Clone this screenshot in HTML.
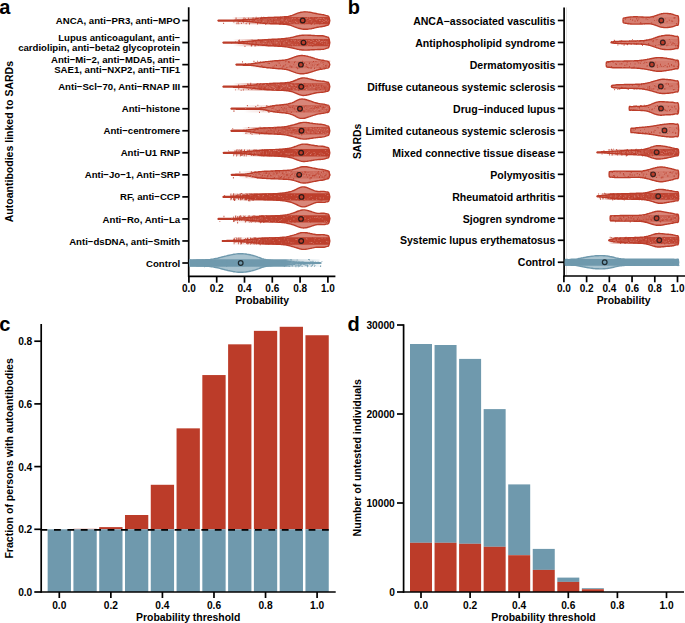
<!DOCTYPE html>
<html><head><meta charset="utf-8"><style>
html,body{margin:0;padding:0;background:#fff;width:685px;height:623px;overflow:hidden}
svg{display:block}
text{font-family:"Liberation Sans", sans-serif;fill:#000}
</style></head><body>
<svg width="685" height="623" viewBox="0 0 685 623" font-family='"Liberation Sans", sans-serif'>
<rect width="685" height="623" fill="#fff"/>
<defs><linearGradient id="g1" gradientUnits="userSpaceOnUse" x1="218.0" y1="0" x2="329.6" y2="0"><stop offset="0.000" stop-color="#BC3C29" stop-opacity="0.0"/><stop offset="0.125" stop-color="#BC3C29" stop-opacity="0.0"/><stop offset="0.161" stop-color="#BC3C29" stop-opacity="0.12"/><stop offset="0.287" stop-color="#BC3C29" stop-opacity="0.3"/><stop offset="0.421" stop-color="#BC3C29" stop-opacity="0.55"/><stop offset="0.556" stop-color="#BC3C29" stop-opacity="0.75"/><stop offset="0.735" stop-color="#BC3C29" stop-opacity="0.85"/><stop offset="1.004" stop-color="#BC3C29" stop-opacity="0.9"/></linearGradient><linearGradient id="g2" gradientUnits="userSpaceOnUse" x1="223.0" y1="0" x2="329.6" y2="0"><stop offset="0.000" stop-color="#BC3C29" stop-opacity="0.0"/><stop offset="0.094" stop-color="#BC3C29" stop-opacity="0.0"/><stop offset="0.141" stop-color="#BC3C29" stop-opacity="0.1"/><stop offset="0.253" stop-color="#BC3C29" stop-opacity="0.3"/><stop offset="0.394" stop-color="#BC3C29" stop-opacity="0.55"/><stop offset="0.535" stop-color="#BC3C29" stop-opacity="0.7"/><stop offset="0.722" stop-color="#BC3C29" stop-opacity="0.85"/><stop offset="1.004" stop-color="#BC3C29" stop-opacity="0.9"/></linearGradient><linearGradient id="g3" gradientUnits="userSpaceOnUse" x1="236.0" y1="0" x2="329.6" y2="0"><stop offset="0.000" stop-color="#BC3C29" stop-opacity="0.0"/><stop offset="0.150" stop-color="#BC3C29" stop-opacity="0.0"/><stop offset="0.214" stop-color="#BC3C29" stop-opacity="0.06"/><stop offset="0.417" stop-color="#BC3C29" stop-opacity="0.15"/><stop offset="0.577" stop-color="#BC3C29" stop-opacity="0.22"/><stop offset="0.791" stop-color="#BC3C29" stop-opacity="0.28"/><stop offset="1.004" stop-color="#BC3C29" stop-opacity="0.28"/></linearGradient><linearGradient id="g4" gradientUnits="userSpaceOnUse" x1="223.0" y1="0" x2="329.6" y2="0"><stop offset="0.000" stop-color="#BC3C29" stop-opacity="0.0"/><stop offset="0.094" stop-color="#BC3C29" stop-opacity="0.0"/><stop offset="0.141" stop-color="#BC3C29" stop-opacity="0.12"/><stop offset="0.253" stop-color="#BC3C29" stop-opacity="0.35"/><stop offset="0.366" stop-color="#BC3C29" stop-opacity="0.6"/><stop offset="0.535" stop-color="#BC3C29" stop-opacity="0.75"/><stop offset="0.704" stop-color="#BC3C29" stop-opacity="0.75"/><stop offset="0.816" stop-color="#BC3C29" stop-opacity="0.55"/><stop offset="1.004" stop-color="#BC3C29" stop-opacity="0.6"/></linearGradient><linearGradient id="g5" gradientUnits="userSpaceOnUse" x1="231.0" y1="0" x2="329.6" y2="0"><stop offset="0.000" stop-color="#BC3C29" stop-opacity="0.0"/><stop offset="0.132" stop-color="#BC3C29" stop-opacity="0.0"/><stop offset="0.193" stop-color="#BC3C29" stop-opacity="0.06"/><stop offset="0.345" stop-color="#BC3C29" stop-opacity="0.15"/><stop offset="0.497" stop-color="#BC3C29" stop-opacity="0.3"/><stop offset="0.649" stop-color="#BC3C29" stop-opacity="0.4"/><stop offset="0.801" stop-color="#BC3C29" stop-opacity="0.45"/><stop offset="1.004" stop-color="#BC3C29" stop-opacity="0.45"/></linearGradient><linearGradient id="g6" gradientUnits="userSpaceOnUse" x1="231.0" y1="0" x2="329.6" y2="0"><stop offset="0.000" stop-color="#BC3C29" stop-opacity="0.0"/><stop offset="0.112" stop-color="#BC3C29" stop-opacity="0.0"/><stop offset="0.152" stop-color="#BC3C29" stop-opacity="0.12"/><stop offset="0.243" stop-color="#BC3C29" stop-opacity="0.35"/><stop offset="0.375" stop-color="#BC3C29" stop-opacity="0.5"/><stop offset="0.548" stop-color="#BC3C29" stop-opacity="0.6"/><stop offset="0.751" stop-color="#BC3C29" stop-opacity="0.65"/><stop offset="1.004" stop-color="#BC3C29" stop-opacity="0.7"/></linearGradient><linearGradient id="g7" gradientUnits="userSpaceOnUse" x1="223.0" y1="0" x2="329.6" y2="0"><stop offset="0.000" stop-color="#BC3C29" stop-opacity="0.0"/><stop offset="0.084" stop-color="#BC3C29" stop-opacity="0.0"/><stop offset="0.103" stop-color="#BC3C29" stop-opacity="0.05"/><stop offset="0.253" stop-color="#BC3C29" stop-opacity="0.15"/><stop offset="0.366" stop-color="#BC3C29" stop-opacity="0.4"/><stop offset="0.441" stop-color="#BC3C29" stop-opacity="0.8"/><stop offset="0.535" stop-color="#BC3C29" stop-opacity="0.9"/><stop offset="0.722" stop-color="#BC3C29" stop-opacity="0.92"/><stop offset="1.004" stop-color="#BC3C29" stop-opacity="0.95"/></linearGradient><linearGradient id="g8" gradientUnits="userSpaceOnUse" x1="231.0" y1="0" x2="329.6" y2="0"><stop offset="0.000" stop-color="#BC3C29" stop-opacity="0.0"/><stop offset="0.091" stop-color="#BC3C29" stop-opacity="0.0"/><stop offset="0.142" stop-color="#BC3C29" stop-opacity="0.08"/><stop offset="0.243" stop-color="#BC3C29" stop-opacity="0.22"/><stop offset="0.345" stop-color="#BC3C29" stop-opacity="0.3"/><stop offset="0.548" stop-color="#BC3C29" stop-opacity="0.35"/><stop offset="0.751" stop-color="#BC3C29" stop-opacity="0.35"/><stop offset="1.004" stop-color="#BC3C29" stop-opacity="0.4"/></linearGradient><linearGradient id="g9" gradientUnits="userSpaceOnUse" x1="223.0" y1="0" x2="329.6" y2="0"><stop offset="0.000" stop-color="#BC3C29" stop-opacity="0.0"/><stop offset="0.056" stop-color="#BC3C29" stop-opacity="0.0"/><stop offset="0.075" stop-color="#BC3C29" stop-opacity="0.05"/><stop offset="0.159" stop-color="#BC3C29" stop-opacity="0.15"/><stop offset="0.225" stop-color="#BC3C29" stop-opacity="0.45"/><stop offset="0.291" stop-color="#BC3C29" stop-opacity="0.85"/><stop offset="0.394" stop-color="#BC3C29" stop-opacity="0.95"/><stop offset="0.722" stop-color="#BC3C29" stop-opacity="0.95"/><stop offset="1.004" stop-color="#BC3C29" stop-opacity="0.95"/></linearGradient><linearGradient id="g10" gradientUnits="userSpaceOnUse" x1="218.0" y1="0" x2="329.6" y2="0"><stop offset="0.000" stop-color="#BC3C29" stop-opacity="0.0"/><stop offset="0.125" stop-color="#BC3C29" stop-opacity="0.0"/><stop offset="0.143" stop-color="#BC3C29" stop-opacity="0.05"/><stop offset="0.269" stop-color="#BC3C29" stop-opacity="0.15"/><stop offset="0.358" stop-color="#BC3C29" stop-opacity="0.4"/><stop offset="0.421" stop-color="#BC3C29" stop-opacity="0.85"/><stop offset="0.511" stop-color="#BC3C29" stop-opacity="0.92"/><stop offset="0.735" stop-color="#BC3C29" stop-opacity="0.95"/><stop offset="1.004" stop-color="#BC3C29" stop-opacity="0.95"/></linearGradient><linearGradient id="g11" gradientUnits="userSpaceOnUse" x1="222.0" y1="0" x2="329.6" y2="0"><stop offset="0.000" stop-color="#BC3C29" stop-opacity="0.0"/><stop offset="0.093" stop-color="#BC3C29" stop-opacity="0.0"/><stop offset="0.112" stop-color="#BC3C29" stop-opacity="0.05"/><stop offset="0.242" stop-color="#BC3C29" stop-opacity="0.15"/><stop offset="0.335" stop-color="#BC3C29" stop-opacity="0.4"/><stop offset="0.400" stop-color="#BC3C29" stop-opacity="0.85"/><stop offset="0.493" stop-color="#BC3C29" stop-opacity="0.92"/><stop offset="0.725" stop-color="#BC3C29" stop-opacity="0.95"/><stop offset="1.004" stop-color="#BC3C29" stop-opacity="0.95"/></linearGradient><linearGradient id="g12" gradientUnits="userSpaceOnUse" x1="189.0" y1="0" x2="322.0" y2="0"><stop offset="0.000" stop-color="#6F99AD" stop-opacity="1"/><stop offset="0.729" stop-color="#6F99AD" stop-opacity="1"/><stop offset="0.767" stop-color="#6F99AD" stop-opacity="0.6"/><stop offset="0.835" stop-color="#6F99AD" stop-opacity="0.3"/><stop offset="1.000" stop-color="#6F99AD" stop-opacity="0.08"/></linearGradient><linearGradient id="g13" gradientUnits="userSpaceOnUse" x1="623.0" y1="0" x2="678.5" y2="0"><stop offset="0.000" stop-color="#BC3C29" stop-opacity="0.1"/><stop offset="0.486" stop-color="#BC3C29" stop-opacity="0.12"/><stop offset="0.991" stop-color="#BC3C29" stop-opacity="0.15"/></linearGradient><linearGradient id="g14" gradientUnits="userSpaceOnUse" x1="611.0" y1="0" x2="678.5" y2="0"><stop offset="0.000" stop-color="#BC3C29" stop-opacity="0.15"/><stop offset="0.430" stop-color="#BC3C29" stop-opacity="0.2"/><stop offset="0.578" stop-color="#BC3C29" stop-opacity="0.2"/><stop offset="0.993" stop-color="#BC3C29" stop-opacity="0.25"/></linearGradient><linearGradient id="g15" gradientUnits="userSpaceOnUse" x1="606.0" y1="0" x2="678.5" y2="0"><stop offset="0.000" stop-color="#BC3C29" stop-opacity="0.12"/><stop offset="0.993" stop-color="#BC3C29" stop-opacity="0.15"/></linearGradient><linearGradient id="g16" gradientUnits="userSpaceOnUse" x1="611.0" y1="0" x2="678.5" y2="0"><stop offset="0.000" stop-color="#BC3C29" stop-opacity="0.15"/><stop offset="0.504" stop-color="#BC3C29" stop-opacity="0.2"/><stop offset="0.993" stop-color="#BC3C29" stop-opacity="0.2"/></linearGradient><linearGradient id="g17" gradientUnits="userSpaceOnUse" x1="629.0" y1="0" x2="678.5" y2="0"><stop offset="0.000" stop-color="#BC3C29" stop-opacity="0.12"/><stop offset="0.990" stop-color="#BC3C29" stop-opacity="0.15"/></linearGradient><linearGradient id="g18" gradientUnits="userSpaceOnUse" x1="631.0" y1="0" x2="678.5" y2="0"><stop offset="0.000" stop-color="#BC3C29" stop-opacity="0.1"/><stop offset="0.989" stop-color="#BC3C29" stop-opacity="0.12"/></linearGradient><linearGradient id="g19" gradientUnits="userSpaceOnUse" x1="597.0" y1="0" x2="678.5" y2="0"><stop offset="0.000" stop-color="#BC3C29" stop-opacity="0.0"/><stop offset="0.110" stop-color="#BC3C29" stop-opacity="0.0"/><stop offset="0.184" stop-color="#BC3C29" stop-opacity="0.15"/><stop offset="0.344" stop-color="#BC3C29" stop-opacity="0.35"/><stop offset="0.528" stop-color="#BC3C29" stop-opacity="0.45"/><stop offset="0.650" stop-color="#BC3C29" stop-opacity="0.75"/><stop offset="0.994" stop-color="#BC3C29" stop-opacity="0.85"/></linearGradient><linearGradient id="g20" gradientUnits="userSpaceOnUse" x1="609.0" y1="0" x2="678.5" y2="0"><stop offset="0.000" stop-color="#BC3C29" stop-opacity="0.12"/><stop offset="0.993" stop-color="#BC3C29" stop-opacity="0.18"/></linearGradient><linearGradient id="g21" gradientUnits="userSpaceOnUse" x1="597.0" y1="0" x2="678.5" y2="0"><stop offset="0.000" stop-color="#BC3C29" stop-opacity="0.0"/><stop offset="0.086" stop-color="#BC3C29" stop-opacity="0.15"/><stop offset="0.160" stop-color="#BC3C29" stop-opacity="0.65"/><stop offset="0.528" stop-color="#BC3C29" stop-opacity="0.8"/><stop offset="0.994" stop-color="#BC3C29" stop-opacity="0.9"/></linearGradient><linearGradient id="g22" gradientUnits="userSpaceOnUse" x1="610.0" y1="0" x2="678.5" y2="0"><stop offset="0.000" stop-color="#BC3C29" stop-opacity="0.3"/><stop offset="0.438" stop-color="#BC3C29" stop-opacity="0.45"/><stop offset="0.730" stop-color="#BC3C29" stop-opacity="0.5"/><stop offset="0.993" stop-color="#BC3C29" stop-opacity="0.5"/></linearGradient><linearGradient id="g23" gradientUnits="userSpaceOnUse" x1="609.0" y1="0" x2="678.5" y2="0"><stop offset="0.000" stop-color="#BC3C29" stop-opacity="0.0"/><stop offset="0.043" stop-color="#BC3C29" stop-opacity="0.3"/><stop offset="0.158" stop-color="#BC3C29" stop-opacity="0.6"/><stop offset="0.446" stop-color="#BC3C29" stop-opacity="0.75"/><stop offset="0.993" stop-color="#BC3C29" stop-opacity="0.85"/></linearGradient><linearGradient id="g24" gradientUnits="userSpaceOnUse" x1="565.2" y1="0" x2="678.6" y2="0"><stop offset="0.000" stop-color="#6F99AD" stop-opacity="1"/><stop offset="1.000" stop-color="#6F99AD" stop-opacity="1"/></linearGradient></defs>
<text x="-0.80" y="13.90" font-size="20" text-anchor="start" font-weight="bold" >a</text>
<text x="180.20" y="24.16" font-size="9.62" text-anchor="end" font-weight="bold" >ANCA, anti−PR3, anti−MPO</text>
<line x1="182.30" y1="20.56" x2="188.70" y2="20.56" stroke="#000" stroke-width="1.7" />
<text x="180.20" y="40.80" font-size="9.62" text-anchor="end" font-weight="bold" >Lupus anticoagulant, anti−</text>
<text x="180.20" y="51.10" font-size="9.62" text-anchor="end" font-weight="bold" >cardiolipin, anti−beta2 glycoprotein</text>
<line x1="182.30" y1="42.60" x2="188.70" y2="42.60" stroke="#000" stroke-width="1.7" />
<text x="180.20" y="62.84" font-size="9.62" text-anchor="end" font-weight="bold" >Anti−Mi−2, anti−MDA5, anti−</text>
<text x="180.20" y="73.14" font-size="9.62" text-anchor="end" font-weight="bold" >SAE1, anti−NXP2, anti−TIF1</text>
<line x1="182.30" y1="64.64" x2="188.70" y2="64.64" stroke="#000" stroke-width="1.7" />
<text x="180.20" y="90.28" font-size="9.62" text-anchor="end" font-weight="bold" >Anti−Scl−70, Anti−RNAP III</text>
<line x1="182.30" y1="86.68" x2="188.70" y2="86.68" stroke="#000" stroke-width="1.7" />
<text x="180.20" y="112.32" font-size="9.62" text-anchor="end" font-weight="bold" >Anti−histone</text>
<line x1="182.30" y1="108.72" x2="188.70" y2="108.72" stroke="#000" stroke-width="1.7" />
<text x="180.20" y="134.36" font-size="9.62" text-anchor="end" font-weight="bold" >Anti−centromere</text>
<line x1="182.30" y1="130.76" x2="188.70" y2="130.76" stroke="#000" stroke-width="1.7" />
<text x="180.20" y="156.40" font-size="9.62" text-anchor="end" font-weight="bold" >Anti−U1 RNP</text>
<line x1="182.30" y1="152.80" x2="188.70" y2="152.80" stroke="#000" stroke-width="1.7" />
<text x="180.20" y="178.44" font-size="9.62" text-anchor="end" font-weight="bold" >Anti−Jo−1, Anti−SRP</text>
<line x1="182.30" y1="174.84" x2="188.70" y2="174.84" stroke="#000" stroke-width="1.7" />
<text x="180.20" y="200.48" font-size="9.62" text-anchor="end" font-weight="bold" >RF, anti−CCP</text>
<line x1="182.30" y1="196.88" x2="188.70" y2="196.88" stroke="#000" stroke-width="1.7" />
<text x="180.20" y="222.52" font-size="9.62" text-anchor="end" font-weight="bold" >Anti−Ro, Anti−La</text>
<line x1="182.30" y1="218.92" x2="188.70" y2="218.92" stroke="#000" stroke-width="1.7" />
<text x="180.20" y="244.56" font-size="9.62" text-anchor="end" font-weight="bold" >Anti−dsDNA, anti−Smith</text>
<line x1="182.30" y1="240.96" x2="188.70" y2="240.96" stroke="#000" stroke-width="1.7" />
<text x="180.20" y="266.60" font-size="9.62" text-anchor="end" font-weight="bold" >Control</text>
<line x1="182.30" y1="263.00" x2="188.70" y2="263.00" stroke="#000" stroke-width="1.7" />
<line x1="188.70" y1="7.30" x2="188.70" y2="277.10" stroke="#000" stroke-width="1.7" />
<line x1="188.00" y1="276.40" x2="335.40" y2="276.40" stroke="#000" stroke-width="1.7" />
<line x1="188.90" y1="276.40" x2="188.90" y2="282.70" stroke="#000" stroke-width="1.7" />
<text x="188.90" y="291.80" font-size="10" text-anchor="middle" font-weight="bold" >0.0</text>
<line x1="216.70" y1="276.40" x2="216.70" y2="282.70" stroke="#000" stroke-width="1.7" />
<text x="216.70" y="291.80" font-size="10" text-anchor="middle" font-weight="bold" >0.2</text>
<line x1="244.50" y1="276.40" x2="244.50" y2="282.70" stroke="#000" stroke-width="1.7" />
<text x="244.50" y="291.80" font-size="10" text-anchor="middle" font-weight="bold" >0.4</text>
<line x1="272.30" y1="276.40" x2="272.30" y2="282.70" stroke="#000" stroke-width="1.7" />
<text x="272.30" y="291.80" font-size="10" text-anchor="middle" font-weight="bold" >0.6</text>
<line x1="300.10" y1="276.40" x2="300.10" y2="282.70" stroke="#000" stroke-width="1.7" />
<text x="300.10" y="291.80" font-size="10" text-anchor="middle" font-weight="bold" >0.8</text>
<line x1="327.90" y1="276.40" x2="327.90" y2="282.70" stroke="#000" stroke-width="1.7" />
<text x="327.90" y="291.80" font-size="10" text-anchor="middle" font-weight="bold" >1.0</text>
<text x="262.10" y="304.20" font-size="10.45" text-anchor="middle" font-weight="bold" >Probability</text>
<text x="0.00" y="0.00" font-size="10.52" text-anchor="middle" font-weight="bold" transform="translate(13.2,141.6) rotate(-90)">Autoantibodies linked to SARDs</text>
<path d="M218.0,20.6 218.4,20.2 219.3,20.2 220.5,20.2 221.8,20.2 223.0,20.1 224.3,20.1 225.5,20.1 226.8,20.1 228.0,20.1 229.3,20.1 230.6,20.1 231.8,20.1 233.1,20.1 234.3,20.1 235.0,20.0 235.6,20.0 236.8,20.0 238.1,20.0 239.4,20.0 240.6,19.9 241.9,19.9 243.1,19.8 244.4,19.8 245.6,19.7 246.9,19.6 248.1,19.6 249.4,19.5 250.0,19.4 250.7,19.4 251.9,19.3 253.2,19.1 254.4,19.0 255.7,18.9 256.9,18.7 258.2,18.5 259.5,18.4 260.7,18.2 262.0,18.0 263.2,17.9 264.5,17.8 265.7,17.7 267.0,17.6 267.0,17.6 268.2,17.5 269.5,17.5 270.8,17.4 272.0,17.4 273.3,17.4 274.5,17.3 275.8,17.3 277.0,17.3 278.3,17.2 279.6,17.2 280.0,17.1 280.8,17.1 282.1,17.0 283.3,16.9 284.6,16.8 285.8,16.7 287.1,16.6 288.3,16.4 289.6,16.1 290.0,16.0 290.9,15.8 292.1,15.4 293.4,14.9 294.6,14.3 295.9,13.8 297.0,13.4 297.1,13.4 298.4,12.9 299.7,12.6 300.9,12.3 302.2,12.1 303.4,11.9 304.5,11.9 304.7,11.8 305.9,11.9 307.2,11.9 308.4,12.1 309.7,12.2 311.0,12.4 312.0,12.6 312.2,12.7 313.5,13.0 314.7,13.2 316.0,13.5 317.2,13.8 318.0,13.9 318.5,14.0 319.8,14.2 321.0,14.4 322.3,14.6 323.5,14.8 324.0,14.9 324.8,15.1 326.0,15.6 326.3,15.6 327.3,15.8 328.2,16.1 328.5,16.3 329.2,17.8 329.8,20.6 L329.8,20.6 329.2,23.4 328.5,24.8 328.2,25.1 327.3,25.3 326.3,25.5 326.0,25.5 324.8,26.0 324.0,26.2 323.5,26.3 322.3,26.5 321.0,26.7 319.8,26.9 318.5,27.1 318.0,27.2 317.2,27.3 316.0,27.6 314.7,27.9 313.5,28.2 312.2,28.4 312.0,28.5 311.0,28.7 309.7,28.9 308.4,29.1 307.2,29.2 305.9,29.3 304.7,29.3 304.5,29.3 303.4,29.2 302.2,29.1 300.9,28.8 299.7,28.5 298.4,28.2 297.1,27.8 297.0,27.7 295.9,27.3 294.6,26.8 293.4,26.3 292.1,25.8 290.9,25.3 290.0,25.1 289.6,25.0 288.3,24.7 287.1,24.5 285.8,24.4 284.6,24.3 283.3,24.2 282.1,24.1 280.8,24.0 280.0,24.0 279.6,24.0 278.3,23.9 277.0,23.9 275.8,23.8 274.5,23.8 273.3,23.8 272.0,23.7 270.8,23.7 269.5,23.6 268.2,23.6 267.0,23.5 267.0,23.5 265.7,23.4 264.5,23.3 263.2,23.2 262.0,23.1 260.7,22.9 259.5,22.8 258.2,22.6 256.9,22.4 255.7,22.3 254.4,22.1 253.2,22.0 251.9,21.8 250.7,21.7 250.0,21.7 249.4,21.6 248.1,21.6 246.9,21.5 245.6,21.4 244.4,21.4 243.1,21.3 241.9,21.3 240.6,21.2 239.4,21.2 238.1,21.1 236.8,21.1 235.6,21.1 235.0,21.1 234.3,21.1 233.1,21.1 231.8,21.0 230.6,21.0 229.3,21.0 228.0,21.0 226.8,21.0 225.5,21.0 224.3,21.0 223.0,21.0 221.8,21.0 220.5,21.0 219.3,21.0 218.4,21.0 218.0,20.6 Z" fill="#d98679" stroke="#BC3C29" stroke-width="1.4" stroke-linejoin="round"/>
<path d="M218.0,16.9 218.4,16.9 219.3,16.9 220.5,16.9 221.8,16.9 223.0,16.9 224.3,16.9 225.5,16.9 226.8,16.9 228.0,16.9 229.3,16.9 230.6,16.9 231.8,16.9 233.1,16.9 234.3,16.9 235.0,16.9 235.6,16.9 236.8,16.9 238.1,16.9 239.4,16.9 240.6,16.9 241.9,16.9 243.1,16.9 244.4,16.9 245.6,16.9 246.9,16.9 248.1,16.9 249.4,16.9 250.0,16.9 250.7,16.9 251.9,16.9 253.2,16.9 254.4,16.9 255.7,16.9 256.9,16.9 258.2,16.9 259.5,16.9 260.7,16.9 262.0,16.9 263.2,16.9 264.5,16.9 265.7,16.9 267.0,16.9 267.0,16.9 268.2,16.9 269.5,16.9 270.8,16.9 272.0,16.9 273.3,16.9 274.5,16.9 275.8,16.9 277.0,16.9 278.3,16.9 279.6,16.9 280.0,16.9 280.8,16.9 282.1,16.9 283.3,16.9 284.6,16.9 285.8,16.9 287.1,16.9 288.3,16.9 289.6,16.9 290.0,16.9 290.9,16.9 292.1,16.9 293.4,16.9 294.6,16.9 295.9,16.9 297.0,16.9 297.1,16.9 298.4,16.9 299.7,16.9 300.9,16.9 302.2,16.9 303.4,16.9 304.5,16.9 304.7,16.9 305.9,16.9 307.2,16.9 308.4,16.9 309.7,16.9 311.0,16.9 312.0,16.9 312.2,16.9 313.5,16.9 314.7,16.9 316.0,16.9 317.2,16.9 318.0,16.9 318.5,16.9 319.8,16.9 321.0,16.9 322.3,16.9 323.5,16.9 324.0,16.9 324.8,16.9 326.0,16.9 326.3,16.9 327.3,16.9 328.2,16.9 328.5,16.9 329.2,17.8 L329.2,23.4 328.5,24.3 328.2,24.3 327.3,24.3 326.3,24.3 326.0,24.3 324.8,24.3 324.0,24.3 323.5,24.3 322.3,24.3 321.0,24.3 319.8,24.3 318.5,24.3 318.0,24.3 317.2,24.3 316.0,24.3 314.7,24.3 313.5,24.3 312.2,24.3 312.0,24.3 311.0,24.3 309.7,24.3 308.4,24.3 307.2,24.3 305.9,24.3 304.7,24.3 304.5,24.3 303.4,24.3 302.2,24.3 300.9,24.3 299.7,24.3 298.4,24.3 297.1,24.3 297.0,24.3 295.9,24.3 294.6,24.3 293.4,24.3 292.1,24.3 290.9,24.3 290.0,24.3 289.6,24.3 288.3,24.3 287.1,24.3 285.8,24.3 284.6,24.3 283.3,24.3 282.1,24.3 280.8,24.3 280.0,24.3 279.6,24.3 278.3,24.3 277.0,24.3 275.8,24.3 274.5,24.3 273.3,24.3 272.0,24.3 270.8,24.3 269.5,24.3 268.2,24.3 267.0,24.3 267.0,24.3 265.7,24.3 264.5,24.3 263.2,24.3 262.0,24.3 260.7,24.3 259.5,24.3 258.2,24.3 256.9,24.3 255.7,24.3 254.4,24.3 253.2,24.3 251.9,24.3 250.7,24.3 250.0,24.3 249.4,24.3 248.1,24.3 246.9,24.3 245.6,24.3 244.4,24.3 243.1,24.3 241.9,24.3 240.6,24.3 239.4,24.3 238.1,24.3 236.8,24.3 235.6,24.3 235.0,24.3 234.3,24.3 233.1,24.3 231.8,24.3 230.6,24.3 229.3,24.3 228.0,24.3 226.8,24.3 225.5,24.3 224.3,24.3 223.0,24.3 221.8,24.3 220.5,24.3 219.3,24.3 218.4,24.3 218.0,24.3 Z" fill="url(#g1)"/>
<path d="M223.2 22.8h.9v1.2h-.9zM233.4 21.3h.9v1.2h-.9zM235.6 17.5h.9v1.6h-.9zM236.5 22.6h.9v1.6h-.9zM238.4 23.3h.9v0.9h-.9zM240.9 23.0h.9v0.9h-.9zM241.1 20.6h.9v0.9h-.9zM243.6 17.6h.9v1.2h-.9zM244.9 17.9h.9v0.9h-.9zM245.7 23.1h.9v1.2h-.9zM246.7 20.5h.9v1.2h-.9zM247.9 17.8h.9v1.6h-.9zM249.0 22.8h.9v1.6h-.9zM250.3 21.1h.9v0.9h-.9zM251.5 20.6h.9v1.6h-.9zM252.6 19.2h.9v1.6h-.9zM254.1 19.5h.9v1.6h-.9zM254.9 18.3h.9v1.6h-.9zM255.7 16.8h.9v0.9h-.9zM257.0 22.8h.9v1.6h-.9zM257.3 19.9h.9v0.9h-.9zM258.2 20.4h.9v1.2h-.9zM259.6 18.8h.9v1.6h-.9zM260.0 21.9h.9v1.6h-.9zM260.9 16.7h.9v0.9h-.9zM262.4 19.2h.9v0.9h-.9zM263.3 16.8h.9v1.2h-.9zM264.7 17.4h.9v1.2h-.9zM265.3 23.4h.9v1.6h-.9zM266.2 21.2h.9v0.9h-.9zM267.2 19.6h.9v0.9h-.9zM267.9 20.3h.9v0.9h-.9zM268.7 22.8h.9v1.2h-.9zM269.8 19.0h.9v0.9h-.9zM271.3 20.8h.9v0.9h-.9zM271.9 21.4h.9v1.6h-.9zM273.1 19.1h.9v1.6h-.9zM273.8 20.2h.9v1.6h-.9zM275.7 22.0h.9v1.2h-.9zM276.1 23.0h.9v0.9h-.9zM277.4 17.6h.9v1.6h-.9zM279.3 23.2h.9v1.2h-.9zM280.0 16.6h.9v1.6h-.9zM281.7 21.9h.9v1.2h-.9zM282.7 22.3h.9v0.9h-.9zM284.1 17.5h.9v1.2h-.9zM284.6 19.5h.9v1.2h-.9zM286.5 22.3h.9v1.2h-.9zM287.8 16.7h.9v1.2h-.9zM289.7 21.0h.9v0.9h-.9zM290.4 22.2h.9v0.9h-.9zM292.1 20.2h.9v1.6h-.9zM292.8 21.7h.9v1.6h-.9zM294.8 18.2h.9v1.2h-.9zM296.3 18.0h.9v0.9h-.9zM297.6 19.1h.9v1.2h-.9zM300.4 17.8h.9v1.2h-.9zM301.3 19.0h.9v1.2h-.9zM304.1 23.3h.9v0.9h-.9zM305.2 20.6h.9v0.9h-.9zM307.0 19.0h.9v1.6h-.9zM308.9 18.5h.9v0.9h-.9zM310.8 23.3h.9v1.6h-.9zM311.7 19.7h.9v1.2h-.9zM314.1 23.5h.9v0.9h-.9zM315.6 20.2h.9v1.6h-.9zM317.9 20.3h.9v1.6h-.9zM319.3 22.9h.9v1.6h-.9zM323.1 21.8h.9v1.6h-.9zM323.6 20.7h.9v1.6h-.9zM326.7 19.6h.9v1.6h-.9zM328.1 22.8h.9v0.9h-.9z" fill="#BC3C29" fill-opacity="0.9"/>
<path d="M237.8 20.8h.8v2.6h-.8zM242.9 18.5h.8v4.8h-.8zM249.0 20.3h.8v1.7h-.8zM252.7 17.3h.8v5.0h-.8zM260.7 19.7h.8v2.5h-.8zM261.5 16.9h.8v5.5h-.8zM267.1 21.5h.8v1.6h-.8zM272.8 20.8h.8v3.3h-.8zM279.9 17.2h.8v7.0h-.8zM285.6 17.0h.8v4.7h-.8z" fill="#BC3C29" fill-opacity="0.8"/>
<path d="M240.7 21.6h1.2v.8h-1.2zM249.7 22.4h0.9v.8h-0.9zM253.7 17.9h1.2v.8h-1.2zM258.8 18.3h1.2v.8h-1.2zM261.8 21.8h0.7v.8h-0.7zM262.9 20.9h1.2v.8h-1.2zM265.9 21.4h0.9v.8h-0.9zM267.5 23.0h0.7v.8h-0.7zM268.0 22.7h0.7v.8h-0.7zM270.5 22.1h0.7v.8h-0.7zM272.1 21.7h0.9v.8h-0.9zM272.5 19.5h0.7v.8h-0.7zM274.3 20.9h0.9v.8h-0.9zM275.6 18.3h1.2v.8h-1.2zM276.7 21.6h1.2v.8h-1.2zM277.2 21.6h1.2v.8h-1.2zM278.9 21.4h0.7v.8h-0.7zM279.9 19.8h0.7v.8h-0.7zM281.1 19.4h1.2v.8h-1.2zM282.1 19.6h1.2v.8h-1.2zM282.6 17.4h1.2v.8h-1.2zM283.9 22.1h0.7v.8h-0.7zM285.0 20.4h1.2v.8h-1.2zM286.0 19.5h0.9v.8h-0.9zM286.2 20.4h0.9v.8h-0.9zM287.0 21.4h0.9v.8h-0.9zM288.5 19.4h0.9v.8h-0.9zM289.0 22.0h1.2v.8h-1.2zM290.2 22.5h1.2v.8h-1.2zM291.4 19.5h0.7v.8h-0.7zM291.8 18.0h1.2v.8h-1.2zM292.6 21.6h0.7v.8h-0.7zM293.6 23.0h0.9v.8h-0.9zM294.6 18.1h0.9v.8h-0.9zM295.0 21.3h1.2v.8h-1.2zM296.0 22.0h0.7v.8h-0.7zM296.7 22.5h0.9v.8h-0.9zM297.9 17.9h0.7v.8h-0.7zM298.8 17.7h1.2v.8h-1.2zM299.3 22.9h0.9v.8h-0.9zM300.1 17.9h1.2v.8h-1.2zM301.0 18.2h1.2v.8h-1.2zM301.5 20.5h0.7v.8h-0.7zM302.3 19.8h1.2v.8h-1.2zM303.1 21.6h1.2v.8h-1.2zM304.0 18.3h1.2v.8h-1.2zM304.5 22.5h1.2v.8h-1.2zM305.8 18.5h1.2v.8h-1.2zM306.4 21.7h1.2v.8h-1.2zM307.0 17.6h1.2v.8h-1.2zM307.6 20.0h0.7v.8h-0.7zM308.9 17.4h1.2v.8h-1.2zM309.1 19.0h1.2v.8h-1.2zM309.9 19.0h1.2v.8h-1.2zM310.7 21.4h1.2v.8h-1.2zM311.4 19.8h1.2v.8h-1.2zM312.7 17.5h0.9v.8h-0.9zM313.0 23.0h0.7v.8h-0.7zM313.8 22.4h0.7v.8h-0.7zM314.9 22.5h0.7v.8h-0.7zM315.5 18.6h0.7v.8h-0.7zM315.9 19.5h1.2v.8h-1.2zM316.9 18.5h1.2v.8h-1.2zM317.9 17.9h0.7v.8h-0.7zM318.3 17.4h0.9v.8h-0.9zM319.3 20.1h1.2v.8h-1.2zM319.5 17.9h1.2v.8h-1.2zM320.7 18.2h0.9v.8h-0.9zM321.5 22.2h1.2v.8h-1.2zM322.3 20.0h0.7v.8h-0.7zM322.9 18.3h1.2v.8h-1.2zM323.4 21.1h1.2v.8h-1.2zM323.9 18.8h0.9v.8h-0.9zM324.9 20.3h0.7v.8h-0.7zM325.8 18.9h0.7v.8h-0.7zM326.1 20.2h0.9v.8h-0.9zM326.9 20.9h0.7v.8h-0.7zM327.8 20.3h0.7v.8h-0.7z" fill="#d98679" fill-opacity="0.85"/>
<circle cx="302.70" cy="20.56" r="2.35" fill="#BC3C29" stroke="#2a1a18" stroke-width="1.2"/>
<path d="M223.0,42.6 223.4,42.2 224.2,42.2 225.4,42.2 226.6,42.2 227.8,42.2 229.0,42.1 230.2,42.1 231.4,42.1 232.6,42.1 233.8,42.1 235.0,42.1 236.2,42.1 237.0,42.1 237.4,42.1 238.6,42.0 239.8,42.0 241.0,41.9 242.2,41.8 243.4,41.7 244.6,41.7 245.8,41.6 247.0,41.5 248.2,41.4 249.4,41.2 250.0,41.2 250.6,41.1 251.8,41.0 253.0,40.9 254.2,40.8 255.4,40.7 256.6,40.6 257.8,40.5 259.0,40.3 260.2,40.2 261.4,40.1 262.6,40.0 263.8,39.9 265.0,39.8 266.2,39.7 267.0,39.6 267.4,39.6 268.6,39.5 269.8,39.4 271.0,39.4 272.2,39.3 273.4,39.3 274.6,39.2 275.8,39.2 277.0,39.1 278.2,39.0 279.4,39.0 280.6,38.9 281.8,38.8 283.0,38.7 284.2,38.6 285.0,38.5 285.4,38.5 286.6,38.3 287.8,38.1 289.0,37.9 290.2,37.7 291.4,37.4 292.6,37.2 293.5,37.0 293.8,36.9 295.0,36.6 296.2,36.3 297.4,36.0 298.6,35.8 299.8,35.5 300.0,35.5 301.0,35.4 302.2,35.2 303.4,35.2 304.6,35.1 305.0,35.1 305.8,35.1 307.0,35.1 308.2,35.2 309.4,35.2 310.6,35.3 311.8,35.4 313.0,35.5 314.2,35.5 315.0,35.6 315.4,35.6 316.6,35.6 317.8,35.7 319.0,35.7 320.2,35.7 321.4,35.8 322.6,35.8 323.8,36.0 324.0,36.1 325.0,36.3 326.2,36.8 326.3,36.8 327.4,37.1 328.2,37.3 328.6,37.7 329.2,39.3 329.8,42.6 L329.8,42.6 329.2,45.9 328.6,47.5 328.2,47.9 327.4,48.1 326.3,48.4 326.2,48.4 325.0,48.9 324.0,49.1 323.8,49.2 322.6,49.4 321.4,49.4 320.2,49.5 319.0,49.5 317.8,49.5 316.6,49.6 315.4,49.6 315.0,49.6 314.2,49.7 313.0,49.7 311.8,49.8 310.6,49.9 309.4,50.0 308.2,50.0 307.0,50.1 305.8,50.1 305.0,50.1 304.6,50.1 303.4,50.0 302.2,50.0 301.0,49.8 300.0,49.7 299.8,49.7 298.6,49.4 297.4,49.2 296.2,48.9 295.0,48.6 293.8,48.3 293.5,48.2 292.6,48.0 291.4,47.8 290.2,47.5 289.0,47.3 287.8,47.1 286.6,46.9 285.4,46.7 285.0,46.7 284.2,46.6 283.0,46.5 281.8,46.4 280.6,46.3 279.4,46.2 278.2,46.2 277.0,46.1 275.8,46.0 274.6,46.0 273.4,45.9 272.2,45.9 271.0,45.8 269.8,45.8 268.6,45.7 267.4,45.6 267.0,45.6 266.2,45.5 265.0,45.4 263.8,45.3 262.6,45.2 261.4,45.1 260.2,45.0 259.0,44.9 257.8,44.7 256.6,44.6 255.4,44.5 254.2,44.4 253.0,44.3 251.8,44.2 250.6,44.1 250.0,44.0 249.4,44.0 248.2,43.8 247.0,43.7 245.8,43.6 244.6,43.5 243.4,43.5 242.2,43.4 241.0,43.3 239.8,43.2 238.6,43.2 237.4,43.1 237.0,43.1 236.2,43.1 235.0,43.1 233.8,43.1 232.6,43.1 231.4,43.1 230.2,43.1 229.0,43.1 227.8,43.0 226.6,43.0 225.4,43.0 224.2,43.0 223.4,43.0 223.0,42.6 Z" fill="#d98679" stroke="#BC3C29" stroke-width="1.4" stroke-linejoin="round"/>
<path d="M223.0,38.9 223.4,38.9 224.2,38.9 225.4,38.9 226.6,38.9 227.8,38.9 229.0,38.9 230.2,38.9 231.4,38.9 232.6,38.9 233.8,38.9 235.0,38.9 236.2,38.9 237.0,38.9 237.4,38.9 238.6,38.9 239.8,38.9 241.0,38.9 242.2,38.9 243.4,38.9 244.6,38.9 245.8,38.9 247.0,38.9 248.2,38.9 249.4,38.9 250.0,38.9 250.6,38.9 251.8,38.9 253.0,38.9 254.2,38.9 255.4,38.9 256.6,38.9 257.8,38.9 259.0,38.9 260.2,38.9 261.4,38.9 262.6,38.9 263.8,38.9 265.0,38.9 266.2,38.9 267.0,38.9 267.4,38.9 268.6,38.9 269.8,38.9 271.0,38.9 272.2,38.9 273.4,38.9 274.6,38.9 275.8,38.9 277.0,38.9 278.2,38.9 279.4,38.9 280.6,38.9 281.8,38.9 283.0,38.9 284.2,38.9 285.0,38.9 285.4,38.9 286.6,38.9 287.8,38.9 289.0,38.9 290.2,38.9 291.4,38.9 292.6,38.9 293.5,38.9 293.8,38.9 295.0,38.9 296.2,38.9 297.4,38.9 298.6,38.9 299.8,38.9 300.0,38.9 301.0,38.9 302.2,38.9 303.4,38.9 304.6,38.9 305.0,38.9 305.8,38.9 307.0,38.9 308.2,38.9 309.4,38.9 310.6,38.9 311.8,38.9 313.0,38.9 314.2,38.9 315.0,38.9 315.4,38.9 316.6,38.9 317.8,38.9 319.0,38.9 320.2,38.9 321.4,38.9 322.6,38.9 323.8,38.9 324.0,38.9 325.0,38.9 326.2,38.9 326.3,38.9 327.4,38.9 328.2,38.9 328.6,38.9 329.2,39.3 L329.2,45.9 328.6,46.3 328.2,46.3 327.4,46.3 326.3,46.3 326.2,46.3 325.0,46.3 324.0,46.3 323.8,46.3 322.6,46.3 321.4,46.3 320.2,46.3 319.0,46.3 317.8,46.3 316.6,46.3 315.4,46.3 315.0,46.3 314.2,46.3 313.0,46.3 311.8,46.3 310.6,46.3 309.4,46.3 308.2,46.3 307.0,46.3 305.8,46.3 305.0,46.3 304.6,46.3 303.4,46.3 302.2,46.3 301.0,46.3 300.0,46.3 299.8,46.3 298.6,46.3 297.4,46.3 296.2,46.3 295.0,46.3 293.8,46.3 293.5,46.3 292.6,46.3 291.4,46.3 290.2,46.3 289.0,46.3 287.8,46.3 286.6,46.3 285.4,46.3 285.0,46.3 284.2,46.3 283.0,46.3 281.8,46.3 280.6,46.3 279.4,46.3 278.2,46.3 277.0,46.3 275.8,46.3 274.6,46.3 273.4,46.3 272.2,46.3 271.0,46.3 269.8,46.3 268.6,46.3 267.4,46.3 267.0,46.3 266.2,46.3 265.0,46.3 263.8,46.3 262.6,46.3 261.4,46.3 260.2,46.3 259.0,46.3 257.8,46.3 256.6,46.3 255.4,46.3 254.2,46.3 253.0,46.3 251.8,46.3 250.6,46.3 250.0,46.3 249.4,46.3 248.2,46.3 247.0,46.3 245.8,46.3 244.6,46.3 243.4,46.3 242.2,46.3 241.0,46.3 239.8,46.3 238.6,46.3 237.4,46.3 237.0,46.3 236.2,46.3 235.0,46.3 233.8,46.3 232.6,46.3 231.4,46.3 230.2,46.3 229.0,46.3 227.8,46.3 226.6,46.3 225.4,46.3 224.2,46.3 223.4,46.3 223.0,46.3 Z" fill="url(#g2)"/>
<path d="M231.2 42.7h.9v0.9h-.9zM235.0 41.6h.9v0.9h-.9zM238.3 39.9h.9v1.2h-.9zM239.2 40.7h.9v1.2h-.9zM241.8 40.7h.9v0.9h-.9zM243.2 41.7h.9v1.2h-.9zM244.5 45.7h.9v1.2h-.9zM246.2 41.1h.9v0.9h-.9zM246.8 41.8h.9v1.6h-.9zM248.0 41.2h.9v0.9h-.9zM249.4 42.7h.9v1.2h-.9zM250.7 45.3h.9v0.9h-.9zM251.2 44.9h.9v1.6h-.9zM252.6 41.3h.9v0.9h-.9zM253.2 40.5h.9v1.6h-.9zM254.5 44.9h.9v1.6h-.9zM255.7 42.1h.9v0.9h-.9zM256.0 43.5h.9v0.9h-.9zM257.7 39.1h.9v0.9h-.9zM257.9 44.8h.9v0.9h-.9zM259.8 40.8h.9v1.2h-.9zM260.3 42.1h.9v0.9h-.9zM261.2 40.0h.9v1.6h-.9zM262.4 41.6h.9v1.2h-.9zM263.2 44.5h.9v1.6h-.9zM264.3 44.5h.9v0.9h-.9zM264.7 42.0h.9v0.9h-.9zM266.1 44.1h.9v1.2h-.9zM267.0 41.9h.9v0.9h-.9zM268.4 41.3h.9v0.9h-.9zM268.5 42.5h.9v0.9h-.9zM269.9 40.0h.9v0.9h-.9zM271.0 40.8h.9v1.6h-.9zM271.9 43.6h.9v1.6h-.9zM272.5 44.1h.9v1.2h-.9zM274.0 39.0h.9v0.9h-.9zM274.6 43.8h.9v1.2h-.9zM275.6 44.4h.9v1.2h-.9zM277.4 41.8h.9v0.9h-.9zM277.8 39.0h.9v1.2h-.9zM279.1 43.4h.9v1.6h-.9zM280.5 40.3h.9v1.2h-.9zM281.6 43.2h.9v1.2h-.9zM282.6 41.3h.9v1.6h-.9zM284.0 43.1h.9v1.6h-.9zM284.8 40.4h.9v0.9h-.9zM286.2 42.0h.9v1.2h-.9zM287.7 42.3h.9v1.6h-.9zM288.8 43.1h.9v0.9h-.9zM290.0 40.0h.9v1.6h-.9zM291.0 45.4h.9v1.2h-.9zM292.6 40.7h.9v1.6h-.9zM293.7 40.8h.9v0.9h-.9zM295.7 40.4h.9v0.9h-.9zM296.6 39.1h.9v0.9h-.9zM298.3 41.6h.9v1.2h-.9zM300.5 44.1h.9v1.6h-.9zM301.8 43.6h.9v1.2h-.9zM303.2 40.0h.9v1.2h-.9zM305.8 39.6h.9v1.6h-.9zM306.8 40.9h.9v1.6h-.9zM309.4 44.1h.9v0.9h-.9zM311.1 42.1h.9v0.9h-.9zM312.3 45.2h.9v1.6h-.9zM314.7 43.3h.9v0.9h-.9zM315.3 43.0h.9v1.6h-.9zM318.0 44.1h.9v0.9h-.9zM320.9 43.9h.9v0.9h-.9zM322.3 41.0h.9v0.9h-.9zM324.4 40.4h.9v0.9h-.9zM326.7 41.7h.9v0.9h-.9zM328.9 42.1h.9v0.9h-.9z" fill="#BC3C29" fill-opacity="0.9"/>
<path d="M238.9 39.4h.8v4.5h-.8zM245.3 40.7h.8v1.6h-.8zM251.7 39.6h.8v5.8h-.8zM255.4 40.6h.8v5.6h-.8zM261.6 39.9h.8v4.0h-.8zM267.6 39.7h.8v6.5h-.8zM272.9 39.9h.8v6.0h-.8zM281.1 42.2h.8v3.5h-.8zM285.0 41.1h.8v2.0h-.8zM289.3 38.9h.8v2.3h-.8z" fill="#BC3C29" fill-opacity="0.8"/>
<path d="M247.7 40.1h0.9v.8h-0.9zM250.6 39.7h1.2v.8h-1.2zM254.7 42.5h0.9v.8h-0.9zM259.7 44.8h0.7v.8h-0.7zM261.8 42.6h0.7v.8h-0.7zM262.9 43.0h1.2v.8h-1.2zM264.9 41.1h0.9v.8h-0.9zM267.8 42.6h0.7v.8h-0.7zM268.3 43.6h0.9v.8h-0.9zM270.5 42.7h0.7v.8h-0.7zM271.2 43.9h1.2v.8h-1.2zM273.5 42.4h0.9v.8h-0.9zM273.9 40.4h0.7v.8h-0.7zM275.8 42.6h0.9v.8h-0.9zM276.4 42.1h1.2v.8h-1.2zM278.2 40.2h1.2v.8h-1.2zM279.7 42.8h1.2v.8h-1.2zM280.0 44.0h0.7v.8h-0.7zM281.3 40.0h0.9v.8h-0.9zM282.9 42.4h1.2v.8h-1.2zM283.8 43.5h1.2v.8h-1.2zM284.5 41.6h0.9v.8h-0.9zM285.8 40.8h1.2v.8h-1.2zM286.6 41.4h0.7v.8h-0.7zM288.0 42.4h0.9v.8h-0.9zM288.4 43.2h1.2v.8h-1.2zM289.8 42.5h0.7v.8h-0.7zM290.6 39.9h1.2v.8h-1.2zM291.5 44.0h0.7v.8h-0.7zM292.1 44.6h0.7v.8h-0.7zM293.3 39.8h0.7v.8h-0.7zM294.1 40.7h1.2v.8h-1.2zM294.7 40.3h1.2v.8h-1.2zM295.2 44.2h0.7v.8h-0.7zM296.8 44.5h1.2v.8h-1.2zM297.4 39.5h0.7v.8h-0.7zM297.8 41.2h1.2v.8h-1.2zM299.0 40.4h0.7v.8h-0.7zM299.4 42.0h0.7v.8h-0.7zM300.3 44.6h1.2v.8h-1.2zM301.4 39.7h1.2v.8h-1.2zM301.8 40.2h0.7v.8h-0.7zM302.4 42.1h0.9v.8h-0.9zM303.2 42.3h1.2v.8h-1.2zM303.8 43.6h0.9v.8h-0.9zM304.7 41.8h0.9v.8h-0.9zM305.4 40.1h1.2v.8h-1.2zM306.1 41.3h0.7v.8h-0.7zM306.8 44.9h0.9v.8h-0.9zM307.8 43.6h0.9v.8h-0.9zM308.4 39.9h1.2v.8h-1.2zM309.5 43.9h0.9v.8h-0.9zM310.4 41.1h1.2v.8h-1.2zM310.6 43.8h0.9v.8h-0.9zM311.6 39.3h0.9v.8h-0.9zM312.2 44.3h1.2v.8h-1.2zM312.6 40.2h1.2v.8h-1.2zM313.4 41.9h1.2v.8h-1.2zM314.7 43.1h0.9v.8h-0.9zM315.1 42.2h1.2v.8h-1.2zM316.1 40.2h0.9v.8h-0.9zM316.2 40.1h0.7v.8h-0.7zM317.3 40.9h1.2v.8h-1.2zM318.2 39.6h1.2v.8h-1.2zM319.0 40.5h0.9v.8h-0.9zM319.1 40.0h0.9v.8h-0.9zM320.1 41.9h0.9v.8h-0.9zM320.7 41.3h1.2v.8h-1.2zM321.7 42.7h1.2v.8h-1.2zM321.9 40.9h1.2v.8h-1.2zM322.8 39.4h0.7v.8h-0.7zM323.8 41.2h1.2v.8h-1.2zM324.3 43.6h0.9v.8h-0.9zM325.0 40.7h0.7v.8h-0.7zM326.0 41.6h0.7v.8h-0.7zM326.3 43.6h0.9v.8h-0.9zM326.8 41.6h0.7v.8h-0.7zM327.7 44.4h1.2v.8h-1.2z" fill="#d98679" fill-opacity="0.85"/>
<circle cx="303.50" cy="42.60" r="2.35" fill="#BC3C29" stroke="#2a1a18" stroke-width="1.2"/>
<path d="M236.0,64.6 236.4,64.2 237.1,64.2 238.1,64.2 239.2,64.2 240.2,64.2 241.3,64.1 242.3,64.1 243.4,64.1 244.4,64.1 245.5,64.1 246.5,64.1 247.6,64.1 248.6,64.0 249.7,64.0 250.0,64.0 250.8,63.9 251.8,63.8 252.9,63.7 253.9,63.6 255.0,63.4 256.0,63.2 257.1,63.0 258.1,62.9 259.2,62.7 260.2,62.5 260.6,62.5 261.3,62.4 262.3,62.2 263.4,62.1 264.5,62.0 265.5,61.8 266.6,61.7 267.6,61.6 268.7,61.5 269.7,61.4 270.8,61.2 271.8,61.1 272.9,61.0 273.9,60.9 275.0,60.8 276.0,60.8 276.0,60.8 277.1,60.7 278.2,60.6 279.2,60.5 280.3,60.5 281.3,60.4 282.4,60.3 283.4,60.2 284.5,60.1 285.5,59.9 286.0,59.8 286.6,59.7 287.6,59.5 288.7,59.1 289.8,58.8 290.8,58.4 291.9,58.0 292.9,57.6 294.0,57.2 294.0,57.2 295.0,56.8 296.1,56.5 297.1,56.2 298.2,55.9 299.2,55.7 300.3,55.6 301.0,55.5 301.3,55.5 302.4,55.5 303.5,55.6 304.5,55.7 305.6,55.9 306.6,56.1 307.7,56.3 308.7,56.6 309.8,56.9 310.0,56.9 310.8,57.2 311.9,57.5 312.9,57.8 314.0,58.2 315.0,58.6 316.1,58.9 317.2,59.2 318.2,59.5 319.3,59.7 320.0,59.9 320.3,59.9 321.4,60.1 322.4,60.2 323.5,60.3 324.5,60.6 325.6,60.9 326.0,61.0 326.3,61.0 326.6,61.1 327.7,61.3 328.2,61.4 328.7,61.8 329.2,62.6 329.8,64.6 L329.8,64.6 329.2,66.6 328.7,67.4 328.2,67.9 327.7,68.0 326.6,68.1 326.3,68.2 326.0,68.3 325.6,68.4 324.5,68.7 323.5,68.9 322.4,69.1 321.4,69.2 320.3,69.4 320.0,69.4 319.3,69.5 318.2,69.8 317.2,70.0 316.1,70.4 315.0,70.7 314.0,71.1 312.9,71.4 311.9,71.8 310.8,72.1 310.0,72.4 309.8,72.4 308.7,72.7 307.7,73.0 306.6,73.2 305.6,73.4 304.5,73.6 303.5,73.7 302.4,73.8 301.3,73.8 301.0,73.8 300.3,73.7 299.2,73.6 298.2,73.4 297.1,73.1 296.1,72.8 295.0,72.4 294.0,72.1 294.0,72.1 292.9,71.7 291.9,71.3 290.8,70.9 289.8,70.5 288.7,70.1 287.6,69.8 286.6,69.6 286.0,69.4 285.5,69.3 284.5,69.2 283.4,69.1 282.4,69.0 281.3,68.9 280.3,68.8 279.2,68.7 278.2,68.7 277.1,68.6 276.0,68.5 276.0,68.5 275.0,68.4 273.9,68.3 272.9,68.2 271.8,68.1 270.8,68.0 269.7,67.9 268.7,67.8 267.6,67.7 266.6,67.6 265.5,67.4 264.5,67.3 263.4,67.2 262.3,67.0 261.3,66.9 260.6,66.8 260.2,66.7 259.2,66.6 258.1,66.4 257.1,66.2 256.0,66.1 255.0,65.9 253.9,65.7 252.9,65.6 251.8,65.5 250.8,65.4 250.0,65.3 249.7,65.3 248.6,65.3 247.6,65.2 246.5,65.2 245.5,65.2 244.4,65.2 243.4,65.2 242.3,65.1 241.3,65.1 240.2,65.1 239.2,65.1 238.1,65.1 237.1,65.1 236.4,65.0 236.0,64.6 Z" fill="#d98679" stroke="#BC3C29" stroke-width="1.4" stroke-linejoin="round"/>
<path d="M236.0,60.9 236.4,60.9 237.1,60.9 238.1,60.9 239.2,60.9 240.2,60.9 241.3,60.9 242.3,60.9 243.4,60.9 244.4,60.9 245.5,60.9 246.5,60.9 247.6,60.9 248.6,60.9 249.7,60.9 250.0,60.9 250.8,60.9 251.8,60.9 252.9,60.9 253.9,60.9 255.0,60.9 256.0,60.9 257.1,60.9 258.1,60.9 259.2,60.9 260.2,60.9 260.6,60.9 261.3,60.9 262.3,60.9 263.4,60.9 264.5,60.9 265.5,60.9 266.6,60.9 267.6,60.9 268.7,60.9 269.7,60.9 270.8,60.9 271.8,60.9 272.9,60.9 273.9,60.9 275.0,60.9 276.0,60.9 276.0,60.9 277.1,60.9 278.2,60.9 279.2,60.9 280.3,60.9 281.3,60.9 282.4,60.9 283.4,60.9 284.5,60.9 285.5,60.9 286.0,60.9 286.6,60.9 287.6,60.9 288.7,60.9 289.8,60.9 290.8,60.9 291.9,60.9 292.9,60.9 294.0,60.9 294.0,60.9 295.0,60.9 296.1,60.9 297.1,60.9 298.2,60.9 299.2,60.9 300.3,60.9 301.0,60.9 301.3,60.9 302.4,60.9 303.5,60.9 304.5,60.9 305.6,60.9 306.6,60.9 307.7,60.9 308.7,60.9 309.8,60.9 310.0,60.9 310.8,60.9 311.9,60.9 312.9,60.9 314.0,60.9 315.0,60.9 316.1,60.9 317.2,60.9 318.2,60.9 319.3,60.9 320.0,60.9 320.3,60.9 321.4,60.9 322.4,60.9 323.5,60.9 324.5,60.9 325.6,60.9 326.0,60.9 326.3,60.9 326.6,60.9 327.7,60.9 328.2,60.9 328.7,61.8 329.2,62.6 L329.2,66.6 328.7,67.4 328.2,68.3 327.7,68.3 326.6,68.3 326.3,68.3 326.0,68.3 325.6,68.3 324.5,68.3 323.5,68.3 322.4,68.3 321.4,68.3 320.3,68.3 320.0,68.3 319.3,68.3 318.2,68.3 317.2,68.3 316.1,68.3 315.0,68.3 314.0,68.3 312.9,68.3 311.9,68.3 310.8,68.3 310.0,68.3 309.8,68.3 308.7,68.3 307.7,68.3 306.6,68.3 305.6,68.3 304.5,68.3 303.5,68.3 302.4,68.3 301.3,68.3 301.0,68.3 300.3,68.3 299.2,68.3 298.2,68.3 297.1,68.3 296.1,68.3 295.0,68.3 294.0,68.3 294.0,68.3 292.9,68.3 291.9,68.3 290.8,68.3 289.8,68.3 288.7,68.3 287.6,68.3 286.6,68.3 286.0,68.3 285.5,68.3 284.5,68.3 283.4,68.3 282.4,68.3 281.3,68.3 280.3,68.3 279.2,68.3 278.2,68.3 277.1,68.3 276.0,68.3 276.0,68.3 275.0,68.3 273.9,68.3 272.9,68.3 271.8,68.3 270.8,68.3 269.7,68.3 268.7,68.3 267.6,68.3 266.6,68.3 265.5,68.3 264.5,68.3 263.4,68.3 262.3,68.3 261.3,68.3 260.6,68.3 260.2,68.3 259.2,68.3 258.1,68.3 257.1,68.3 256.0,68.3 255.0,68.3 253.9,68.3 252.9,68.3 251.8,68.3 250.8,68.3 250.0,68.3 249.7,68.3 248.6,68.3 247.6,68.3 246.5,68.3 245.5,68.3 244.4,68.3 243.4,68.3 242.3,68.3 241.3,68.3 240.2,68.3 239.2,68.3 238.1,68.3 237.1,68.3 236.4,68.3 236.0,68.3 Z" fill="url(#g3)"/>
<path d="M242.1 61.3h.9v1.2h-.9zM245.1 62.9h.9v1.6h-.9zM253.5 60.8h.9v1.6h-.9zM254.9 62.2h.9v0.9h-.9zM257.2 60.8h.9v0.9h-.9zM260.1 61.5h.9v1.2h-.9zM261.4 65.1h.9v1.2h-.9zM263.2 61.4h.9v1.6h-.9zM264.8 61.7h.9v1.2h-.9zM266.5 67.0h.9v1.2h-.9zM267.7 63.0h.9v0.9h-.9zM269.1 63.0h.9v0.9h-.9zM271.5 61.3h.9v1.2h-.9zM272.6 66.3h.9v1.2h-.9zM274.1 65.4h.9v0.9h-.9zM275.6 64.5h.9v1.2h-.9zM276.1 65.0h.9v0.9h-.9zM277.4 61.4h.9v0.9h-.9zM278.7 62.5h.9v1.2h-.9zM279.9 64.8h.9v0.9h-.9zM281.6 67.4h.9v1.6h-.9zM282.3 66.4h.9v0.9h-.9zM283.3 65.2h.9v1.6h-.9zM284.8 64.3h.9v1.2h-.9zM285.4 60.7h.9v1.6h-.9zM286.4 67.0h.9v1.2h-.9zM288.0 61.1h.9v1.6h-.9zM289.1 61.6h.9v1.2h-.9zM289.7 65.6h.9v1.6h-.9zM291.0 66.4h.9v0.9h-.9zM291.4 66.2h.9v1.6h-.9zM292.8 63.9h.9v1.2h-.9zM294.0 61.9h.9v1.6h-.9zM294.6 60.9h.9v0.9h-.9zM295.7 66.7h.9v1.2h-.9zM296.9 67.6h.9v1.6h-.9zM297.9 62.4h.9v0.9h-.9zM298.4 66.8h.9v1.6h-.9zM299.9 63.5h.9v1.6h-.9zM300.2 62.9h.9v1.2h-.9zM302.0 64.2h.9v1.6h-.9zM302.2 60.7h.9v1.2h-.9zM303.2 63.8h.9v1.2h-.9zM304.0 62.1h.9v1.6h-.9zM305.7 65.7h.9v1.6h-.9zM305.9 64.2h.9v0.9h-.9zM307.1 66.8h.9v1.2h-.9zM308.4 67.0h.9v1.6h-.9zM309.2 62.9h.9v1.2h-.9zM309.3 62.6h.9v0.9h-.9zM310.6 67.3h.9v1.6h-.9zM311.6 64.2h.9v1.6h-.9zM312.5 61.3h.9v1.2h-.9zM313.1 61.0h.9v1.2h-.9zM314.0 67.7h.9v1.2h-.9zM314.6 64.8h.9v1.2h-.9zM315.5 61.0h.9v0.9h-.9zM316.8 64.3h.9v1.6h-.9zM317.3 64.2h.9v1.2h-.9zM318.3 63.7h.9v0.9h-.9zM319.3 67.4h.9v0.9h-.9zM319.9 67.4h.9v1.6h-.9zM320.8 61.5h.9v1.6h-.9zM322.5 61.7h.9v1.2h-.9zM322.9 63.5h.9v1.2h-.9zM323.6 66.6h.9v1.2h-.9zM324.9 65.1h.9v1.6h-.9zM325.2 65.8h.9v1.2h-.9zM326.3 64.7h.9v1.6h-.9zM327.8 62.1h.9v0.9h-.9zM328.6 66.4h.9v1.2h-.9zM329.3 60.7h.9v0.9h-.9z" fill="#BC3C29" fill-opacity="0.9"/>
<path d="M248.8 63.6h0.7v.8h-0.7zM255.9 64.3h1.2v.8h-1.2zM265.2 62.0h1.2v.8h-1.2zM269.8 64.6h0.7v.8h-0.7zM272.6 65.7h0.7v.8h-0.7zM274.8 65.5h1.2v.8h-1.2zM276.8 62.8h0.7v.8h-0.7zM277.5 67.0h0.9v.8h-0.9zM280.7 65.5h0.9v.8h-0.9zM281.1 63.7h1.2v.8h-1.2zM283.6 63.7h1.2v.8h-1.2zM285.1 65.8h1.2v.8h-1.2zM286.0 62.3h0.7v.8h-0.7zM287.2 65.0h1.2v.8h-1.2zM288.0 65.5h0.9v.8h-0.9zM289.5 64.3h0.7v.8h-0.7zM290.4 66.4h0.7v.8h-0.7zM291.3 64.0h1.2v.8h-1.2zM292.4 64.0h1.2v.8h-1.2zM294.1 62.9h0.7v.8h-0.7zM295.2 66.6h0.7v.8h-0.7zM295.4 63.1h0.7v.8h-0.7zM296.2 65.3h1.2v.8h-1.2zM297.4 63.7h0.7v.8h-0.7zM298.2 66.7h0.9v.8h-0.9zM299.1 66.8h0.9v.8h-0.9zM300.3 61.5h0.9v.8h-0.9zM301.1 67.1h0.9v.8h-0.9zM301.9 64.8h0.7v.8h-0.7zM302.5 61.7h1.2v.8h-1.2zM303.7 64.2h1.2v.8h-1.2zM304.2 61.6h0.7v.8h-0.7zM305.1 64.5h0.9v.8h-0.9zM305.9 62.4h0.7v.8h-0.7zM307.0 63.4h0.9v.8h-0.9zM307.2 63.1h0.9v.8h-0.9zM308.3 64.8h1.2v.8h-1.2zM308.7 66.1h1.2v.8h-1.2zM309.8 66.7h0.7v.8h-0.7zM310.2 63.2h0.9v.8h-0.9zM311.0 64.6h0.9v.8h-0.9zM311.9 61.3h0.9v.8h-0.9zM312.5 63.4h1.2v.8h-1.2zM312.8 66.9h1.2v.8h-1.2zM313.5 62.0h0.7v.8h-0.7zM314.8 66.3h0.9v.8h-0.9zM314.8 65.1h1.2v.8h-1.2zM315.7 63.0h0.7v.8h-0.7zM316.9 65.8h1.2v.8h-1.2zM316.9 63.0h0.7v.8h-0.7zM317.7 66.5h0.7v.8h-0.7zM318.5 61.8h0.9v.8h-0.9zM319.1 62.0h0.9v.8h-0.9zM320.0 65.6h1.2v.8h-1.2zM320.8 63.9h1.2v.8h-1.2zM321.3 62.1h0.9v.8h-0.9zM321.9 64.3h0.9v.8h-0.9zM323.1 63.0h0.7v.8h-0.7zM323.8 64.5h0.7v.8h-0.7zM324.3 65.6h0.9v.8h-0.9zM324.7 66.3h0.9v.8h-0.9zM325.7 61.6h0.9v.8h-0.9zM326.4 64.7h0.9v.8h-0.9zM327.0 67.0h0.9v.8h-0.9zM328.0 64.0h0.9v.8h-0.9z" fill="#d98679" fill-opacity="0.85"/>
<circle cx="300.90" cy="64.64" r="2.35" fill="#BC3C29" stroke="#2a1a18" stroke-width="1.2"/>
<path d="M223.0,86.7 223.4,86.3 224.2,86.3 225.4,86.3 226.6,86.3 227.8,86.2 229.0,86.2 230.2,86.2 231.4,86.2 232.6,86.2 233.8,86.2 235.0,86.2 236.2,86.2 237.4,86.2 238.0,86.2 238.6,86.1 239.8,86.1 241.0,86.0 242.2,86.0 243.4,85.9 244.6,85.8 245.8,85.7 247.0,85.6 248.2,85.5 249.4,85.4 250.0,85.4 250.6,85.3 251.8,85.2 253.0,85.1 254.2,85.0 255.4,84.9 256.6,84.7 257.8,84.6 259.0,84.5 260.2,84.3 261.4,84.2 262.6,84.1 263.8,84.0 265.0,83.9 266.2,83.8 267.0,83.7 267.4,83.7 268.6,83.6 269.8,83.5 271.0,83.5 272.2,83.4 273.4,83.3 274.6,83.3 275.8,83.2 277.0,83.2 278.2,83.2 279.4,83.1 280.6,83.0 281.8,83.0 283.0,82.9 284.2,82.9 285.4,82.8 286.6,82.7 287.8,82.5 289.0,82.4 290.0,82.2 290.2,82.1 291.4,81.8 292.6,81.5 293.8,81.0 295.0,80.5 296.2,80.0 297.0,79.7 297.4,79.5 298.6,79.0 299.8,78.6 301.0,78.2 302.2,78.0 303.0,77.9 303.4,77.9 304.6,77.9 305.8,78.1 307.0,78.3 308.2,78.6 309.4,78.9 310.0,79.1 310.6,79.2 311.8,79.5 313.0,79.8 314.2,80.1 315.4,80.3 316.6,80.6 317.8,80.7 319.0,80.9 320.0,81.0 320.2,81.0 321.4,81.1 322.6,81.2 323.8,81.3 325.0,81.6 326.0,81.9 326.2,81.9 326.3,82.0 327.4,82.2 328.2,82.3 328.6,82.7 329.2,84.0 329.8,86.7 L329.8,86.7 329.2,89.4 328.6,90.7 328.2,91.0 327.4,91.2 326.3,91.4 326.2,91.4 326.0,91.5 325.0,91.8 323.8,92.1 322.6,92.2 321.4,92.3 320.2,92.4 320.0,92.4 319.0,92.5 317.8,92.6 316.6,92.8 315.4,93.0 314.2,93.3 313.0,93.6 311.8,93.9 310.6,94.2 310.0,94.3 309.4,94.5 308.2,94.8 307.0,95.0 305.8,95.3 304.6,95.4 303.4,95.5 303.0,95.5 302.2,95.4 301.0,95.1 299.8,94.8 298.6,94.3 297.4,93.8 297.0,93.7 296.2,93.3 295.0,92.8 293.8,92.3 292.6,91.9 291.4,91.5 290.2,91.2 290.0,91.2 289.0,91.0 287.8,90.8 286.6,90.7 285.4,90.6 284.2,90.5 283.0,90.4 281.8,90.4 280.6,90.3 279.4,90.3 278.2,90.2 277.0,90.2 275.8,90.1 274.6,90.1 273.4,90.0 272.2,90.0 271.0,89.9 269.8,89.8 268.6,89.8 267.4,89.7 267.0,89.7 266.2,89.6 265.0,89.5 263.8,89.4 262.6,89.3 261.4,89.2 260.2,89.0 259.0,88.9 257.8,88.8 256.6,88.6 255.4,88.5 254.2,88.4 253.0,88.3 251.8,88.1 250.6,88.0 250.0,88.0 249.4,87.9 248.2,87.8 247.0,87.7 245.8,87.6 244.6,87.5 243.4,87.5 242.2,87.4 241.0,87.3 239.8,87.3 238.6,87.2 238.0,87.2 237.4,87.2 236.2,87.2 235.0,87.2 233.8,87.2 232.6,87.1 231.4,87.1 230.2,87.1 229.0,87.1 227.8,87.1 226.6,87.1 225.4,87.1 224.2,87.1 223.4,87.1 223.0,86.7 Z" fill="#d98679" stroke="#BC3C29" stroke-width="1.4" stroke-linejoin="round"/>
<path d="M223.0,83.0 223.4,83.0 224.2,83.0 225.4,83.0 226.6,83.0 227.8,83.0 229.0,83.0 230.2,83.0 231.4,83.0 232.6,83.0 233.8,83.0 235.0,83.0 236.2,83.0 237.4,83.0 238.0,83.0 238.6,83.0 239.8,83.0 241.0,83.0 242.2,83.0 243.4,83.0 244.6,83.0 245.8,83.0 247.0,83.0 248.2,83.0 249.4,83.0 250.0,83.0 250.6,83.0 251.8,83.0 253.0,83.0 254.2,83.0 255.4,83.0 256.6,83.0 257.8,83.0 259.0,83.0 260.2,83.0 261.4,83.0 262.6,83.0 263.8,83.0 265.0,83.0 266.2,83.0 267.0,83.0 267.4,83.0 268.6,83.0 269.8,83.0 271.0,83.0 272.2,83.0 273.4,83.0 274.6,83.0 275.8,83.0 277.0,83.0 278.2,83.0 279.4,83.0 280.6,83.0 281.8,83.0 283.0,83.0 284.2,83.0 285.4,83.0 286.6,83.0 287.8,83.0 289.0,83.0 290.0,83.0 290.2,83.0 291.4,83.0 292.6,83.0 293.8,83.0 295.0,83.0 296.2,83.0 297.0,83.0 297.4,83.0 298.6,83.0 299.8,83.0 301.0,83.0 302.2,83.0 303.0,83.0 303.4,83.0 304.6,83.0 305.8,83.0 307.0,83.0 308.2,83.0 309.4,83.0 310.0,83.0 310.6,83.0 311.8,83.0 313.0,83.0 314.2,83.0 315.4,83.0 316.6,83.0 317.8,83.0 319.0,83.0 320.0,83.0 320.2,83.0 321.4,83.0 322.6,83.0 323.8,83.0 325.0,83.0 326.0,83.0 326.2,83.0 326.3,83.0 327.4,83.0 328.2,83.0 328.6,83.0 329.2,84.0 L329.2,89.4 328.6,90.4 328.2,90.4 327.4,90.4 326.3,90.4 326.2,90.4 326.0,90.4 325.0,90.4 323.8,90.4 322.6,90.4 321.4,90.4 320.2,90.4 320.0,90.4 319.0,90.4 317.8,90.4 316.6,90.4 315.4,90.4 314.2,90.4 313.0,90.4 311.8,90.4 310.6,90.4 310.0,90.4 309.4,90.4 308.2,90.4 307.0,90.4 305.8,90.4 304.6,90.4 303.4,90.4 303.0,90.4 302.2,90.4 301.0,90.4 299.8,90.4 298.6,90.4 297.4,90.4 297.0,90.4 296.2,90.4 295.0,90.4 293.8,90.4 292.6,90.4 291.4,90.4 290.2,90.4 290.0,90.4 289.0,90.4 287.8,90.4 286.6,90.4 285.4,90.4 284.2,90.4 283.0,90.4 281.8,90.4 280.6,90.4 279.4,90.4 278.2,90.4 277.0,90.4 275.8,90.4 274.6,90.4 273.4,90.4 272.2,90.4 271.0,90.4 269.8,90.4 268.6,90.4 267.4,90.4 267.0,90.4 266.2,90.4 265.0,90.4 263.8,90.4 262.6,90.4 261.4,90.4 260.2,90.4 259.0,90.4 257.8,90.4 256.6,90.4 255.4,90.4 254.2,90.4 253.0,90.4 251.8,90.4 250.6,90.4 250.0,90.4 249.4,90.4 248.2,90.4 247.0,90.4 245.8,90.4 244.6,90.4 243.4,90.4 242.2,90.4 241.0,90.4 239.8,90.4 238.6,90.4 238.0,90.4 237.4,90.4 236.2,90.4 235.0,90.4 233.8,90.4 232.6,90.4 231.4,90.4 230.2,90.4 229.0,90.4 227.8,90.4 226.6,90.4 225.4,90.4 224.2,90.4 223.4,90.4 223.0,90.4 Z" fill="url(#g4)"/>
<path d="M232.9 86.4h.9v1.2h-.9zM235.1 89.4h.9v0.9h-.9zM238.2 84.7h.9v1.6h-.9zM240.7 89.8h.9v0.9h-.9zM242.9 89.2h.9v1.2h-.9zM244.1 85.3h.9v1.2h-.9zM245.3 85.0h.9v1.6h-.9zM247.2 83.6h.9v1.6h-.9zM248.1 89.2h.9v0.9h-.9zM249.9 84.0h.9v1.6h-.9zM250.3 82.7h.9v1.6h-.9zM251.4 89.0h.9v0.9h-.9zM253.4 86.9h.9v0.9h-.9zM254.0 87.5h.9v1.2h-.9zM255.8 87.9h.9v1.2h-.9zM256.7 83.0h.9v0.9h-.9zM257.7 83.3h.9v1.6h-.9zM258.4 86.2h.9v1.2h-.9zM260.4 83.0h.9v0.9h-.9zM260.7 86.3h.9v1.6h-.9zM263.0 87.9h.9v0.9h-.9zM264.1 87.3h.9v1.6h-.9zM264.6 87.1h.9v1.6h-.9zM265.6 83.0h.9v0.9h-.9zM267.8 84.4h.9v1.6h-.9zM268.5 89.1h.9v0.9h-.9zM269.4 83.6h.9v1.2h-.9zM271.1 86.5h.9v0.9h-.9zM272.1 83.0h.9v0.9h-.9zM273.7 89.3h.9v0.9h-.9zM275.3 83.9h.9v1.2h-.9zM277.1 85.6h.9v1.2h-.9zM278.4 86.6h.9v0.9h-.9zM278.9 87.8h.9v0.9h-.9zM280.9 89.3h.9v1.2h-.9zM282.4 87.9h.9v1.6h-.9zM284.6 85.1h.9v1.2h-.9zM284.8 83.2h.9v0.9h-.9zM286.9 87.7h.9v1.2h-.9zM289.0 89.6h.9v0.9h-.9zM289.7 82.8h.9v1.2h-.9zM291.0 88.2h.9v1.2h-.9zM292.9 83.9h.9v0.9h-.9zM294.1 85.9h.9v1.6h-.9zM296.4 86.4h.9v1.6h-.9zM296.7 87.0h.9v0.9h-.9zM298.3 89.7h.9v1.2h-.9zM299.6 87.6h.9v0.9h-.9zM301.8 85.5h.9v1.6h-.9zM302.6 87.8h.9v1.2h-.9zM304.6 86.0h.9v1.2h-.9zM305.8 85.6h.9v0.9h-.9zM307.1 85.3h.9v0.9h-.9zM307.5 86.2h.9v0.9h-.9zM308.3 84.7h.9v1.2h-.9zM310.0 84.4h.9v1.6h-.9zM311.8 83.7h.9v1.2h-.9zM312.7 85.8h.9v0.9h-.9zM313.1 84.8h.9v1.6h-.9zM315.0 88.6h.9v1.2h-.9zM316.4 88.7h.9v1.6h-.9zM317.7 85.1h.9v0.9h-.9zM318.6 87.1h.9v0.9h-.9zM319.9 89.1h.9v0.9h-.9zM321.1 85.2h.9v1.6h-.9zM321.7 86.6h.9v1.2h-.9zM322.6 85.8h.9v0.9h-.9zM324.5 87.3h.9v1.2h-.9zM325.0 89.5h.9v1.6h-.9zM326.5 83.7h.9v1.2h-.9zM328.4 89.5h.9v1.2h-.9zM329.1 87.4h.9v1.2h-.9z" fill="#BC3C29" fill-opacity="0.9"/>
<path d="M238.4 84.6h.8v4.8h-.8zM248.4 83.7h.8v1.6h-.8zM259.5 85.6h.8v4.4h-.8zM268.6 83.5h.8v2.8h-.8zM278.6 84.3h.8v3.8h-.8zM285.3 85.7h.8v1.9h-.8zM297.7 83.2h.8v5.4h-.8zM304.1 83.2h.8v6.8h-.8zM316.2 84.0h.8v3.6h-.8zM324.4 86.7h.8v2.1h-.8z" fill="#BC3C29" fill-opacity="0.8"/>
<path d="M245.1 85.4h0.7v.8h-0.7zM246.9 85.7h0.9v.8h-0.9zM251.3 88.7h0.7v.8h-0.7zM252.2 86.4h0.9v.8h-0.9zM255.0 89.1h0.9v.8h-0.9zM256.4 87.5h0.9v.8h-0.9zM257.6 84.2h1.2v.8h-1.2zM259.6 86.5h0.9v.8h-0.9zM260.6 84.3h0.7v.8h-0.7zM261.0 83.6h0.7v.8h-0.7zM262.2 88.8h0.7v.8h-0.7zM263.7 85.3h0.9v.8h-0.9zM264.8 84.4h1.2v.8h-1.2zM265.4 83.9h0.7v.8h-0.7zM266.5 87.1h0.9v.8h-0.9zM267.5 86.0h0.9v.8h-0.9zM268.2 83.4h0.9v.8h-0.9zM268.9 87.5h1.2v.8h-1.2zM269.4 84.8h0.7v.8h-0.7zM270.3 87.9h0.9v.8h-0.9zM271.3 86.2h0.9v.8h-0.9zM272.4 86.4h1.2v.8h-1.2zM272.6 86.0h0.7v.8h-0.7zM273.5 87.3h1.2v.8h-1.2zM273.9 89.1h1.2v.8h-1.2zM275.2 88.0h0.9v.8h-0.9zM275.7 83.7h1.2v.8h-1.2zM276.6 86.2h0.9v.8h-0.9zM276.9 84.7h0.7v.8h-0.7zM277.9 83.9h1.2v.8h-1.2zM278.6 84.5h0.7v.8h-0.7zM279.1 84.8h0.7v.8h-0.7zM279.6 88.9h1.2v.8h-1.2zM280.4 87.7h1.2v.8h-1.2zM281.2 88.3h0.7v.8h-0.7zM281.5 87.4h1.2v.8h-1.2zM282.1 85.2h0.9v.8h-0.9zM283.0 85.6h0.7v.8h-0.7zM283.5 85.9h1.2v.8h-1.2zM284.5 85.0h1.2v.8h-1.2zM285.2 85.8h1.2v.8h-1.2zM285.9 87.8h0.9v.8h-0.9zM286.5 83.8h1.2v.8h-1.2zM287.0 84.9h1.2v.8h-1.2zM287.3 86.1h0.9v.8h-0.9zM288.4 87.3h1.2v.8h-1.2zM289.0 87.1h1.2v.8h-1.2zM289.7 87.5h0.7v.8h-0.7zM290.3 83.9h0.9v.8h-0.9zM291.0 84.4h1.2v.8h-1.2zM291.3 85.1h0.7v.8h-0.7zM292.2 85.0h0.9v.8h-0.9zM292.7 87.7h0.9v.8h-0.9zM293.3 89.1h0.9v.8h-0.9zM293.9 87.3h0.9v.8h-0.9zM294.4 83.5h0.9v.8h-0.9zM295.3 85.1h1.2v.8h-1.2zM295.9 88.0h1.2v.8h-1.2zM296.6 88.7h1.2v.8h-1.2zM297.5 86.8h0.7v.8h-0.7zM298.0 85.4h0.7v.8h-0.7zM298.7 85.4h0.9v.8h-0.9zM299.6 87.0h0.7v.8h-0.7zM299.7 88.3h0.9v.8h-0.9zM300.7 85.3h0.9v.8h-0.9zM301.1 84.4h1.2v.8h-1.2zM302.1 83.3h0.9v.8h-0.9zM303.4 84.1h0.9v.8h-0.9zM303.5 88.3h1.2v.8h-1.2zM305.0 87.0h0.9v.8h-0.9zM306.0 89.1h1.2v.8h-1.2zM306.6 83.7h0.7v.8h-0.7zM308.0 85.5h1.2v.8h-1.2zM308.7 87.9h0.7v.8h-0.7zM309.7 87.2h1.2v.8h-1.2zM311.1 83.7h0.7v.8h-0.7zM311.9 85.7h1.2v.8h-1.2zM313.2 87.0h1.2v.8h-1.2zM314.3 87.3h0.7v.8h-0.7zM316.3 85.9h0.7v.8h-0.7zM316.7 84.4h0.9v.8h-0.9zM317.7 88.9h0.7v.8h-0.7zM319.6 86.0h0.7v.8h-0.7zM319.8 87.5h0.9v.8h-0.9zM321.8 86.4h1.2v.8h-1.2zM322.7 83.8h0.9v.8h-0.9zM323.6 84.7h0.7v.8h-0.7zM324.4 83.7h0.7v.8h-0.7zM325.2 84.4h0.7v.8h-0.7zM326.1 84.5h0.9v.8h-0.9zM327.2 85.7h0.7v.8h-0.7z" fill="#d98679" fill-opacity="0.85"/>
<circle cx="301.20" cy="86.68" r="2.35" fill="#BC3C29" stroke="#2a1a18" stroke-width="1.2"/>
<path d="M231.0,108.7 231.4,108.3 232.1,108.3 233.2,108.3 234.3,108.3 235.4,108.3 236.6,108.3 237.7,108.3 238.8,108.3 239.9,108.3 241.0,108.3 242.1,108.3 243.2,108.2 244.3,108.2 245.4,108.2 246.5,108.2 247.7,108.2 248.8,108.2 249.9,108.2 250.0,108.2 251.0,108.2 252.1,108.2 253.2,108.2 254.3,108.2 255.4,108.1 256.5,108.1 257.6,108.1 258.8,108.1 259.9,108.0 261.0,108.0 262.1,107.9 263.0,107.8 263.2,107.8 264.3,107.6 265.4,107.5 266.5,107.3 267.6,107.0 268.7,106.7 269.9,106.5 271.0,106.2 272.1,106.0 273.0,105.8 273.2,105.8 274.3,105.6 275.4,105.4 276.5,105.3 277.6,105.2 278.7,105.1 279.8,105.0 281.0,104.9 282.1,104.8 283.2,104.7 284.3,104.5 285.4,104.4 286.5,104.2 287.6,104.1 288.7,103.8 289.8,103.5 290.0,103.5 290.9,103.2 292.1,102.8 293.2,102.3 294.3,101.8 295.4,101.2 296.0,100.9 296.5,100.6 297.6,100.1 298.7,99.6 299.8,99.3 300.9,99.1 301.0,99.1 302.0,99.0 303.2,99.1 304.3,99.2 305.4,99.5 306.5,99.8 307.6,100.1 308.7,100.5 309.8,100.9 310.0,100.9 310.9,101.2 312.0,101.6 313.1,102.0 314.3,102.4 315.4,102.7 316.5,103.0 317.6,103.3 318.7,103.6 319.8,103.7 320.0,103.8 320.9,103.9 322.0,104.0 323.1,104.1 324.2,104.3 325.4,104.6 326.0,104.8 326.3,104.8 326.5,104.9 327.6,105.1 328.2,105.2 328.7,105.6 329.2,106.5 329.8,108.7 L329.8,108.7 329.2,110.9 328.7,111.9 328.2,112.3 327.6,112.4 326.5,112.6 326.3,112.6 326.0,112.7 325.4,112.9 324.2,113.1 323.1,113.3 322.0,113.4 320.9,113.6 320.0,113.7 319.8,113.7 318.7,113.9 317.6,114.1 316.5,114.4 315.4,114.7 314.3,115.1 313.1,115.4 312.0,115.8 310.9,116.2 310.0,116.5 309.8,116.6 308.7,116.9 307.6,117.3 306.5,117.6 305.4,118.0 304.3,118.2 303.2,118.4 302.0,118.4 301.0,118.4 300.9,118.4 299.8,118.2 298.7,117.8 297.6,117.3 296.5,116.8 296.0,116.5 295.4,116.2 294.3,115.7 293.2,115.1 292.1,114.7 290.9,114.3 290.0,113.9 289.8,113.9 288.7,113.6 287.6,113.4 286.5,113.2 285.4,113.0 284.3,112.9 283.2,112.8 282.1,112.7 281.0,112.6 279.8,112.5 278.7,112.4 277.6,112.3 276.5,112.1 275.4,112.0 274.3,111.8 273.2,111.7 273.0,111.6 272.1,111.4 271.0,111.2 269.9,111.0 268.7,110.7 267.6,110.4 266.5,110.2 265.4,110.0 264.3,109.8 263.2,109.7 263.0,109.6 262.1,109.6 261.0,109.5 259.9,109.4 258.8,109.4 257.6,109.4 256.5,109.3 255.4,109.3 254.3,109.3 253.2,109.3 252.1,109.2 251.0,109.2 250.0,109.2 249.9,109.2 248.8,109.2 247.7,109.2 246.5,109.2 245.4,109.2 244.3,109.2 243.2,109.2 242.1,109.2 241.0,109.2 239.9,109.2 238.8,109.2 237.7,109.2 236.6,109.2 235.4,109.1 234.3,109.1 233.2,109.1 232.1,109.1 231.4,109.1 231.0,108.7 Z" fill="#d98679" stroke="#BC3C29" stroke-width="1.4" stroke-linejoin="round"/>
<path d="M231.0,105.0 231.4,105.0 232.1,105.0 233.2,105.0 234.3,105.0 235.4,105.0 236.6,105.0 237.7,105.0 238.8,105.0 239.9,105.0 241.0,105.0 242.1,105.0 243.2,105.0 244.3,105.0 245.4,105.0 246.5,105.0 247.7,105.0 248.8,105.0 249.9,105.0 250.0,105.0 251.0,105.0 252.1,105.0 253.2,105.0 254.3,105.0 255.4,105.0 256.5,105.0 257.6,105.0 258.8,105.0 259.9,105.0 261.0,105.0 262.1,105.0 263.0,105.0 263.2,105.0 264.3,105.0 265.4,105.0 266.5,105.0 267.6,105.0 268.7,105.0 269.9,105.0 271.0,105.0 272.1,105.0 273.0,105.0 273.2,105.0 274.3,105.0 275.4,105.0 276.5,105.0 277.6,105.0 278.7,105.0 279.8,105.0 281.0,105.0 282.1,105.0 283.2,105.0 284.3,105.0 285.4,105.0 286.5,105.0 287.6,105.0 288.7,105.0 289.8,105.0 290.0,105.0 290.9,105.0 292.1,105.0 293.2,105.0 294.3,105.0 295.4,105.0 296.0,105.0 296.5,105.0 297.6,105.0 298.7,105.0 299.8,105.0 300.9,105.0 301.0,105.0 302.0,105.0 303.2,105.0 304.3,105.0 305.4,105.0 306.5,105.0 307.6,105.0 308.7,105.0 309.8,105.0 310.0,105.0 310.9,105.0 312.0,105.0 313.1,105.0 314.3,105.0 315.4,105.0 316.5,105.0 317.6,105.0 318.7,105.0 319.8,105.0 320.0,105.0 320.9,105.0 322.0,105.0 323.1,105.0 324.2,105.0 325.4,105.0 326.0,105.0 326.3,105.0 326.5,105.0 327.6,105.0 328.2,105.0 328.7,105.6 329.2,106.5 L329.2,110.9 328.7,111.9 328.2,112.4 327.6,112.4 326.5,112.4 326.3,112.4 326.0,112.4 325.4,112.4 324.2,112.4 323.1,112.4 322.0,112.4 320.9,112.4 320.0,112.4 319.8,112.4 318.7,112.4 317.6,112.4 316.5,112.4 315.4,112.4 314.3,112.4 313.1,112.4 312.0,112.4 310.9,112.4 310.0,112.4 309.8,112.4 308.7,112.4 307.6,112.4 306.5,112.4 305.4,112.4 304.3,112.4 303.2,112.4 302.0,112.4 301.0,112.4 300.9,112.4 299.8,112.4 298.7,112.4 297.6,112.4 296.5,112.4 296.0,112.4 295.4,112.4 294.3,112.4 293.2,112.4 292.1,112.4 290.9,112.4 290.0,112.4 289.8,112.4 288.7,112.4 287.6,112.4 286.5,112.4 285.4,112.4 284.3,112.4 283.2,112.4 282.1,112.4 281.0,112.4 279.8,112.4 278.7,112.4 277.6,112.4 276.5,112.4 275.4,112.4 274.3,112.4 273.2,112.4 273.0,112.4 272.1,112.4 271.0,112.4 269.9,112.4 268.7,112.4 267.6,112.4 266.5,112.4 265.4,112.4 264.3,112.4 263.2,112.4 263.0,112.4 262.1,112.4 261.0,112.4 259.9,112.4 258.8,112.4 257.6,112.4 256.5,112.4 255.4,112.4 254.3,112.4 253.2,112.4 252.1,112.4 251.0,112.4 250.0,112.4 249.9,112.4 248.8,112.4 247.7,112.4 246.5,112.4 245.4,112.4 244.3,112.4 243.2,112.4 242.1,112.4 241.0,112.4 239.9,112.4 238.8,112.4 237.7,112.4 236.6,112.4 235.4,112.4 234.3,112.4 233.2,112.4 232.1,112.4 231.4,112.4 231.0,112.4 Z" fill="url(#g5)"/>
<path d="M233.5 110.3h.9v1.6h-.9zM245.5 107.8h.9v1.2h-.9zM246.9 105.0h.9v1.2h-.9zM251.0 107.9h.9v1.2h-.9zM255.3 106.1h.9v1.2h-.9zM257.4 104.8h.9v0.9h-.9zM259.0 111.7h.9v1.2h-.9zM260.8 106.8h.9v1.6h-.9zM262.1 108.5h.9v1.2h-.9zM265.0 107.3h.9v0.9h-.9zM266.4 105.1h.9v1.6h-.9zM267.6 111.1h.9v0.9h-.9zM268.5 111.4h.9v1.6h-.9zM270.0 106.0h.9v1.2h-.9zM271.6 107.7h.9v1.6h-.9zM272.8 107.4h.9v1.2h-.9zM273.8 105.9h.9v0.9h-.9zM275.4 109.4h.9v0.9h-.9zM276.6 110.3h.9v0.9h-.9zM277.6 110.1h.9v1.6h-.9zM278.9 109.5h.9v1.6h-.9zM279.9 104.8h.9v1.2h-.9zM281.1 106.4h.9v1.6h-.9zM282.4 108.4h.9v1.2h-.9zM283.3 109.7h.9v0.9h-.9zM284.1 107.5h.9v0.9h-.9zM285.8 107.9h.9v1.6h-.9zM286.5 110.7h.9v1.6h-.9zM287.5 104.9h.9v1.6h-.9zM288.8 106.6h.9v0.9h-.9zM289.8 106.8h.9v1.2h-.9zM290.9 111.8h.9v1.2h-.9zM291.9 106.3h.9v1.6h-.9zM292.7 105.1h.9v1.6h-.9zM293.8 107.7h.9v1.2h-.9zM294.2 109.3h.9v1.6h-.9zM295.7 105.8h.9v0.9h-.9zM296.3 110.7h.9v1.6h-.9zM297.3 106.1h.9v1.6h-.9zM298.1 109.7h.9v1.6h-.9zM299.3 105.9h.9v1.6h-.9zM299.9 111.0h.9v0.9h-.9zM301.5 106.1h.9v0.9h-.9zM302.6 109.9h.9v0.9h-.9zM303.6 110.7h.9v1.6h-.9zM303.9 106.5h.9v1.2h-.9zM305.4 105.4h.9v0.9h-.9zM306.5 108.9h.9v0.9h-.9zM306.7 108.3h.9v0.9h-.9zM307.8 108.1h.9v1.6h-.9zM308.8 110.3h.9v0.9h-.9zM310.0 108.0h.9v0.9h-.9zM310.7 108.2h.9v0.9h-.9zM312.0 108.2h.9v0.9h-.9zM312.7 107.9h.9v0.9h-.9zM314.0 107.6h.9v0.9h-.9zM314.8 105.9h.9v1.2h-.9zM315.9 106.8h.9v0.9h-.9zM316.5 106.6h.9v1.6h-.9zM317.9 106.5h.9v1.2h-.9zM318.8 110.3h.9v1.2h-.9zM319.8 105.5h.9v0.9h-.9zM320.1 106.2h.9v0.9h-.9zM321.9 108.5h.9v1.6h-.9zM322.5 106.9h.9v1.2h-.9zM323.2 106.4h.9v1.6h-.9zM324.3 107.4h.9v0.9h-.9zM325.3 108.3h.9v1.2h-.9zM326.3 109.5h.9v0.9h-.9zM327.0 111.6h.9v1.6h-.9zM327.9 110.8h.9v1.2h-.9zM329.0 107.8h.9v1.6h-.9z" fill="#BC3C29" fill-opacity="0.9"/>
<path d="M245.3 108.1h0.9v.8h-0.9zM262.7 110.6h0.7v.8h-0.7zM267.6 107.6h0.7v.8h-0.7zM269.8 109.7h0.9v.8h-0.9zM271.7 109.1h1.2v.8h-1.2zM275.0 107.3h1.2v.8h-1.2zM276.8 108.5h1.2v.8h-1.2zM277.4 108.9h0.7v.8h-0.7zM278.5 108.5h1.2v.8h-1.2zM280.9 106.0h1.2v.8h-1.2zM281.9 111.1h0.7v.8h-0.7zM282.5 111.0h0.7v.8h-0.7zM284.0 105.6h0.7v.8h-0.7zM284.9 110.8h0.7v.8h-0.7zM286.5 108.5h1.2v.8h-1.2zM286.9 106.1h0.9v.8h-0.9zM287.8 110.1h0.7v.8h-0.7zM288.6 107.9h0.9v.8h-0.9zM289.7 109.5h0.9v.8h-0.9zM291.2 110.2h1.2v.8h-1.2zM291.4 108.5h0.7v.8h-0.7zM292.4 105.7h1.2v.8h-1.2zM293.6 110.1h0.9v.8h-0.9zM293.6 109.4h0.7v.8h-0.7zM294.6 110.6h0.7v.8h-0.7zM295.7 106.9h1.2v.8h-1.2zM296.0 109.9h1.2v.8h-1.2zM297.3 110.4h0.9v.8h-0.9zM297.9 107.4h0.9v.8h-0.9zM298.1 107.7h0.9v.8h-0.9zM299.2 107.3h0.9v.8h-0.9zM299.8 105.4h1.2v.8h-1.2zM300.6 106.7h0.7v.8h-0.7zM301.0 107.3h1.2v.8h-1.2zM301.8 106.0h0.7v.8h-0.7zM302.3 109.8h0.9v.8h-0.9zM303.0 107.8h0.7v.8h-0.7zM303.6 108.7h1.2v.8h-1.2zM304.7 107.0h0.7v.8h-0.7zM305.3 107.5h0.7v.8h-0.7zM305.6 109.7h1.2v.8h-1.2zM306.5 108.1h0.7v.8h-0.7zM307.0 108.8h1.2v.8h-1.2zM307.5 107.8h1.2v.8h-1.2zM308.1 108.6h1.2v.8h-1.2zM309.1 110.6h0.7v.8h-0.7zM309.3 106.9h1.2v.8h-1.2zM310.1 108.4h0.9v.8h-0.9zM310.9 109.4h0.9v.8h-0.9zM311.1 105.9h0.9v.8h-0.9zM312.0 110.9h0.7v.8h-0.7zM312.2 108.3h0.7v.8h-0.7zM313.1 106.8h0.7v.8h-0.7zM313.7 109.8h1.2v.8h-1.2zM314.4 110.1h0.7v.8h-0.7zM315.0 109.0h1.2v.8h-1.2zM315.5 110.7h1.2v.8h-1.2zM316.2 105.9h0.7v.8h-0.7zM316.4 108.4h0.7v.8h-0.7zM317.1 109.7h0.7v.8h-0.7zM317.5 110.7h0.7v.8h-0.7zM318.1 109.1h1.2v.8h-1.2zM318.9 108.9h0.9v.8h-0.9zM319.6 107.6h1.2v.8h-1.2zM320.3 108.7h1.2v.8h-1.2zM320.4 108.6h1.2v.8h-1.2zM321.5 110.6h1.2v.8h-1.2zM321.7 110.2h0.9v.8h-0.9zM322.3 109.6h0.9v.8h-0.9zM323.3 110.7h0.9v.8h-0.9zM323.9 105.8h0.9v.8h-0.9zM324.4 109.8h0.9v.8h-0.9zM324.7 108.1h1.2v.8h-1.2zM325.4 109.7h0.7v.8h-0.7zM326.2 107.1h0.9v.8h-0.9zM326.5 108.1h0.9v.8h-0.9zM327.4 110.2h0.7v.8h-0.7zM328.0 105.6h0.7v.8h-0.7z" fill="#d98679" fill-opacity="0.85"/>
<circle cx="300.00" cy="108.72" r="2.35" fill="#BC3C29" stroke="#2a1a18" stroke-width="1.2"/>
<path d="M231.0,130.8 231.4,130.4 232.1,130.3 233.2,130.3 234.3,130.3 235.4,130.3 236.6,130.3 237.7,130.2 238.8,130.2 239.9,130.2 241.0,130.2 242.1,130.2 243.2,130.2 244.3,130.1 245.0,130.1 245.4,130.1 246.5,130.0 247.7,129.9 248.8,129.8 249.9,129.7 251.0,129.6 252.1,129.4 253.2,129.3 254.3,129.1 255.4,128.9 256.5,128.8 257.6,128.7 258.8,128.5 259.9,128.4 260.0,128.4 261.0,128.3 262.1,128.2 263.2,128.1 264.3,128.1 265.4,128.0 266.5,127.9 267.6,127.9 268.7,127.8 269.9,127.8 271.0,127.7 272.1,127.7 273.2,127.6 274.3,127.5 275.4,127.5 276.5,127.4 277.6,127.3 278.7,127.3 279.8,127.2 281.0,127.1 282.1,127.0 283.2,126.9 284.3,126.8 285.0,126.7 285.4,126.6 286.5,126.5 287.6,126.3 288.7,126.0 289.8,125.8 290.9,125.5 292.1,125.2 293.2,124.9 294.0,124.7 294.3,124.6 295.4,124.3 296.5,124.0 297.6,123.6 298.7,123.3 299.8,123.0 300.9,122.8 302.0,122.6 303.2,122.4 304.0,122.4 304.3,122.4 305.4,122.4 306.5,122.5 307.6,122.6 308.7,122.8 309.8,123.0 310.9,123.1 312.0,123.3 312.0,123.3 313.1,123.5 314.3,123.6 315.4,123.8 316.5,123.9 317.6,124.0 318.7,124.1 319.8,124.2 320.0,124.2 320.9,124.3 322.0,124.4 323.1,124.6 324.2,124.8 325.4,125.2 326.0,125.5 326.3,125.6 326.5,125.7 327.6,125.9 328.2,126.1 328.7,126.6 329.2,127.9 329.8,130.8 L329.8,130.8 329.2,133.7 328.7,134.9 328.2,135.4 327.6,135.6 326.5,135.9 326.3,135.9 326.0,136.0 325.4,136.3 324.2,136.7 323.1,136.9 322.0,137.1 320.9,137.2 320.0,137.3 319.8,137.3 318.7,137.4 317.6,137.5 316.5,137.6 315.4,137.8 314.3,137.9 313.1,138.0 312.0,138.2 312.0,138.2 310.9,138.4 309.8,138.5 308.7,138.7 307.6,138.9 306.5,139.0 305.4,139.1 304.3,139.1 304.0,139.1 303.2,139.1 302.0,138.9 300.9,138.8 299.8,138.5 298.7,138.2 297.6,137.9 296.5,137.5 295.4,137.2 294.3,136.9 294.0,136.8 293.2,136.6 292.1,136.3 290.9,136.0 289.8,135.7 288.7,135.5 287.6,135.3 286.5,135.1 285.4,134.9 285.0,134.8 284.3,134.7 283.2,134.6 282.1,134.5 281.0,134.4 279.8,134.3 278.7,134.2 277.6,134.2 276.5,134.1 275.4,134.0 274.3,134.0 273.2,133.9 272.1,133.9 271.0,133.8 269.9,133.8 268.7,133.7 267.6,133.6 266.5,133.6 265.4,133.5 264.3,133.5 263.2,133.4 262.1,133.3 261.0,133.2 260.0,133.1 259.9,133.1 258.8,133.0 257.6,132.9 256.5,132.7 255.4,132.6 254.3,132.4 253.2,132.3 252.1,132.1 251.0,132.0 249.9,131.8 248.8,131.7 247.7,131.6 246.5,131.5 245.4,131.4 245.0,131.4 244.3,131.4 243.2,131.3 242.1,131.3 241.0,131.3 239.9,131.3 238.8,131.3 237.7,131.3 236.6,131.3 235.4,131.2 234.3,131.2 233.2,131.2 232.1,131.2 231.4,131.2 231.0,130.8 Z" fill="#d98679" stroke="#BC3C29" stroke-width="1.4" stroke-linejoin="round"/>
<path d="M231.0,127.1 231.4,127.1 232.1,127.1 233.2,127.1 234.3,127.1 235.4,127.1 236.6,127.1 237.7,127.1 238.8,127.1 239.9,127.1 241.0,127.1 242.1,127.1 243.2,127.1 244.3,127.1 245.0,127.1 245.4,127.1 246.5,127.1 247.7,127.1 248.8,127.1 249.9,127.1 251.0,127.1 252.1,127.1 253.2,127.1 254.3,127.1 255.4,127.1 256.5,127.1 257.6,127.1 258.8,127.1 259.9,127.1 260.0,127.1 261.0,127.1 262.1,127.1 263.2,127.1 264.3,127.1 265.4,127.1 266.5,127.1 267.6,127.1 268.7,127.1 269.9,127.1 271.0,127.1 272.1,127.1 273.2,127.1 274.3,127.1 275.4,127.1 276.5,127.1 277.6,127.1 278.7,127.1 279.8,127.1 281.0,127.1 282.1,127.1 283.2,127.1 284.3,127.1 285.0,127.1 285.4,127.1 286.5,127.1 287.6,127.1 288.7,127.1 289.8,127.1 290.9,127.1 292.1,127.1 293.2,127.1 294.0,127.1 294.3,127.1 295.4,127.1 296.5,127.1 297.6,127.1 298.7,127.1 299.8,127.1 300.9,127.1 302.0,127.1 303.2,127.1 304.0,127.1 304.3,127.1 305.4,127.1 306.5,127.1 307.6,127.1 308.7,127.1 309.8,127.1 310.9,127.1 312.0,127.1 312.0,127.1 313.1,127.1 314.3,127.1 315.4,127.1 316.5,127.1 317.6,127.1 318.7,127.1 319.8,127.1 320.0,127.1 320.9,127.1 322.0,127.1 323.1,127.1 324.2,127.1 325.4,127.1 326.0,127.1 326.3,127.1 326.5,127.1 327.6,127.1 328.2,127.1 328.7,127.1 329.2,127.9 L329.2,133.7 328.7,134.5 328.2,134.5 327.6,134.5 326.5,134.5 326.3,134.5 326.0,134.5 325.4,134.5 324.2,134.5 323.1,134.5 322.0,134.5 320.9,134.5 320.0,134.5 319.8,134.5 318.7,134.5 317.6,134.5 316.5,134.5 315.4,134.5 314.3,134.5 313.1,134.5 312.0,134.5 312.0,134.5 310.9,134.5 309.8,134.5 308.7,134.5 307.6,134.5 306.5,134.5 305.4,134.5 304.3,134.5 304.0,134.5 303.2,134.5 302.0,134.5 300.9,134.5 299.8,134.5 298.7,134.5 297.6,134.5 296.5,134.5 295.4,134.5 294.3,134.5 294.0,134.5 293.2,134.5 292.1,134.5 290.9,134.5 289.8,134.5 288.7,134.5 287.6,134.5 286.5,134.5 285.4,134.5 285.0,134.5 284.3,134.5 283.2,134.5 282.1,134.5 281.0,134.5 279.8,134.5 278.7,134.5 277.6,134.5 276.5,134.5 275.4,134.5 274.3,134.5 273.2,134.5 272.1,134.5 271.0,134.5 269.9,134.5 268.7,134.5 267.6,134.5 266.5,134.5 265.4,134.5 264.3,134.5 263.2,134.5 262.1,134.5 261.0,134.5 260.0,134.5 259.9,134.5 258.8,134.5 257.6,134.5 256.5,134.5 255.4,134.5 254.3,134.5 253.2,134.5 252.1,134.5 251.0,134.5 249.9,134.5 248.8,134.5 247.7,134.5 246.5,134.5 245.4,134.5 245.0,134.5 244.3,134.5 243.2,134.5 242.1,134.5 241.0,134.5 239.9,134.5 238.8,134.5 237.7,134.5 236.6,134.5 235.4,134.5 234.3,134.5 233.2,134.5 232.1,134.5 231.4,134.5 231.0,134.5 Z" fill="url(#g6)"/>
<path d="M232.3 128.2h.9v0.9h-.9zM243.5 129.6h.9v1.2h-.9zM245.5 132.4h.9v1.6h-.9zM248.3 127.0h.9v0.9h-.9zM250.3 132.7h.9v1.2h-.9zM251.6 133.8h.9v0.9h-.9zM253.4 130.7h.9v1.2h-.9zM254.5 129.3h.9v1.6h-.9zM255.4 128.4h.9v1.2h-.9zM256.9 128.1h.9v1.6h-.9zM257.5 129.1h.9v0.9h-.9zM259.1 132.8h.9v1.6h-.9zM259.6 126.8h.9v0.9h-.9zM261.0 132.3h.9v1.2h-.9zM262.7 131.5h.9v1.2h-.9zM263.4 126.9h.9v1.2h-.9zM264.4 127.3h.9v0.9h-.9zM265.8 132.0h.9v1.2h-.9zM266.4 131.5h.9v0.9h-.9zM268.0 129.0h.9v1.6h-.9zM268.2 132.9h.9v0.9h-.9zM269.6 128.3h.9v0.9h-.9zM270.6 129.8h.9v0.9h-.9zM271.8 127.6h.9v1.2h-.9zM273.7 131.3h.9v0.9h-.9zM273.8 127.4h.9v1.2h-.9zM275.2 128.0h.9v1.6h-.9zM276.6 132.2h.9v1.2h-.9zM277.9 130.3h.9v1.2h-.9zM279.1 131.5h.9v0.9h-.9zM279.7 132.0h.9v1.6h-.9zM280.7 131.1h.9v0.9h-.9zM282.5 128.2h.9v0.9h-.9zM282.8 131.7h.9v0.9h-.9zM283.9 127.6h.9v1.2h-.9zM285.2 128.7h.9v0.9h-.9zM286.7 129.9h.9v0.9h-.9zM288.3 127.6h.9v1.6h-.9zM289.2 127.5h.9v1.2h-.9zM290.2 131.4h.9v1.6h-.9zM291.3 132.0h.9v1.2h-.9zM292.7 129.4h.9v1.6h-.9zM293.8 129.5h.9v1.6h-.9zM294.6 128.2h.9v1.2h-.9zM295.5 130.5h.9v1.6h-.9zM296.8 130.9h.9v0.9h-.9zM298.6 133.4h.9v1.6h-.9zM299.6 127.0h.9v1.2h-.9zM301.0 133.2h.9v0.9h-.9zM301.3 133.8h.9v1.6h-.9zM303.5 129.2h.9v1.6h-.9zM304.1 131.9h.9v1.2h-.9zM305.9 132.6h.9v0.9h-.9zM306.7 131.4h.9v1.2h-.9zM307.9 128.8h.9v1.6h-.9zM309.4 131.2h.9v1.2h-.9zM310.4 133.0h.9v0.9h-.9zM311.7 127.5h.9v0.9h-.9zM312.3 130.2h.9v1.6h-.9zM314.0 126.9h.9v1.2h-.9zM315.0 132.8h.9v0.9h-.9zM315.9 132.3h.9v1.2h-.9zM317.2 127.1h.9v0.9h-.9zM318.8 132.1h.9v1.2h-.9zM319.8 131.7h.9v1.6h-.9zM321.7 127.7h.9v0.9h-.9zM322.1 130.5h.9v1.6h-.9zM323.3 131.7h.9v1.6h-.9zM325.8 129.1h.9v0.9h-.9zM326.2 130.3h.9v0.9h-.9zM327.7 133.7h.9v0.9h-.9zM328.6 131.3h.9v1.2h-.9z" fill="#BC3C29" fill-opacity="0.9"/>
<path d="M247.2 132.6h0.7v.8h-0.7zM254.7 133.1h0.7v.8h-0.7zM256.3 130.4h1.2v.8h-1.2zM258.8 128.7h1.2v.8h-1.2zM261.7 130.6h0.9v.8h-0.9zM263.1 131.4h0.7v.8h-0.7zM264.8 130.2h0.7v.8h-0.7zM265.7 129.5h0.9v.8h-0.9zM267.8 128.8h0.9v.8h-0.9zM268.6 129.1h0.9v.8h-0.9zM270.7 127.7h0.9v.8h-0.9zM271.8 128.9h0.7v.8h-0.7zM272.7 132.9h0.7v.8h-0.7zM274.1 127.5h0.7v.8h-0.7zM275.0 131.6h1.2v.8h-1.2zM276.3 132.0h0.7v.8h-0.7zM276.7 129.8h1.2v.8h-1.2zM278.8 130.9h1.2v.8h-1.2zM279.6 128.7h0.9v.8h-0.9zM280.0 131.3h0.7v.8h-0.7zM281.1 131.5h0.7v.8h-0.7zM282.5 131.7h0.9v.8h-0.9zM283.6 130.3h1.2v.8h-1.2zM284.0 133.0h0.7v.8h-0.7zM285.7 132.4h1.2v.8h-1.2zM286.1 130.7h0.7v.8h-0.7zM287.6 131.4h0.7v.8h-0.7zM288.3 129.0h1.2v.8h-1.2zM289.0 132.9h0.9v.8h-0.9zM289.8 131.2h0.9v.8h-0.9zM290.4 132.6h0.9v.8h-0.9zM291.3 129.1h0.9v.8h-0.9zM292.7 133.1h0.9v.8h-0.9zM293.7 128.0h1.2v.8h-1.2zM294.7 130.5h0.7v.8h-0.7zM295.1 128.1h1.2v.8h-1.2zM296.5 128.5h0.7v.8h-0.7zM296.8 131.8h0.7v.8h-0.7zM298.2 127.8h0.7v.8h-0.7zM299.0 129.6h0.7v.8h-0.7zM299.2 128.5h1.2v.8h-1.2zM300.6 132.3h0.9v.8h-0.9zM301.3 127.9h1.2v.8h-1.2zM302.1 129.4h0.7v.8h-0.7zM303.1 132.4h1.2v.8h-1.2zM303.6 131.4h0.7v.8h-0.7zM304.4 131.5h0.9v.8h-0.9zM305.1 133.2h1.2v.8h-1.2zM306.3 127.5h1.2v.8h-1.2zM307.1 131.3h0.9v.8h-0.9zM307.4 131.7h1.2v.8h-1.2zM308.6 131.7h0.9v.8h-0.9zM309.0 131.6h0.9v.8h-0.9zM309.7 127.8h0.7v.8h-0.7zM310.5 127.9h1.2v.8h-1.2zM311.6 131.9h1.2v.8h-1.2zM312.1 131.0h0.7v.8h-0.7zM312.9 128.9h0.9v.8h-0.9zM313.5 127.5h0.9v.8h-0.9zM314.5 130.5h0.7v.8h-0.7zM315.6 127.9h0.9v.8h-0.9zM315.8 131.8h1.2v.8h-1.2zM316.8 129.4h1.2v.8h-1.2zM317.7 132.1h1.2v.8h-1.2zM318.0 128.0h0.9v.8h-0.9zM318.9 130.3h1.2v.8h-1.2zM320.1 128.0h1.2v.8h-1.2zM320.9 131.9h1.2v.8h-1.2zM321.6 130.7h0.9v.8h-0.9zM321.8 128.8h0.9v.8h-0.9zM322.9 133.0h0.9v.8h-0.9zM323.4 131.4h0.7v.8h-0.7zM324.0 129.4h0.9v.8h-0.9zM324.9 132.4h0.9v.8h-0.9zM325.9 129.6h1.2v.8h-1.2zM326.6 132.9h0.7v.8h-0.7zM327.0 129.1h0.9v.8h-0.9zM327.4 133.1h0.9v.8h-0.9z" fill="#d98679" fill-opacity="0.85"/>
<circle cx="301.50" cy="130.76" r="2.35" fill="#BC3C29" stroke="#2a1a18" stroke-width="1.2"/>
<path d="M223.3,152.8 223.7,152.4 224.5,152.4 225.7,152.4 226.9,152.4 228.1,152.4 229.3,152.3 230.5,152.3 231.7,152.3 232.9,152.3 234.1,152.3 235.0,152.3 235.3,152.3 236.5,152.2 237.7,152.2 238.9,152.1 240.1,152.1 241.2,152.0 242.4,151.9 243.6,151.8 244.8,151.8 246.0,151.7 247.2,151.5 248.4,151.4 249.6,151.3 250.8,151.2 252.0,151.1 253.2,151.0 254.4,150.9 255.6,150.8 256.8,150.7 258.0,150.6 259.2,150.5 260.0,150.4 260.4,150.4 261.6,150.3 262.8,150.2 264.0,150.2 265.2,150.1 266.4,150.0 267.6,150.0 268.8,149.9 270.0,149.8 271.2,149.8 272.4,149.7 273.6,149.7 274.8,149.6 276.0,149.5 277.1,149.5 278.3,149.4 279.5,149.3 280.7,149.2 281.9,149.1 283.1,149.0 284.3,148.9 285.5,148.8 286.7,148.7 287.9,148.5 289.1,148.3 290.0,148.1 290.3,148.1 291.5,147.8 292.7,147.4 293.9,147.0 295.1,146.5 296.3,146.1 297.0,145.8 297.5,145.6 298.7,145.2 299.9,144.8 301.1,144.4 302.3,144.2 303.0,144.1 303.5,144.1 304.7,144.1 305.9,144.2 307.1,144.3 308.3,144.5 309.5,144.7 310.7,144.9 311.9,145.1 312.0,145.2 313.0,145.3 314.2,145.5 315.4,145.7 316.6,145.8 317.8,146.0 319.0,146.1 320.0,146.1 320.2,146.1 321.4,146.2 322.6,146.3 323.8,146.5 325.0,146.8 326.0,147.2 326.2,147.2 326.3,147.3 327.4,147.5 328.2,147.7 328.6,148.1 329.2,149.7 329.8,152.8 L329.8,152.8 329.2,155.9 328.6,157.5 328.2,157.9 327.4,158.1 326.3,158.3 326.2,158.4 326.0,158.4 325.0,158.8 323.8,159.1 322.6,159.3 321.4,159.4 320.2,159.5 320.0,159.5 319.0,159.5 317.8,159.6 316.6,159.8 315.4,159.9 314.2,160.1 313.0,160.3 312.0,160.4 311.9,160.5 310.7,160.7 309.5,160.9 308.3,161.1 307.1,161.3 305.9,161.4 304.7,161.5 303.5,161.5 303.0,161.5 302.3,161.4 301.1,161.2 299.9,160.8 298.7,160.4 297.5,160.0 297.0,159.8 296.3,159.5 295.1,159.1 293.9,158.6 292.7,158.2 291.5,157.8 290.3,157.5 290.0,157.5 289.1,157.3 287.9,157.1 286.7,156.9 285.5,156.8 284.3,156.7 283.1,156.6 281.9,156.5 280.7,156.4 279.5,156.3 278.3,156.2 277.1,156.1 276.0,156.1 274.8,156.0 273.6,155.9 272.4,155.9 271.2,155.8 270.0,155.8 268.8,155.7 267.6,155.6 266.4,155.6 265.2,155.5 264.0,155.4 262.8,155.4 261.6,155.3 260.4,155.2 260.0,155.2 259.2,155.1 258.0,155.0 256.8,154.9 255.6,154.8 254.4,154.7 253.2,154.6 252.0,154.5 250.8,154.4 249.6,154.3 248.4,154.2 247.2,154.1 246.0,153.9 244.8,153.8 243.6,153.8 242.4,153.7 241.2,153.6 240.1,153.5 238.9,153.5 237.7,153.4 236.5,153.4 235.3,153.3 235.0,153.3 234.1,153.3 232.9,153.3 231.7,153.3 230.5,153.3 229.3,153.3 228.1,153.2 226.9,153.2 225.7,153.2 224.5,153.2 223.7,153.2 223.3,152.8 Z" fill="#d98679" stroke="#BC3C29" stroke-width="1.4" stroke-linejoin="round"/>
<path d="M223.3,149.1 223.7,149.1 224.5,149.1 225.7,149.1 226.9,149.1 228.1,149.1 229.3,149.1 230.5,149.1 231.7,149.1 232.9,149.1 234.1,149.1 235.0,149.1 235.3,149.1 236.5,149.1 237.7,149.1 238.9,149.1 240.1,149.1 241.2,149.1 242.4,149.1 243.6,149.1 244.8,149.1 246.0,149.1 247.2,149.1 248.4,149.1 249.6,149.1 250.8,149.1 252.0,149.1 253.2,149.1 254.4,149.1 255.6,149.1 256.8,149.1 258.0,149.1 259.2,149.1 260.0,149.1 260.4,149.1 261.6,149.1 262.8,149.1 264.0,149.1 265.2,149.1 266.4,149.1 267.6,149.1 268.8,149.1 270.0,149.1 271.2,149.1 272.4,149.1 273.6,149.1 274.8,149.1 276.0,149.1 277.1,149.1 278.3,149.1 279.5,149.1 280.7,149.1 281.9,149.1 283.1,149.1 284.3,149.1 285.5,149.1 286.7,149.1 287.9,149.1 289.1,149.1 290.0,149.1 290.3,149.1 291.5,149.1 292.7,149.1 293.9,149.1 295.1,149.1 296.3,149.1 297.0,149.1 297.5,149.1 298.7,149.1 299.9,149.1 301.1,149.1 302.3,149.1 303.0,149.1 303.5,149.1 304.7,149.1 305.9,149.1 307.1,149.1 308.3,149.1 309.5,149.1 310.7,149.1 311.9,149.1 312.0,149.1 313.0,149.1 314.2,149.1 315.4,149.1 316.6,149.1 317.8,149.1 319.0,149.1 320.0,149.1 320.2,149.1 321.4,149.1 322.6,149.1 323.8,149.1 325.0,149.1 326.0,149.1 326.2,149.1 326.3,149.1 327.4,149.1 328.2,149.1 328.6,149.1 329.2,149.7 L329.2,155.9 328.6,156.5 328.2,156.5 327.4,156.5 326.3,156.5 326.2,156.5 326.0,156.5 325.0,156.5 323.8,156.5 322.6,156.5 321.4,156.5 320.2,156.5 320.0,156.5 319.0,156.5 317.8,156.5 316.6,156.5 315.4,156.5 314.2,156.5 313.0,156.5 312.0,156.5 311.9,156.5 310.7,156.5 309.5,156.5 308.3,156.5 307.1,156.5 305.9,156.5 304.7,156.5 303.5,156.5 303.0,156.5 302.3,156.5 301.1,156.5 299.9,156.5 298.7,156.5 297.5,156.5 297.0,156.5 296.3,156.5 295.1,156.5 293.9,156.5 292.7,156.5 291.5,156.5 290.3,156.5 290.0,156.5 289.1,156.5 287.9,156.5 286.7,156.5 285.5,156.5 284.3,156.5 283.1,156.5 281.9,156.5 280.7,156.5 279.5,156.5 278.3,156.5 277.1,156.5 276.0,156.5 274.8,156.5 273.6,156.5 272.4,156.5 271.2,156.5 270.0,156.5 268.8,156.5 267.6,156.5 266.4,156.5 265.2,156.5 264.0,156.5 262.8,156.5 261.6,156.5 260.4,156.5 260.0,156.5 259.2,156.5 258.0,156.5 256.8,156.5 255.6,156.5 254.4,156.5 253.2,156.5 252.0,156.5 250.8,156.5 249.6,156.5 248.4,156.5 247.2,156.5 246.0,156.5 244.8,156.5 243.6,156.5 242.4,156.5 241.2,156.5 240.1,156.5 238.9,156.5 237.7,156.5 236.5,156.5 235.3,156.5 235.0,156.5 234.1,156.5 232.9,156.5 231.7,156.5 230.5,156.5 229.3,156.5 228.1,156.5 226.9,156.5 225.7,156.5 224.5,156.5 223.7,156.5 223.3,156.5 Z" fill="url(#g7)"/>
<path d="M223.0 152.8h.9v0.9h-.9zM228.1 150.4h.9v0.9h-.9zM234.5 150.7h.9v0.9h-.9zM235.7 150.7h.9v1.6h-.9zM238.0 150.6h.9v0.9h-.9zM239.7 152.5h.9v1.6h-.9zM241.2 149.5h.9v1.2h-.9zM242.2 154.3h.9v1.2h-.9zM243.8 150.0h.9v1.6h-.9zM244.8 152.0h.9v1.6h-.9zM246.3 153.4h.9v1.2h-.9zM247.4 149.8h.9v1.2h-.9zM247.5 151.7h.9v1.6h-.9zM248.8 152.8h.9v1.6h-.9zM250.0 152.7h.9v1.2h-.9zM250.8 155.1h.9v0.9h-.9zM251.7 154.4h.9v0.9h-.9zM253.1 149.7h.9v1.2h-.9zM253.2 154.7h.9v1.2h-.9zM254.1 152.7h.9v1.6h-.9zM255.3 153.6h.9v1.6h-.9zM255.6 149.9h.9v0.9h-.9zM256.3 152.2h.9v1.2h-.9zM257.5 153.8h.9v1.6h-.9zM258.0 154.5h.9v0.9h-.9zM258.5 154.5h.9v0.9h-.9zM258.9 150.3h.9v1.6h-.9zM259.6 154.7h.9v1.6h-.9zM260.7 152.8h.9v0.9h-.9zM261.2 153.5h.9v1.6h-.9zM261.3 154.8h.9v1.6h-.9zM262.3 151.7h.9v1.2h-.9zM262.7 155.3h.9v0.9h-.9zM263.5 155.1h.9v1.6h-.9zM263.8 154.5h.9v0.9h-.9zM264.3 151.5h.9v1.2h-.9zM264.8 152.6h.9v1.2h-.9zM265.5 150.0h.9v1.6h-.9zM266.5 154.2h.9v1.2h-.9zM267.1 155.1h.9v0.9h-.9zM267.6 149.9h.9v0.9h-.9zM268.4 154.1h.9v0.9h-.9zM268.7 153.7h.9v1.6h-.9zM269.6 149.1h.9v1.6h-.9zM270.9 155.3h.9v0.9h-.9zM271.9 152.2h.9v1.6h-.9zM272.3 150.7h.9v0.9h-.9zM273.6 149.0h.9v1.2h-.9zM274.7 154.4h.9v1.2h-.9zM275.8 151.2h.9v1.6h-.9zM276.2 152.4h.9v1.2h-.9zM277.7 150.2h.9v0.9h-.9zM278.6 153.1h.9v1.2h-.9zM280.0 151.6h.9v1.6h-.9zM281.3 154.5h.9v1.2h-.9zM282.4 153.5h.9v1.6h-.9zM283.5 153.9h.9v0.9h-.9zM285.9 150.6h.9v1.2h-.9zM287.2 149.3h.9v0.9h-.9zM288.8 155.0h.9v1.2h-.9zM289.3 155.4h.9v1.2h-.9zM290.8 153.4h.9v1.6h-.9zM292.8 155.3h.9v1.6h-.9zM294.8 153.8h.9v0.9h-.9zM295.6 153.1h.9v1.6h-.9zM296.7 151.8h.9v1.6h-.9zM298.8 151.3h.9v0.9h-.9zM301.0 152.3h.9v1.6h-.9zM302.4 150.4h.9v1.6h-.9zM304.1 151.8h.9v1.2h-.9zM304.9 152.4h.9v0.9h-.9zM306.3 149.0h.9v0.9h-.9zM308.9 151.6h.9v1.6h-.9zM310.5 150.8h.9v0.9h-.9zM312.3 153.3h.9v0.9h-.9zM313.3 154.6h.9v0.9h-.9zM314.8 153.2h.9v0.9h-.9zM316.6 153.5h.9v1.6h-.9zM319.5 153.2h.9v0.9h-.9zM321.5 150.6h.9v0.9h-.9zM322.4 151.5h.9v1.6h-.9zM325.3 154.8h.9v0.9h-.9zM326.3 155.5h.9v0.9h-.9zM328.5 150.1h.9v0.9h-.9z" fill="#BC3C29" fill-opacity="0.9"/>
<path d="M233.3 152.1h.8v4.2h-.8zM234.6 150.3h.8v4.8h-.8zM236.2 149.5h.8v6.9h-.8zM237.4 149.3h.8v6.3h-.8zM238.8 149.3h.8v3.9h-.8zM239.9 150.1h.8v6.3h-.8zM240.6 149.4h.8v6.6h-.8zM241.5 149.8h.8v6.1h-.8zM243.7 151.6h.8v4.8h-.8zM244.0 149.2h.8v6.8h-.8zM245.8 152.0h.8v4.4h-.8zM246.6 151.2h.8v2.1h-.8zM248.5 150.2h.8v3.1h-.8zM249.0 149.6h.8v5.4h-.8zM250.5 151.0h.8v3.7h-.8zM251.5 150.7h.8v4.0h-.8zM253.5 152.2h.8v3.9h-.8zM254.4 149.3h.8v2.6h-.8zM255.7 149.3h.8v2.1h-.8zM256.5 150.0h.8v1.8h-.8zM257.6 150.3h.8v5.5h-.8zM259.7 152.2h.8v3.4h-.8zM260.8 150.6h.8v4.2h-.8zM262.0 149.3h.8v7.0h-.8zM263.6 150.5h.8v5.2h-.8zM264.3 149.1h.8v6.3h-.8zM265.0 149.4h.8v6.0h-.8zM266.8 149.4h.8v7.1h-.8zM267.6 150.9h.8v1.9h-.8zM269.2 152.5h.8v3.8h-.8z" fill="#BC3C29" fill-opacity="0.8"/>
<path d="M256.3 154.7h1.2v.8h-1.2zM262.8 151.4h0.7v.8h-0.7zM266.0 152.8h0.9v.8h-0.9zM269.0 150.2h1.2v.8h-1.2zM271.1 152.5h0.7v.8h-0.7zM273.0 149.9h1.2v.8h-1.2zM274.7 150.1h1.2v.8h-1.2zM276.4 150.2h1.2v.8h-1.2zM277.9 151.2h0.9v.8h-0.9zM278.7 151.2h0.9v.8h-0.9zM280.5 153.5h1.2v.8h-1.2zM282.9 149.9h0.9v.8h-0.9zM283.0 150.1h0.7v.8h-0.7zM285.5 153.3h1.2v.8h-1.2zM286.5 153.4h1.2v.8h-1.2zM288.3 153.6h0.9v.8h-0.9zM289.2 153.6h0.7v.8h-0.7zM290.6 153.3h1.2v.8h-1.2zM292.3 152.7h0.7v.8h-0.7zM294.2 153.7h0.9v.8h-0.9zM294.8 149.9h0.7v.8h-0.7zM295.9 150.7h0.9v.8h-0.9zM297.2 153.8h1.2v.8h-1.2zM299.7 150.6h0.7v.8h-0.7zM300.3 152.5h0.7v.8h-0.7zM301.5 151.0h0.7v.8h-0.7zM303.5 152.0h0.7v.8h-0.7zM305.2 154.3h0.9v.8h-0.9zM306.2 153.3h0.7v.8h-0.7zM307.0 152.0h0.7v.8h-0.7zM308.7 151.0h0.7v.8h-0.7zM309.9 154.1h1.2v.8h-1.2zM310.9 153.3h0.7v.8h-0.7zM313.5 152.0h1.2v.8h-1.2zM314.2 154.5h1.2v.8h-1.2zM315.1 153.5h0.7v.8h-0.7zM317.4 155.1h0.9v.8h-0.9zM318.9 153.3h0.7v.8h-0.7zM320.0 154.7h0.7v.8h-0.7zM320.6 152.6h0.7v.8h-0.7zM321.8 153.6h0.9v.8h-0.9zM323.6 154.3h1.2v.8h-1.2zM324.9 150.0h1.2v.8h-1.2zM326.6 152.2h0.7v.8h-0.7zM328.1 153.0h0.7v.8h-0.7z" fill="#d98679" fill-opacity="0.85"/>
<circle cx="301.10" cy="152.80" r="2.35" fill="#BC3C29" stroke="#2a1a18" stroke-width="1.2"/>
<path d="M231.3,174.8 231.7,174.4 232.4,174.4 233.5,174.4 234.6,174.4 235.7,174.3 236.8,174.3 237.9,174.3 239.0,174.2 240.2,174.2 241.3,174.2 242.4,174.2 243.5,174.1 244.6,174.1 245.0,174.1 245.7,174.0 246.8,173.9 247.9,173.8 249.0,173.6 250.1,173.4 251.2,173.2 252.3,173.0 253.4,172.8 254.5,172.5 255.6,172.3 256.8,172.1 257.9,172.0 259.0,171.8 260.0,171.7 260.1,171.7 261.2,171.6 262.3,171.5 263.4,171.4 264.5,171.3 265.6,171.3 266.7,171.2 267.8,171.2 268.9,171.1 270.0,171.1 271.1,171.0 272.2,171.0 273.4,170.9 274.5,170.9 275.6,170.8 276.7,170.8 277.8,170.7 278.9,170.7 280.0,170.6 280.0,170.6 281.1,170.6 282.2,170.6 283.3,170.5 284.4,170.5 285.5,170.4 286.6,170.4 287.7,170.3 288.9,170.2 290.0,170.1 290.0,170.1 291.1,169.9 292.2,169.7 293.3,169.4 294.4,169.1 295.5,168.8 296.6,168.4 297.0,168.3 297.7,168.0 298.8,167.7 299.9,167.3 301.0,167.0 302.1,166.8 303.0,166.7 303.2,166.7 304.3,166.6 305.5,166.7 306.6,166.8 307.7,167.0 308.8,167.2 309.9,167.4 311.0,167.6 312.0,167.8 312.1,167.9 313.2,168.1 314.3,168.3 315.4,168.5 316.5,168.7 317.6,168.9 318.7,169.1 319.8,169.2 320.0,169.3 320.9,169.4 322.1,169.5 323.2,169.7 324.3,169.9 325.4,170.2 326.0,170.5 326.3,170.5 326.5,170.6 327.6,170.8 328.2,171.0 328.7,171.4 329.2,172.4 329.8,174.8 L329.8,174.8 329.2,177.2 328.7,178.3 328.2,178.7 327.6,178.8 326.5,179.1 326.3,179.1 326.0,179.2 325.4,179.4 324.3,179.8 323.2,180.0 322.1,180.2 320.9,180.3 320.0,180.4 319.8,180.4 318.7,180.6 317.6,180.8 316.5,181.0 315.4,181.2 314.3,181.4 313.2,181.6 312.1,181.8 312.0,181.8 311.0,182.1 309.9,182.3 308.8,182.5 307.7,182.7 306.6,182.9 305.5,183.0 304.3,183.0 303.2,183.0 303.0,183.0 302.1,182.9 301.0,182.7 299.9,182.4 298.8,182.0 297.7,181.6 297.0,181.4 296.6,181.3 295.5,180.9 294.4,180.6 293.3,180.2 292.2,180.0 291.1,179.8 290.0,179.6 290.0,179.6 288.9,179.5 287.7,179.4 286.6,179.3 285.5,179.2 284.4,179.2 283.3,179.2 282.2,179.1 281.1,179.1 280.0,179.0 280.0,179.0 278.9,179.0 277.8,178.9 276.7,178.9 275.6,178.9 274.5,178.8 273.4,178.8 272.2,178.7 271.1,178.7 270.0,178.6 268.9,178.6 267.8,178.5 266.7,178.5 265.6,178.4 264.5,178.3 263.4,178.3 262.3,178.2 261.2,178.1 260.1,178.0 260.0,178.0 259.0,177.9 257.9,177.7 256.8,177.5 255.6,177.3 254.5,177.1 253.4,176.9 252.3,176.7 251.2,176.5 250.1,176.3 249.0,176.1 247.9,175.9 246.8,175.8 245.7,175.7 245.0,175.6 244.6,175.6 243.5,175.5 242.4,175.5 241.3,175.5 240.2,175.5 239.0,175.4 237.9,175.4 236.8,175.4 235.7,175.4 234.6,175.3 233.5,175.3 232.4,175.3 231.7,175.2 231.3,174.8 Z" fill="#d98679" stroke="#BC3C29" stroke-width="1.4" stroke-linejoin="round"/>
<path d="M231.3,171.1 231.7,171.1 232.4,171.1 233.5,171.1 234.6,171.1 235.7,171.1 236.8,171.1 237.9,171.1 239.0,171.1 240.2,171.1 241.3,171.1 242.4,171.1 243.5,171.1 244.6,171.1 245.0,171.1 245.7,171.1 246.8,171.1 247.9,171.1 249.0,171.1 250.1,171.1 251.2,171.1 252.3,171.1 253.4,171.1 254.5,171.1 255.6,171.1 256.8,171.1 257.9,171.1 259.0,171.1 260.0,171.1 260.1,171.1 261.2,171.1 262.3,171.1 263.4,171.1 264.5,171.1 265.6,171.1 266.7,171.1 267.8,171.1 268.9,171.1 270.0,171.1 271.1,171.1 272.2,171.1 273.4,171.1 274.5,171.1 275.6,171.1 276.7,171.1 277.8,171.1 278.9,171.1 280.0,171.1 280.0,171.1 281.1,171.1 282.2,171.1 283.3,171.1 284.4,171.1 285.5,171.1 286.6,171.1 287.7,171.1 288.9,171.1 290.0,171.1 290.0,171.1 291.1,171.1 292.2,171.1 293.3,171.1 294.4,171.1 295.5,171.1 296.6,171.1 297.0,171.1 297.7,171.1 298.8,171.1 299.9,171.1 301.0,171.1 302.1,171.1 303.0,171.1 303.2,171.1 304.3,171.1 305.5,171.1 306.6,171.1 307.7,171.1 308.8,171.1 309.9,171.1 311.0,171.1 312.0,171.1 312.1,171.1 313.2,171.1 314.3,171.1 315.4,171.1 316.5,171.1 317.6,171.1 318.7,171.1 319.8,171.1 320.0,171.1 320.9,171.1 322.1,171.1 323.2,171.1 324.3,171.1 325.4,171.1 326.0,171.1 326.3,171.1 326.5,171.1 327.6,171.1 328.2,171.1 328.7,171.4 329.2,172.4 L329.2,177.2 328.7,178.3 328.2,178.5 327.6,178.5 326.5,178.5 326.3,178.5 326.0,178.5 325.4,178.5 324.3,178.5 323.2,178.5 322.1,178.5 320.9,178.5 320.0,178.5 319.8,178.5 318.7,178.5 317.6,178.5 316.5,178.5 315.4,178.5 314.3,178.5 313.2,178.5 312.1,178.5 312.0,178.5 311.0,178.5 309.9,178.5 308.8,178.5 307.7,178.5 306.6,178.5 305.5,178.5 304.3,178.5 303.2,178.5 303.0,178.5 302.1,178.5 301.0,178.5 299.9,178.5 298.8,178.5 297.7,178.5 297.0,178.5 296.6,178.5 295.5,178.5 294.4,178.5 293.3,178.5 292.2,178.5 291.1,178.5 290.0,178.5 290.0,178.5 288.9,178.5 287.7,178.5 286.6,178.5 285.5,178.5 284.4,178.5 283.3,178.5 282.2,178.5 281.1,178.5 280.0,178.5 280.0,178.5 278.9,178.5 277.8,178.5 276.7,178.5 275.6,178.5 274.5,178.5 273.4,178.5 272.2,178.5 271.1,178.5 270.0,178.5 268.9,178.5 267.8,178.5 266.7,178.5 265.6,178.5 264.5,178.5 263.4,178.5 262.3,178.5 261.2,178.5 260.1,178.5 260.0,178.5 259.0,178.5 257.9,178.5 256.8,178.5 255.6,178.5 254.5,178.5 253.4,178.5 252.3,178.5 251.2,178.5 250.1,178.5 249.0,178.5 247.9,178.5 246.8,178.5 245.7,178.5 245.0,178.5 244.6,178.5 243.5,178.5 242.4,178.5 241.3,178.5 240.2,178.5 239.0,178.5 237.9,178.5 236.8,178.5 235.7,178.5 234.6,178.5 233.5,178.5 232.4,178.5 231.7,178.5 231.3,178.5 Z" fill="url(#g8)"/>
<path d="M232.9 176.9h.9v1.6h-.9zM239.4 171.6h.9v1.2h-.9zM243.6 174.0h.9v0.9h-.9zM246.6 176.4h.9v0.9h-.9zM247.1 172.9h.9v1.2h-.9zM249.9 175.1h.9v1.6h-.9zM250.9 171.2h.9v1.2h-.9zM251.7 172.3h.9v1.2h-.9zM252.9 173.7h.9v0.9h-.9zM254.6 171.3h.9v1.6h-.9zM255.6 173.9h.9v1.6h-.9zM256.4 172.5h.9v0.9h-.9zM257.4 177.0h.9v1.6h-.9zM258.6 173.1h.9v1.6h-.9zM260.0 173.5h.9v0.9h-.9zM260.6 176.5h.9v1.2h-.9zM261.9 174.8h.9v1.6h-.9zM262.6 171.2h.9v1.6h-.9zM263.5 172.4h.9v1.2h-.9zM264.4 175.2h.9v0.9h-.9zM265.4 172.3h.9v1.6h-.9zM266.2 172.6h.9v1.2h-.9zM267.3 175.3h.9v1.6h-.9zM267.7 174.4h.9v0.9h-.9zM268.7 172.8h.9v1.6h-.9zM270.1 174.8h.9v0.9h-.9zM270.6 175.3h.9v0.9h-.9zM271.9 171.1h.9v0.9h-.9zM272.9 172.8h.9v1.6h-.9zM273.4 173.0h.9v1.6h-.9zM273.9 177.1h.9v1.2h-.9zM275.4 171.2h.9v1.6h-.9zM276.1 173.3h.9v0.9h-.9zM276.7 172.2h.9v1.6h-.9zM278.1 175.8h.9v1.2h-.9zM278.6 176.6h.9v1.2h-.9zM279.1 171.2h.9v1.2h-.9zM280.0 177.0h.9v0.9h-.9zM281.0 175.8h.9v1.6h-.9zM282.2 172.4h.9v1.6h-.9zM283.2 177.3h.9v1.2h-.9zM283.4 172.9h.9v1.6h-.9zM284.2 176.4h.9v0.9h-.9zM285.6 171.4h.9v1.2h-.9zM286.3 174.1h.9v1.6h-.9zM287.2 174.4h.9v1.2h-.9zM288.3 177.2h.9v1.2h-.9zM289.3 176.8h.9v0.9h-.9zM290.2 174.7h.9v1.6h-.9zM290.8 171.2h.9v0.9h-.9zM291.0 173.9h.9v0.9h-.9zM292.0 173.5h.9v0.9h-.9zM293.2 177.9h.9v1.6h-.9zM294.4 175.7h.9v1.2h-.9zM294.5 173.7h.9v1.6h-.9zM295.7 173.4h.9v1.2h-.9zM296.5 176.3h.9v0.9h-.9zM297.3 171.5h.9v1.6h-.9zM298.1 176.6h.9v1.2h-.9zM298.9 175.6h.9v0.9h-.9zM299.8 173.9h.9v0.9h-.9zM300.5 175.9h.9v0.9h-.9zM301.7 173.7h.9v1.2h-.9zM302.5 171.9h.9v1.6h-.9zM303.6 173.8h.9v0.9h-.9zM304.4 171.2h.9v1.2h-.9zM305.5 171.5h.9v1.6h-.9zM305.8 174.0h.9v1.6h-.9zM307.1 176.7h.9v0.9h-.9zM307.5 172.3h.9v0.9h-.9zM308.6 174.4h.9v1.6h-.9zM309.6 177.8h.9v1.6h-.9zM310.1 176.7h.9v1.2h-.9zM311.0 177.2h.9v1.2h-.9zM312.0 175.6h.9v0.9h-.9zM312.4 175.0h.9v1.6h-.9zM313.6 175.0h.9v0.9h-.9zM314.0 175.1h.9v1.2h-.9zM315.0 174.1h.9v1.6h-.9zM316.1 173.4h.9v1.2h-.9zM317.3 172.5h.9v0.9h-.9zM318.1 171.3h.9v0.9h-.9zM318.3 173.5h.9v0.9h-.9zM319.1 176.3h.9v1.6h-.9zM320.2 174.8h.9v0.9h-.9zM321.0 172.0h.9v0.9h-.9zM321.7 176.6h.9v1.2h-.9zM322.9 171.1h.9v1.2h-.9zM323.6 177.5h.9v1.2h-.9zM324.3 175.5h.9v0.9h-.9zM325.2 174.8h.9v0.9h-.9zM326.0 173.8h.9v0.9h-.9zM326.9 176.7h.9v1.2h-.9zM327.9 170.9h.9v0.9h-.9zM328.7 171.0h.9v1.6h-.9zM329.6 174.5h.9v0.9h-.9z" fill="#BC3C29" fill-opacity="0.9"/>
<path d="M245.6 176.8h1.2v.8h-1.2zM250.6 176.1h1.2v.8h-1.2zM253.0 173.0h0.9v.8h-0.9zM256.5 174.3h0.9v.8h-0.9zM258.6 175.1h0.9v.8h-0.9zM260.0 173.3h0.9v.8h-0.9zM262.3 172.1h1.2v.8h-1.2zM262.6 176.3h0.7v.8h-0.7zM264.8 172.4h0.7v.8h-0.7zM265.9 174.3h0.9v.8h-0.9zM267.3 174.0h0.7v.8h-0.7zM268.5 176.7h0.9v.8h-0.9zM268.9 174.7h1.2v.8h-1.2zM270.8 174.0h0.7v.8h-0.7zM271.4 177.2h0.7v.8h-0.7zM272.8 173.5h1.2v.8h-1.2zM274.2 175.7h0.9v.8h-0.9zM274.9 172.8h0.9v.8h-0.9zM275.9 175.9h1.2v.8h-1.2zM276.4 175.8h1.2v.8h-1.2zM278.0 176.3h0.7v.8h-0.7zM278.6 174.3h0.9v.8h-0.9zM279.8 172.8h0.9v.8h-0.9zM280.8 175.2h1.2v.8h-1.2zM282.3 176.8h1.2v.8h-1.2zM282.9 173.3h0.7v.8h-0.7zM284.0 171.6h0.7v.8h-0.7zM284.4 172.6h0.9v.8h-0.9zM285.4 176.9h0.7v.8h-0.7zM286.9 171.5h0.7v.8h-0.7zM287.1 171.8h1.2v.8h-1.2zM288.8 172.1h1.2v.8h-1.2zM289.2 176.7h0.7v.8h-0.7zM290.1 173.7h0.9v.8h-0.9zM291.1 175.5h0.7v.8h-0.7zM292.0 175.6h0.7v.8h-0.7zM293.0 174.0h1.2v.8h-1.2zM293.8 175.7h0.7v.8h-0.7zM295.0 174.2h0.7v.8h-0.7zM295.5 174.6h0.7v.8h-0.7zM296.4 173.3h1.2v.8h-1.2zM297.5 171.5h0.9v.8h-0.9zM298.1 174.9h1.2v.8h-1.2zM299.4 173.0h0.9v.8h-0.9zM300.4 173.1h1.2v.8h-1.2zM301.5 176.6h0.9v.8h-0.9zM301.8 173.6h0.7v.8h-0.7zM303.0 172.1h0.7v.8h-0.7zM304.3 175.1h0.7v.8h-0.7zM304.8 174.6h1.2v.8h-1.2zM306.2 171.8h1.2v.8h-1.2zM307.0 173.5h1.2v.8h-1.2zM307.3 175.0h1.2v.8h-1.2zM308.5 173.1h0.9v.8h-0.9zM309.7 177.2h0.7v.8h-0.7zM310.4 176.1h0.9v.8h-0.9zM311.3 174.4h0.7v.8h-0.7zM312.5 176.8h1.2v.8h-1.2zM313.1 171.7h0.7v.8h-0.7zM313.8 172.8h1.2v.8h-1.2zM314.9 176.8h0.7v.8h-0.7zM315.3 174.4h0.9v.8h-0.9zM315.8 172.5h0.9v.8h-0.9zM316.8 174.8h1.2v.8h-1.2zM317.9 175.7h0.9v.8h-0.9zM319.0 175.0h1.2v.8h-1.2zM319.5 171.8h0.9v.8h-0.9zM320.0 171.7h0.7v.8h-0.7zM321.4 173.9h0.7v.8h-0.7zM321.7 171.6h0.9v.8h-0.9zM322.3 172.0h0.7v.8h-0.7zM323.3 175.2h0.7v.8h-0.7zM323.9 174.0h0.7v.8h-0.7zM324.5 172.0h1.2v.8h-1.2zM325.7 176.6h0.7v.8h-0.7zM326.4 173.6h1.2v.8h-1.2zM327.4 176.6h0.7v.8h-0.7zM327.5 175.0h0.7v.8h-0.7z" fill="#d98679" fill-opacity="0.85"/>
<circle cx="299.20" cy="174.84" r="2.35" fill="#BC3C29" stroke="#2a1a18" stroke-width="1.2"/>
<path d="M223.0,196.9 223.4,196.5 224.2,196.5 225.4,196.5 226.6,196.4 227.8,196.4 229.0,196.4 230.2,196.4 231.4,196.3 232.6,196.3 233.8,196.3 235.0,196.3 236.2,196.3 237.4,196.3 238.0,196.3 238.6,196.2 239.8,196.2 241.0,196.1 242.2,196.1 243.4,196.0 244.6,195.9 245.8,195.8 247.0,195.7 248.2,195.6 249.4,195.5 250.6,195.3 251.8,195.2 253.0,195.1 254.2,195.0 255.4,194.9 256.6,194.8 257.8,194.7 259.0,194.6 260.0,194.5 260.2,194.5 261.4,194.4 262.6,194.3 263.8,194.3 265.0,194.2 266.2,194.2 267.4,194.1 268.6,194.0 269.8,194.0 271.0,193.9 272.2,193.9 273.4,193.8 274.6,193.7 275.8,193.7 277.0,193.6 278.2,193.5 279.4,193.4 280.0,193.3 280.6,193.3 281.8,193.2 283.0,193.0 284.2,192.9 285.4,192.7 286.6,192.5 287.8,192.3 289.0,192.0 290.2,191.7 291.4,191.4 292.0,191.2 292.6,190.9 293.8,190.5 295.0,189.9 296.2,189.3 297.4,188.7 298.0,188.4 298.6,188.1 299.8,187.6 301.0,187.2 302.2,186.9 303.0,186.9 303.4,186.9 304.6,187.0 305.8,187.2 307.0,187.6 308.2,188.1 309.4,188.6 310.0,188.9 310.6,189.2 311.8,189.7 313.0,190.2 314.2,190.7 315.4,191.1 316.6,191.3 317.8,191.5 318.0,191.5 319.0,191.6 320.2,191.5 321.4,191.4 322.6,191.4 323.8,191.4 324.0,191.4 325.0,191.6 326.2,191.9 326.3,191.9 327.4,192.0 328.2,192.2 328.6,192.6 329.2,194.0 329.8,196.9 L329.8,196.9 329.2,199.8 328.6,201.2 328.2,201.5 327.4,201.7 326.3,201.9 326.2,201.9 325.0,202.2 324.0,202.4 323.8,202.4 322.6,202.4 321.4,202.3 320.2,202.2 319.0,202.2 318.0,202.2 317.8,202.3 316.6,202.4 315.4,202.7 314.2,203.1 313.0,203.6 311.8,204.1 310.6,204.6 310.0,204.9 309.4,205.1 308.2,205.7 307.0,206.1 305.8,206.5 304.6,206.8 303.4,206.9 303.0,206.9 302.2,206.8 301.0,206.6 299.8,206.1 298.6,205.6 298.0,205.3 297.4,205.0 296.2,204.4 295.0,203.8 293.8,203.3 292.6,202.8 292.0,202.6 291.4,202.4 290.2,202.0 289.0,201.7 287.8,201.5 286.6,201.3 285.4,201.1 284.2,200.9 283.0,200.7 281.8,200.6 280.6,200.5 280.0,200.4 279.4,200.4 278.2,200.3 277.0,200.2 275.8,200.1 274.6,200.0 273.4,200.0 272.2,199.9 271.0,199.8 269.8,199.8 268.6,199.7 267.4,199.7 266.2,199.6 265.0,199.5 263.8,199.5 262.6,199.4 261.4,199.4 260.2,199.3 260.0,199.3 259.0,199.2 257.8,199.1 256.6,199.0 255.4,198.9 254.2,198.8 253.0,198.7 251.8,198.5 250.6,198.4 249.4,198.3 248.2,198.2 247.0,198.1 245.8,198.0 244.6,197.9 243.4,197.8 242.2,197.7 241.0,197.6 239.8,197.6 238.6,197.5 238.0,197.5 237.4,197.5 236.2,197.5 235.0,197.4 233.8,197.4 232.6,197.4 231.4,197.4 230.2,197.4 229.0,197.4 227.8,197.4 226.6,197.3 225.4,197.3 224.2,197.3 223.4,197.3 223.0,196.9 Z" fill="#d98679" stroke="#BC3C29" stroke-width="1.4" stroke-linejoin="round"/>
<path d="M223.0,193.2 223.4,193.2 224.2,193.2 225.4,193.2 226.6,193.2 227.8,193.2 229.0,193.2 230.2,193.2 231.4,193.2 232.6,193.2 233.8,193.2 235.0,193.2 236.2,193.2 237.4,193.2 238.0,193.2 238.6,193.2 239.8,193.2 241.0,193.2 242.2,193.2 243.4,193.2 244.6,193.2 245.8,193.2 247.0,193.2 248.2,193.2 249.4,193.2 250.6,193.2 251.8,193.2 253.0,193.2 254.2,193.2 255.4,193.2 256.6,193.2 257.8,193.2 259.0,193.2 260.0,193.2 260.2,193.2 261.4,193.2 262.6,193.2 263.8,193.2 265.0,193.2 266.2,193.2 267.4,193.2 268.6,193.2 269.8,193.2 271.0,193.2 272.2,193.2 273.4,193.2 274.6,193.2 275.8,193.2 277.0,193.2 278.2,193.2 279.4,193.2 280.0,193.2 280.6,193.2 281.8,193.2 283.0,193.2 284.2,193.2 285.4,193.2 286.6,193.2 287.8,193.2 289.0,193.2 290.2,193.2 291.4,193.2 292.0,193.2 292.6,193.2 293.8,193.2 295.0,193.2 296.2,193.2 297.4,193.2 298.0,193.2 298.6,193.2 299.8,193.2 301.0,193.2 302.2,193.2 303.0,193.2 303.4,193.2 304.6,193.2 305.8,193.2 307.0,193.2 308.2,193.2 309.4,193.2 310.0,193.2 310.6,193.2 311.8,193.2 313.0,193.2 314.2,193.2 315.4,193.2 316.6,193.2 317.8,193.2 318.0,193.2 319.0,193.2 320.2,193.2 321.4,193.2 322.6,193.2 323.8,193.2 324.0,193.2 325.0,193.2 326.2,193.2 326.3,193.2 327.4,193.2 328.2,193.2 328.6,193.2 329.2,194.0 L329.2,199.8 328.6,200.6 328.2,200.6 327.4,200.6 326.3,200.6 326.2,200.6 325.0,200.6 324.0,200.6 323.8,200.6 322.6,200.6 321.4,200.6 320.2,200.6 319.0,200.6 318.0,200.6 317.8,200.6 316.6,200.6 315.4,200.6 314.2,200.6 313.0,200.6 311.8,200.6 310.6,200.6 310.0,200.6 309.4,200.6 308.2,200.6 307.0,200.6 305.8,200.6 304.6,200.6 303.4,200.6 303.0,200.6 302.2,200.6 301.0,200.6 299.8,200.6 298.6,200.6 298.0,200.6 297.4,200.6 296.2,200.6 295.0,200.6 293.8,200.6 292.6,200.6 292.0,200.6 291.4,200.6 290.2,200.6 289.0,200.6 287.8,200.6 286.6,200.6 285.4,200.6 284.2,200.6 283.0,200.6 281.8,200.6 280.6,200.6 280.0,200.6 279.4,200.6 278.2,200.6 277.0,200.6 275.8,200.6 274.6,200.6 273.4,200.6 272.2,200.6 271.0,200.6 269.8,200.6 268.6,200.6 267.4,200.6 266.2,200.6 265.0,200.6 263.8,200.6 262.6,200.6 261.4,200.6 260.2,200.6 260.0,200.6 259.0,200.6 257.8,200.6 256.6,200.6 255.4,200.6 254.2,200.6 253.0,200.6 251.8,200.6 250.6,200.6 249.4,200.6 248.2,200.6 247.0,200.6 245.8,200.6 244.6,200.6 243.4,200.6 242.2,200.6 241.0,200.6 239.8,200.6 238.6,200.6 238.0,200.6 237.4,200.6 236.2,200.6 235.0,200.6 233.8,200.6 232.6,200.6 231.4,200.6 230.2,200.6 229.0,200.6 227.8,200.6 226.6,200.6 225.4,200.6 224.2,200.6 223.4,200.6 223.0,200.6 Z" fill="url(#g9)"/>
<path d="M224.2 195.0h.9v1.6h-.9zM227.3 195.9h.9v0.9h-.9zM231.2 196.3h.9v1.6h-.9zM233.0 196.2h.9v1.6h-.9zM234.0 199.3h.9v1.6h-.9zM234.9 199.4h.9v0.9h-.9zM235.7 195.3h.9v1.2h-.9zM236.7 194.9h.9v0.9h-.9zM237.5 197.5h.9v1.2h-.9zM238.8 194.3h.9v1.2h-.9zM239.6 195.7h.9v1.6h-.9zM240.1 198.0h.9v1.6h-.9zM241.0 192.9h.9v1.2h-.9zM241.5 198.4h.9v1.6h-.9zM242.1 198.1h.9v1.2h-.9zM242.4 195.6h.9v1.6h-.9zM243.0 194.6h.9v1.6h-.9zM243.5 196.7h.9v0.9h-.9zM244.3 195.0h.9v1.2h-.9zM244.7 198.7h.9v1.2h-.9zM245.2 197.1h.9v1.6h-.9zM245.7 195.1h.9v1.6h-.9zM246.1 198.6h.9v1.6h-.9zM246.4 197.2h.9v0.9h-.9zM247.0 193.8h.9v1.6h-.9zM247.2 195.8h.9v0.9h-.9zM247.8 196.4h.9v1.6h-.9zM248.0 199.6h.9v1.6h-.9zM248.8 195.2h.9v1.6h-.9zM249.2 196.1h.9v1.6h-.9zM249.4 199.8h.9v1.6h-.9zM250.1 195.9h.9v1.2h-.9zM250.6 198.8h.9v1.2h-.9zM250.7 193.6h.9v0.9h-.9zM251.5 195.7h.9v1.2h-.9zM251.9 194.2h.9v0.9h-.9zM252.6 199.2h.9v1.6h-.9zM253.5 196.8h.9v1.2h-.9zM254.1 194.4h.9v1.6h-.9zM254.5 193.5h.9v1.6h-.9zM255.6 195.9h.9v1.2h-.9zM256.5 193.6h.9v1.6h-.9zM256.9 196.3h.9v0.9h-.9zM257.9 198.1h.9v1.2h-.9zM259.1 195.1h.9v0.9h-.9zM259.9 194.1h.9v0.9h-.9zM261.1 195.4h.9v1.2h-.9zM262.9 194.1h.9v1.6h-.9zM264.7 198.9h.9v1.6h-.9zM265.5 193.6h.9v1.6h-.9zM267.3 198.1h.9v1.6h-.9zM269.1 195.3h.9v1.6h-.9zM270.6 198.1h.9v1.2h-.9zM272.1 198.4h.9v0.9h-.9zM272.7 193.8h.9v1.2h-.9zM275.6 198.3h.9v1.6h-.9zM276.1 199.6h.9v1.2h-.9zM277.7 196.9h.9v1.6h-.9zM279.8 197.5h.9v0.9h-.9zM281.5 195.2h.9v1.2h-.9zM283.3 194.1h.9v0.9h-.9zM284.2 198.2h.9v1.6h-.9zM286.8 198.7h.9v1.2h-.9zM287.9 194.3h.9v0.9h-.9zM289.8 193.7h.9v1.2h-.9zM290.8 195.4h.9v1.2h-.9zM291.7 197.3h.9v1.6h-.9zM293.2 195.5h.9v1.6h-.9zM295.8 199.7h.9v0.9h-.9zM297.1 198.5h.9v0.9h-.9zM298.7 199.4h.9v1.6h-.9zM300.1 197.1h.9v1.2h-.9zM301.4 198.2h.9v0.9h-.9zM303.5 199.6h.9v1.2h-.9zM304.7 193.1h.9v1.2h-.9zM307.3 197.0h.9v1.6h-.9zM307.7 194.2h.9v1.6h-.9zM310.6 198.5h.9v1.6h-.9zM312.0 194.5h.9v0.9h-.9zM312.8 198.1h.9v1.6h-.9zM315.0 195.2h.9v1.6h-.9zM316.3 197.5h.9v1.2h-.9zM317.7 197.7h.9v1.6h-.9zM319.8 199.3h.9v1.2h-.9zM321.4 199.1h.9v1.6h-.9zM322.0 196.0h.9v1.2h-.9zM324.7 197.8h.9v0.9h-.9zM324.9 194.2h.9v0.9h-.9zM326.4 193.6h.9v1.2h-.9zM328.8 197.9h.9v1.6h-.9z" fill="#BC3C29" fill-opacity="0.9"/>
<path d="M230.4 193.7h.8v6.5h-.8zM230.6 193.6h.8v5.7h-.8zM231.3 197.0h.8v2.5h-.8zM232.6 194.4h.8v1.8h-.8zM233.0 193.2h.8v6.9h-.8zM233.6 193.4h.8v7.1h-.8zM234.4 196.8h.8v3.1h-.8zM235.6 193.8h.8v5.2h-.8zM236.3 194.9h.8v1.6h-.8zM237.2 193.7h.8v3.8h-.8zM238.1 194.2h.8v5.7h-.8zM238.2 196.1h.8v3.6h-.8zM239.7 193.3h.8v6.3h-.8zM240.4 193.5h.8v6.9h-.8zM241.2 195.9h.8v2.3h-.8zM241.9 193.4h.8v5.6h-.8zM242.4 195.1h.8v3.7h-.8zM243.0 194.5h.8v2.5h-.8zM244.3 193.9h.8v3.6h-.8zM244.7 196.2h.8v4.3h-.8zM245.6 193.2h.8v6.8h-.8zM246.5 193.7h.8v6.0h-.8zM247.3 196.8h.8v1.5h-.8zM248.0 195.4h.8v1.8h-.8zM248.8 193.2h.8v7.4h-.8zM249.4 195.4h.8v4.8h-.8zM250.4 193.7h.8v5.1h-.8zM250.9 194.8h.8v3.6h-.8zM251.6 194.1h.8v6.4h-.8zM252.9 195.7h.8v4.8h-.8z" fill="#BC3C29" fill-opacity="0.8"/>
<path d="M249.6 195.4h1.2v.8h-1.2zM251.6 195.0h0.7v.8h-0.7zM255.2 198.1h0.7v.8h-0.7zM257.8 195.1h0.9v.8h-0.9zM258.6 195.5h1.2v.8h-1.2zM262.4 196.4h0.7v.8h-0.7zM262.7 195.1h1.2v.8h-1.2zM265.8 197.7h0.7v.8h-0.7zM267.0 194.0h0.9v.8h-0.9zM268.9 195.4h0.9v.8h-0.9zM270.8 196.0h0.7v.8h-0.7zM274.3 195.0h1.2v.8h-1.2zM274.7 198.4h0.7v.8h-0.7zM278.3 195.6h0.7v.8h-0.7zM278.8 196.0h0.9v.8h-0.9zM281.1 196.2h0.9v.8h-0.9zM282.8 198.3h0.9v.8h-0.9zM286.4 194.8h0.9v.8h-0.9zM286.6 198.3h0.7v.8h-0.7zM290.1 199.0h0.9v.8h-0.9zM290.9 195.1h0.7v.8h-0.7zM294.2 194.5h0.9v.8h-0.9zM295.8 198.1h0.9v.8h-0.9zM296.8 195.3h0.9v.8h-0.9zM299.3 194.8h1.2v.8h-1.2zM300.6 194.0h0.9v.8h-0.9zM303.1 197.1h0.7v.8h-0.7zM304.3 199.0h0.9v.8h-0.9zM307.6 198.6h0.7v.8h-0.7zM309.4 196.9h0.7v.8h-0.7zM310.8 196.1h0.7v.8h-0.7zM312.2 199.2h1.2v.8h-1.2zM316.1 197.4h0.9v.8h-0.9zM316.4 199.1h0.7v.8h-0.7zM318.8 197.5h0.9v.8h-0.9zM320.2 197.6h0.9v.8h-0.9zM322.9 197.6h0.9v.8h-0.9zM324.9 194.3h0.7v.8h-0.7zM327.2 195.0h1.2v.8h-1.2z" fill="#d98679" fill-opacity="0.85"/>
<circle cx="301.50" cy="196.88" r="2.35" fill="#BC3C29" stroke="#2a1a18" stroke-width="1.2"/>
<path d="M218.0,218.9 218.4,218.5 219.3,218.5 220.5,218.5 221.8,218.5 223.0,218.5 224.3,218.5 225.5,218.5 226.8,218.5 228.0,218.4 229.3,218.4 230.6,218.4 231.8,218.4 233.0,218.4 233.1,218.4 234.3,218.4 235.6,218.3 236.8,218.3 238.1,218.2 239.4,218.2 240.6,218.1 241.9,218.0 243.1,217.9 244.4,217.9 245.6,217.8 246.9,217.7 248.1,217.6 249.4,217.5 250.7,217.3 251.9,217.2 253.2,217.1 254.4,217.0 255.7,216.9 256.9,216.8 258.2,216.8 259.5,216.7 260.0,216.6 260.7,216.6 262.0,216.5 263.2,216.4 264.5,216.4 265.7,216.3 267.0,216.3 268.2,216.2 269.5,216.1 270.8,216.1 272.0,216.0 273.3,216.0 274.5,215.9 275.8,215.8 277.0,215.8 278.3,215.7 279.6,215.6 280.8,215.5 282.1,215.4 283.3,215.2 284.6,215.1 285.0,215.0 285.8,214.9 287.1,214.7 288.3,214.4 289.6,214.1 290.9,213.7 292.1,213.3 293.4,212.9 294.6,212.5 295.0,212.3 295.9,212.0 297.1,211.5 298.4,211.0 299.7,210.6 300.9,210.2 302.2,210.0 303.0,209.9 303.4,209.9 304.7,209.9 305.9,210.1 307.2,210.4 308.4,210.7 309.7,211.1 311.0,211.5 311.0,211.5 312.2,211.9 313.5,212.3 314.7,212.7 316.0,213.1 317.2,213.3 318.0,213.4 318.5,213.4 319.8,213.4 321.0,213.3 322.3,213.2 323.5,213.2 324.0,213.2 324.8,213.4 326.0,213.7 326.3,213.8 327.3,213.9 328.2,214.1 328.5,214.4 329.2,215.9 329.8,218.9 L329.8,218.9 329.2,221.9 328.5,223.4 328.2,223.7 327.3,224.0 326.3,224.1 326.0,224.1 324.8,224.5 324.0,224.6 323.5,224.6 322.3,224.6 321.0,224.5 319.8,224.5 318.5,224.5 318.0,224.5 317.2,224.6 316.0,224.8 314.7,225.1 313.5,225.5 312.2,225.9 311.0,226.3 311.0,226.4 309.7,226.8 308.4,227.1 307.2,227.5 305.9,227.7 304.7,227.9 303.4,228.0 303.0,227.9 302.2,227.9 300.9,227.6 299.7,227.3 298.4,226.8 297.1,226.3 295.9,225.8 295.0,225.5 294.6,225.4 293.4,224.9 292.1,224.5 290.9,224.1 289.6,223.8 288.3,223.5 287.1,223.2 285.8,222.9 285.0,222.8 284.6,222.8 283.3,222.6 282.1,222.5 280.8,222.4 279.6,222.3 278.3,222.2 277.0,222.1 275.8,222.0 274.5,221.9 273.3,221.9 272.0,221.8 270.8,221.8 269.5,221.7 268.2,221.6 267.0,221.6 265.7,221.5 264.5,221.5 263.2,221.4 262.0,221.3 260.7,221.3 260.0,221.2 259.5,221.2 258.2,221.1 256.9,221.0 255.7,220.9 254.4,220.8 253.2,220.7 251.9,220.6 250.7,220.5 249.4,220.4 248.1,220.3 246.9,220.2 245.6,220.1 244.4,220.0 243.1,219.9 241.9,219.8 240.6,219.7 239.4,219.7 238.1,219.6 236.8,219.5 235.6,219.5 234.3,219.5 233.1,219.4 233.0,219.4 231.8,219.4 230.6,219.4 229.3,219.4 228.0,219.4 226.8,219.4 225.5,219.4 224.3,219.4 223.0,219.4 221.8,219.3 220.5,219.3 219.3,219.3 218.4,219.3 218.0,218.9 Z" fill="#d98679" stroke="#BC3C29" stroke-width="1.4" stroke-linejoin="round"/>
<path d="M218.0,215.2 218.4,215.2 219.3,215.2 220.5,215.2 221.8,215.2 223.0,215.2 224.3,215.2 225.5,215.2 226.8,215.2 228.0,215.2 229.3,215.2 230.6,215.2 231.8,215.2 233.0,215.2 233.1,215.2 234.3,215.2 235.6,215.2 236.8,215.2 238.1,215.2 239.4,215.2 240.6,215.2 241.9,215.2 243.1,215.2 244.4,215.2 245.6,215.2 246.9,215.2 248.1,215.2 249.4,215.2 250.7,215.2 251.9,215.2 253.2,215.2 254.4,215.2 255.7,215.2 256.9,215.2 258.2,215.2 259.5,215.2 260.0,215.2 260.7,215.2 262.0,215.2 263.2,215.2 264.5,215.2 265.7,215.2 267.0,215.2 268.2,215.2 269.5,215.2 270.8,215.2 272.0,215.2 273.3,215.2 274.5,215.2 275.8,215.2 277.0,215.2 278.3,215.2 279.6,215.2 280.8,215.2 282.1,215.2 283.3,215.2 284.6,215.2 285.0,215.2 285.8,215.2 287.1,215.2 288.3,215.2 289.6,215.2 290.9,215.2 292.1,215.2 293.4,215.2 294.6,215.2 295.0,215.2 295.9,215.2 297.1,215.2 298.4,215.2 299.7,215.2 300.9,215.2 302.2,215.2 303.0,215.2 303.4,215.2 304.7,215.2 305.9,215.2 307.2,215.2 308.4,215.2 309.7,215.2 311.0,215.2 311.0,215.2 312.2,215.2 313.5,215.2 314.7,215.2 316.0,215.2 317.2,215.2 318.0,215.2 318.5,215.2 319.8,215.2 321.0,215.2 322.3,215.2 323.5,215.2 324.0,215.2 324.8,215.2 326.0,215.2 326.3,215.2 327.3,215.2 328.2,215.2 328.5,215.2 329.2,215.9 L329.2,221.9 328.5,222.6 328.2,222.6 327.3,222.6 326.3,222.6 326.0,222.6 324.8,222.6 324.0,222.6 323.5,222.6 322.3,222.6 321.0,222.6 319.8,222.6 318.5,222.6 318.0,222.6 317.2,222.6 316.0,222.6 314.7,222.6 313.5,222.6 312.2,222.6 311.0,222.6 311.0,222.6 309.7,222.6 308.4,222.6 307.2,222.6 305.9,222.6 304.7,222.6 303.4,222.6 303.0,222.6 302.2,222.6 300.9,222.6 299.7,222.6 298.4,222.6 297.1,222.6 295.9,222.6 295.0,222.6 294.6,222.6 293.4,222.6 292.1,222.6 290.9,222.6 289.6,222.6 288.3,222.6 287.1,222.6 285.8,222.6 285.0,222.6 284.6,222.6 283.3,222.6 282.1,222.6 280.8,222.6 279.6,222.6 278.3,222.6 277.0,222.6 275.8,222.6 274.5,222.6 273.3,222.6 272.0,222.6 270.8,222.6 269.5,222.6 268.2,222.6 267.0,222.6 265.7,222.6 264.5,222.6 263.2,222.6 262.0,222.6 260.7,222.6 260.0,222.6 259.5,222.6 258.2,222.6 256.9,222.6 255.7,222.6 254.4,222.6 253.2,222.6 251.9,222.6 250.7,222.6 249.4,222.6 248.1,222.6 246.9,222.6 245.6,222.6 244.4,222.6 243.1,222.6 241.9,222.6 240.6,222.6 239.4,222.6 238.1,222.6 236.8,222.6 235.6,222.6 234.3,222.6 233.1,222.6 233.0,222.6 231.8,222.6 230.6,222.6 229.3,222.6 228.0,222.6 226.8,222.6 225.5,222.6 224.3,222.6 223.0,222.6 221.8,222.6 220.5,222.6 219.3,222.6 218.4,222.6 218.0,222.6 Z" fill="url(#g10)"/>
<path d="M219.4 221.2h.9v0.9h-.9zM223.5 215.7h.9v1.6h-.9zM230.0 218.5h.9v1.2h-.9zM233.6 220.4h.9v1.6h-.9zM235.3 215.5h.9v1.2h-.9zM235.7 218.8h.9v0.9h-.9zM237.2 222.0h.9v1.6h-.9zM238.8 216.6h.9v1.6h-.9zM240.6 215.7h.9v1.6h-.9zM241.3 217.0h.9v0.9h-.9zM242.4 217.4h.9v1.6h-.9zM243.1 216.9h.9v1.6h-.9zM244.7 218.0h.9v1.2h-.9zM244.9 220.8h.9v1.6h-.9zM246.2 218.6h.9v1.2h-.9zM247.2 219.1h.9v1.6h-.9zM248.1 215.7h.9v0.9h-.9zM248.9 215.4h.9v1.2h-.9zM249.4 221.7h.9v0.9h-.9zM250.0 217.4h.9v1.6h-.9zM251.1 221.6h.9v0.9h-.9zM251.5 217.3h.9v0.9h-.9zM251.9 219.5h.9v1.6h-.9zM252.5 219.6h.9v0.9h-.9zM253.4 215.6h.9v0.9h-.9zM254.0 215.4h.9v0.9h-.9zM254.4 218.1h.9v1.2h-.9zM254.8 215.8h.9v1.2h-.9zM255.5 217.0h.9v1.2h-.9zM256.2 216.3h.9v1.2h-.9zM256.5 217.1h.9v1.6h-.9zM257.1 218.2h.9v0.9h-.9zM257.7 217.1h.9v0.9h-.9zM258.1 217.3h.9v0.9h-.9zM258.5 218.4h.9v0.9h-.9zM258.8 219.8h.9v1.2h-.9zM259.5 215.2h.9v1.6h-.9zM260.1 222.0h.9v1.2h-.9zM260.6 218.0h.9v1.2h-.9zM260.7 221.5h.9v1.6h-.9zM261.2 215.0h.9v1.6h-.9zM262.0 215.3h.9v1.2h-.9zM262.6 215.6h.9v1.6h-.9zM262.8 221.4h.9v1.6h-.9zM263.7 217.8h.9v1.2h-.9zM264.2 220.9h.9v1.6h-.9zM265.6 219.9h.9v1.6h-.9zM265.9 215.5h.9v1.2h-.9zM266.6 217.5h.9v1.2h-.9zM268.2 217.3h.9v1.2h-.9zM268.7 218.1h.9v1.6h-.9zM269.8 220.3h.9v0.9h-.9zM270.5 215.5h.9v0.9h-.9zM271.8 221.5h.9v0.9h-.9zM272.7 218.3h.9v0.9h-.9zM274.0 217.5h.9v1.2h-.9zM275.7 219.9h.9v1.6h-.9zM276.7 216.9h.9v1.2h-.9zM278.5 220.0h.9v0.9h-.9zM280.2 217.9h.9v0.9h-.9zM281.1 218.3h.9v1.2h-.9zM281.7 216.3h.9v1.2h-.9zM284.4 216.4h.9v1.2h-.9zM284.8 221.0h.9v0.9h-.9zM286.5 219.0h.9v1.2h-.9zM288.2 217.9h.9v1.6h-.9zM289.8 220.4h.9v1.2h-.9zM290.9 221.4h.9v1.2h-.9zM292.7 216.0h.9v1.6h-.9zM294.5 222.0h.9v0.9h-.9zM295.9 215.0h.9v1.2h-.9zM297.3 219.3h.9v0.9h-.9zM299.2 216.8h.9v1.2h-.9zM300.9 216.7h.9v0.9h-.9zM302.4 218.4h.9v0.9h-.9zM304.7 219.2h.9v0.9h-.9zM306.3 218.0h.9v1.2h-.9zM307.8 220.0h.9v1.2h-.9zM310.1 221.7h.9v0.9h-.9zM312.0 216.1h.9v0.9h-.9zM313.4 216.6h.9v1.6h-.9zM314.6 219.2h.9v0.9h-.9zM317.4 217.8h.9v1.6h-.9zM317.7 217.2h.9v1.6h-.9zM320.6 218.5h.9v1.2h-.9zM321.7 219.9h.9v1.2h-.9zM323.4 221.4h.9v0.9h-.9zM325.9 221.6h.9v1.6h-.9zM327.3 220.7h.9v1.2h-.9zM329.6 217.4h.9v1.2h-.9z" fill="#BC3C29" fill-opacity="0.9"/>
<path d="M233.1 216.6h.8v5.3h-.8zM233.9 219.3h.8v1.7h-.8zM235.1 215.9h.8v4.8h-.8zM236.2 218.3h.8v2.2h-.8zM237.1 215.9h.8v5.4h-.8zM238.7 216.2h.8v3.6h-.8zM239.1 215.7h.8v5.4h-.8zM240.2 215.3h.8v3.0h-.8zM241.3 218.9h.8v1.9h-.8zM242.9 215.6h.8v2.6h-.8zM244.0 216.1h.8v3.1h-.8zM244.7 215.6h.8v2.5h-.8zM245.6 219.0h.8v2.7h-.8zM246.9 216.6h.8v4.7h-.8zM248.2 216.8h.8v4.1h-.8zM248.6 215.8h.8v6.4h-.8zM250.1 217.6h.8v4.4h-.8zM251.2 216.9h.8v4.7h-.8zM251.9 216.1h.8v5.7h-.8zM252.7 215.5h.8v6.5h-.8zM254.3 216.5h.8v4.9h-.8zM254.9 220.8h.8v1.7h-.8zM256.1 217.0h.8v4.2h-.8zM257.3 217.9h.8v1.7h-.8zM258.8 217.3h.8v5.1h-.8zM259.0 215.5h.8v1.9h-.8zM260.0 215.4h.8v4.7h-.8zM261.6 219.2h.8v2.4h-.8zM263.0 216.0h.8v6.5h-.8zM263.1 215.5h.8v2.1h-.8z" fill="#BC3C29" fill-opacity="0.8"/>
<path d="M231.2 217.8h1.2v.8h-1.2zM259.9 217.6h0.9v.8h-0.9zM264.8 216.0h1.2v.8h-1.2zM266.0 219.0h1.2v.8h-1.2zM268.8 221.3h1.2v.8h-1.2zM270.9 217.2h0.7v.8h-0.7zM271.6 219.8h0.7v.8h-0.7zM275.0 220.8h0.9v.8h-0.9zM275.7 217.1h0.9v.8h-0.9zM278.0 220.9h0.7v.8h-0.7zM279.4 219.9h1.2v.8h-1.2zM281.2 219.3h0.9v.8h-0.9zM283.0 216.7h0.9v.8h-0.9zM284.1 217.2h0.7v.8h-0.7zM286.6 216.2h0.9v.8h-0.9zM288.0 220.8h1.2v.8h-1.2zM289.9 220.3h0.9v.8h-0.9zM291.3 216.1h0.7v.8h-0.7zM293.3 218.6h1.2v.8h-1.2zM295.6 216.8h0.9v.8h-0.9zM297.8 220.0h0.7v.8h-0.7zM298.2 218.9h0.9v.8h-0.9zM301.0 221.1h0.7v.8h-0.7zM302.2 219.8h0.7v.8h-0.7zM303.1 216.2h0.7v.8h-0.7zM304.6 217.7h1.2v.8h-1.2zM307.7 218.9h1.2v.8h-1.2zM308.3 220.9h0.7v.8h-0.7zM309.8 217.7h0.9v.8h-0.9zM312.4 216.7h0.7v.8h-0.7zM314.2 217.2h1.2v.8h-1.2zM316.2 217.0h1.2v.8h-1.2zM317.2 216.5h0.7v.8h-0.7zM318.5 217.6h0.9v.8h-0.9zM320.2 217.0h0.9v.8h-0.9zM321.7 218.5h1.2v.8h-1.2zM324.1 220.8h1.2v.8h-1.2zM326.3 221.1h0.7v.8h-0.7zM326.6 216.5h0.7v.8h-0.7z" fill="#d98679" fill-opacity="0.85"/>
<circle cx="301.00" cy="218.92" r="2.35" fill="#BC3C29" stroke="#2a1a18" stroke-width="1.2"/>
<path d="M222.3,241.0 222.7,240.6 223.5,240.6 224.7,240.6 225.9,240.6 227.1,240.5 228.3,240.5 229.5,240.5 230.8,240.5 232.0,240.5 233.2,240.5 234.4,240.5 235.6,240.4 236.0,240.4 236.8,240.4 238.0,240.4 239.2,240.3 240.4,240.3 241.6,240.2 242.8,240.1 244.0,240.0 245.2,239.9 246.5,239.8 247.7,239.7 248.9,239.6 250.1,239.5 251.3,239.3 252.5,239.2 253.7,239.1 254.9,239.0 256.1,238.9 257.3,238.8 258.5,238.7 259.7,238.6 260.0,238.6 261.0,238.5 262.2,238.4 263.4,238.4 264.6,238.3 265.8,238.3 267.0,238.2 268.2,238.1 269.4,238.1 270.6,238.0 271.8,238.0 273.0,237.9 274.2,237.9 275.4,237.8 276.7,237.8 277.9,237.7 279.1,237.6 280.3,237.5 281.5,237.4 282.7,237.3 283.9,237.2 285.0,237.1 285.1,237.1 286.3,236.9 287.5,236.6 288.7,236.4 289.9,236.1 291.1,235.8 292.4,235.4 293.6,235.1 294.8,234.7 295.0,234.6 296.0,234.3 297.2,233.9 298.4,233.5 299.6,233.1 300.8,232.8 302.0,232.6 303.0,232.6 303.2,232.6 304.4,232.6 305.6,232.7 306.9,232.8 308.1,233.1 309.3,233.3 310.5,233.6 311.0,233.7 311.7,233.8 312.9,234.1 314.1,234.3 315.3,234.5 316.5,234.7 317.7,234.7 318.0,234.7 318.9,234.7 320.1,234.7 321.3,234.6 322.6,234.6 323.8,234.7 324.0,234.7 325.0,234.9 326.2,235.3 326.3,235.3 327.4,235.5 328.2,235.7 328.6,236.1 329.2,237.7 329.8,241.0 L329.8,241.0 329.2,244.2 328.6,245.8 328.2,246.2 327.4,246.4 326.3,246.6 326.2,246.6 325.0,247.0 324.0,247.2 323.8,247.2 322.6,247.3 321.3,247.3 320.1,247.2 318.9,247.2 318.0,247.2 317.7,247.2 316.5,247.3 315.3,247.4 314.1,247.6 312.9,247.9 311.7,248.1 311.0,248.3 310.5,248.4 309.3,248.6 308.1,248.9 306.9,249.1 305.6,249.3 304.4,249.4 303.2,249.4 303.0,249.4 302.0,249.3 300.8,249.1 299.6,248.8 298.4,248.4 297.2,248.0 296.0,247.6 295.0,247.3 294.8,247.2 293.6,246.9 292.4,246.5 291.1,246.2 289.9,245.8 288.7,245.5 287.5,245.3 286.3,245.0 285.1,244.9 285.0,244.8 283.9,244.7 282.7,244.6 281.5,244.5 280.3,244.4 279.1,244.3 277.9,244.2 276.7,244.2 275.4,244.1 274.2,244.0 273.0,244.0 271.8,243.9 270.6,243.9 269.4,243.8 268.2,243.8 267.0,243.7 265.8,243.7 264.6,243.6 263.4,243.5 262.2,243.5 261.0,243.4 260.0,243.3 259.7,243.3 258.5,243.2 257.3,243.1 256.1,243.0 254.9,242.9 253.7,242.8 252.5,242.7 251.3,242.6 250.1,242.5 248.9,242.3 247.7,242.2 246.5,242.1 245.2,242.0 244.0,241.9 242.8,241.8 241.6,241.7 240.4,241.7 239.2,241.6 238.0,241.5 236.8,241.5 236.0,241.5 235.6,241.5 234.4,241.5 233.2,241.4 232.0,241.4 230.8,241.4 229.5,241.4 228.3,241.4 227.1,241.4 225.9,241.4 224.7,241.4 223.5,241.4 222.7,241.4 222.3,241.0 Z" fill="#d98679" stroke="#BC3C29" stroke-width="1.4" stroke-linejoin="round"/>
<path d="M222.3,237.3 222.7,237.3 223.5,237.3 224.7,237.3 225.9,237.3 227.1,237.3 228.3,237.3 229.5,237.3 230.8,237.3 232.0,237.3 233.2,237.3 234.4,237.3 235.6,237.3 236.0,237.3 236.8,237.3 238.0,237.3 239.2,237.3 240.4,237.3 241.6,237.3 242.8,237.3 244.0,237.3 245.2,237.3 246.5,237.3 247.7,237.3 248.9,237.3 250.1,237.3 251.3,237.3 252.5,237.3 253.7,237.3 254.9,237.3 256.1,237.3 257.3,237.3 258.5,237.3 259.7,237.3 260.0,237.3 261.0,237.3 262.2,237.3 263.4,237.3 264.6,237.3 265.8,237.3 267.0,237.3 268.2,237.3 269.4,237.3 270.6,237.3 271.8,237.3 273.0,237.3 274.2,237.3 275.4,237.3 276.7,237.3 277.9,237.3 279.1,237.3 280.3,237.3 281.5,237.3 282.7,237.3 283.9,237.3 285.0,237.3 285.1,237.3 286.3,237.3 287.5,237.3 288.7,237.3 289.9,237.3 291.1,237.3 292.4,237.3 293.6,237.3 294.8,237.3 295.0,237.3 296.0,237.3 297.2,237.3 298.4,237.3 299.6,237.3 300.8,237.3 302.0,237.3 303.0,237.3 303.2,237.3 304.4,237.3 305.6,237.3 306.9,237.3 308.1,237.3 309.3,237.3 310.5,237.3 311.0,237.3 311.7,237.3 312.9,237.3 314.1,237.3 315.3,237.3 316.5,237.3 317.7,237.3 318.0,237.3 318.9,237.3 320.1,237.3 321.3,237.3 322.6,237.3 323.8,237.3 324.0,237.3 325.0,237.3 326.2,237.3 326.3,237.3 327.4,237.3 328.2,237.3 328.6,237.3 329.2,237.7 L329.2,244.2 328.6,244.7 328.2,244.7 327.4,244.7 326.3,244.7 326.2,244.7 325.0,244.7 324.0,244.7 323.8,244.7 322.6,244.7 321.3,244.7 320.1,244.7 318.9,244.7 318.0,244.7 317.7,244.7 316.5,244.7 315.3,244.7 314.1,244.7 312.9,244.7 311.7,244.7 311.0,244.7 310.5,244.7 309.3,244.7 308.1,244.7 306.9,244.7 305.6,244.7 304.4,244.7 303.2,244.7 303.0,244.7 302.0,244.7 300.8,244.7 299.6,244.7 298.4,244.7 297.2,244.7 296.0,244.7 295.0,244.7 294.8,244.7 293.6,244.7 292.4,244.7 291.1,244.7 289.9,244.7 288.7,244.7 287.5,244.7 286.3,244.7 285.1,244.7 285.0,244.7 283.9,244.7 282.7,244.7 281.5,244.7 280.3,244.7 279.1,244.7 277.9,244.7 276.7,244.7 275.4,244.7 274.2,244.7 273.0,244.7 271.8,244.7 270.6,244.7 269.4,244.7 268.2,244.7 267.0,244.7 265.8,244.7 264.6,244.7 263.4,244.7 262.2,244.7 261.0,244.7 260.0,244.7 259.7,244.7 258.5,244.7 257.3,244.7 256.1,244.7 254.9,244.7 253.7,244.7 252.5,244.7 251.3,244.7 250.1,244.7 248.9,244.7 247.7,244.7 246.5,244.7 245.2,244.7 244.0,244.7 242.8,244.7 241.6,244.7 240.4,244.7 239.2,244.7 238.0,244.7 236.8,244.7 236.0,244.7 235.6,244.7 234.4,244.7 233.2,244.7 232.0,244.7 230.8,244.7 229.5,244.7 228.3,244.7 227.1,244.7 225.9,244.7 224.7,244.7 223.5,244.7 222.7,244.7 222.3,244.7 Z" fill="url(#g11)"/>
<path d="M224.9 239.9h.9v0.9h-.9zM227.8 240.5h.9v0.9h-.9zM233.3 238.7h.9v1.2h-.9zM234.0 238.8h.9v1.2h-.9zM235.6 237.3h.9v0.9h-.9zM237.9 243.4h.9v0.9h-.9zM238.5 237.2h.9v0.9h-.9zM239.4 237.9h.9v1.6h-.9zM240.7 242.1h.9v1.6h-.9zM242.3 240.2h.9v0.9h-.9zM242.8 240.6h.9v1.2h-.9zM244.1 239.1h.9v1.2h-.9zM245.3 238.1h.9v1.6h-.9zM246.0 242.6h.9v1.2h-.9zM247.0 237.8h.9v1.2h-.9zM248.1 239.1h.9v1.6h-.9zM248.3 242.3h.9v1.6h-.9zM249.5 239.1h.9v0.9h-.9zM250.0 243.7h.9v0.9h-.9zM250.4 238.2h.9v1.6h-.9zM251.0 240.7h.9v1.2h-.9zM251.8 240.8h.9v0.9h-.9zM252.3 240.5h.9v1.2h-.9zM253.2 242.5h.9v0.9h-.9zM253.7 237.3h.9v1.6h-.9zM253.9 240.8h.9v1.2h-.9zM254.9 242.6h.9v0.9h-.9zM255.3 237.3h.9v1.6h-.9zM255.7 240.8h.9v1.2h-.9zM256.1 240.1h.9v1.6h-.9zM256.8 239.8h.9v1.2h-.9zM257.5 240.8h.9v0.9h-.9zM257.8 241.4h.9v1.2h-.9zM258.3 242.0h.9v0.9h-.9zM258.8 243.3h.9v0.9h-.9zM259.2 241.6h.9v1.6h-.9zM259.8 244.1h.9v1.2h-.9zM260.0 241.7h.9v0.9h-.9zM260.5 238.9h.9v1.6h-.9zM260.9 238.0h.9v1.2h-.9zM261.8 237.5h.9v1.6h-.9zM261.9 238.9h.9v1.2h-.9zM262.6 237.8h.9v0.9h-.9zM263.4 241.8h.9v1.2h-.9zM264.0 241.9h.9v1.2h-.9zM265.1 241.3h.9v0.9h-.9zM265.3 239.7h.9v0.9h-.9zM266.1 240.3h.9v1.2h-.9zM267.0 238.8h.9v1.2h-.9zM268.3 243.5h.9v1.2h-.9zM269.0 237.1h.9v1.2h-.9zM270.2 239.2h.9v0.9h-.9zM271.5 241.0h.9v1.6h-.9zM272.2 238.2h.9v1.6h-.9zM273.7 243.0h.9v0.9h-.9zM274.2 240.4h.9v1.6h-.9zM276.1 239.6h.9v1.6h-.9zM277.9 237.4h.9v1.6h-.9zM279.3 239.0h.9v0.9h-.9zM280.1 241.1h.9v0.9h-.9zM282.1 239.0h.9v0.9h-.9zM282.4 237.3h.9v0.9h-.9zM283.9 241.1h.9v0.9h-.9zM285.5 239.1h.9v1.6h-.9zM287.1 243.0h.9v0.9h-.9zM289.0 241.9h.9v1.2h-.9zM289.9 242.1h.9v1.6h-.9zM290.8 243.3h.9v1.6h-.9zM293.4 242.7h.9v1.6h-.9zM294.2 239.3h.9v0.9h-.9zM296.9 241.0h.9v1.6h-.9zM297.5 238.8h.9v1.2h-.9zM299.3 238.4h.9v1.2h-.9zM300.7 238.4h.9v1.6h-.9zM302.7 237.7h.9v0.9h-.9zM304.9 238.7h.9v1.2h-.9zM306.1 238.6h.9v1.2h-.9zM307.4 241.7h.9v0.9h-.9zM310.1 238.7h.9v1.6h-.9zM312.0 237.3h.9v0.9h-.9zM312.7 240.0h.9v0.9h-.9zM314.9 238.4h.9v1.2h-.9zM316.0 241.9h.9v1.6h-.9zM317.6 238.5h.9v1.2h-.9zM320.0 240.9h.9v0.9h-.9zM321.5 238.2h.9v1.2h-.9zM324.2 240.4h.9v1.6h-.9zM324.5 243.1h.9v1.2h-.9zM327.3 239.1h.9v1.2h-.9zM329.1 240.7h.9v1.6h-.9z" fill="#BC3C29" fill-opacity="0.9"/>
<path d="M233.7 239.6h.8v4.6h-.8zM233.9 237.7h.8v4.5h-.8zM235.4 239.2h.8v3.3h-.8zM236.2 238.1h.8v2.9h-.8zM237.4 237.8h.8v3.6h-.8zM238.1 238.0h.8v5.8h-.8zM239.4 239.5h.8v2.5h-.8zM240.5 237.3h.8v7.4h-.8zM241.1 241.1h.8v2.9h-.8zM242.7 240.3h.8v3.1h-.8zM244.1 239.0h.8v2.2h-.8zM244.3 239.0h.8v3.8h-.8zM246.3 239.8h.8v3.7h-.8zM246.9 238.8h.8v5.5h-.8zM247.6 237.7h.8v6.8h-.8zM249.4 239.5h.8v3.0h-.8zM250.0 237.4h.8v6.3h-.8zM251.0 240.8h.8v3.3h-.8zM251.9 238.2h.8v3.9h-.8zM253.5 239.3h.8v2.3h-.8zM253.8 237.8h.8v6.8h-.8zM254.9 238.0h.8v3.7h-.8zM256.0 238.9h.8v5.6h-.8zM256.8 238.6h.8v1.7h-.8zM258.7 237.4h.8v5.6h-.8zM259.4 239.6h.8v2.8h-.8zM260.5 239.8h.8v4.2h-.8zM261.9 238.0h.8v5.5h-.8zM262.5 241.4h.8v2.5h-.8zM263.3 238.4h.8v4.6h-.8z" fill="#BC3C29" fill-opacity="0.8"/>
<path d="M258.8 239.1h1.2v.8h-1.2zM260.5 242.6h0.7v.8h-0.7zM264.2 242.4h0.9v.8h-0.9zM265.9 239.5h0.9v.8h-0.9zM269.2 238.4h0.9v.8h-0.9zM270.6 238.4h0.7v.8h-0.7zM272.8 240.0h0.9v.8h-0.9zM273.9 242.4h0.9v.8h-0.9zM276.6 238.1h0.7v.8h-0.7zM278.8 240.1h0.9v.8h-0.9zM279.0 239.7h0.7v.8h-0.7zM281.2 242.8h0.7v.8h-0.7zM283.9 238.5h0.9v.8h-0.9zM285.6 241.4h0.7v.8h-0.7zM287.4 239.5h0.9v.8h-0.9zM288.0 241.4h1.2v.8h-1.2zM290.3 242.4h0.7v.8h-0.7zM291.2 242.4h1.2v.8h-1.2zM293.5 242.5h0.7v.8h-0.7zM295.4 239.3h1.2v.8h-1.2zM296.6 239.2h0.9v.8h-0.9zM298.6 238.3h1.2v.8h-1.2zM300.2 239.1h0.9v.8h-0.9zM301.4 238.3h1.2v.8h-1.2zM303.0 242.2h0.7v.8h-0.7zM305.9 237.9h0.7v.8h-0.7zM306.3 238.7h1.2v.8h-1.2zM309.6 242.2h0.9v.8h-0.9zM311.1 242.1h1.2v.8h-1.2zM313.0 243.3h0.7v.8h-0.7zM314.3 239.8h0.7v.8h-0.7zM314.7 237.9h0.9v.8h-0.9zM316.5 242.3h0.9v.8h-0.9zM318.6 239.3h0.9v.8h-0.9zM320.0 242.1h0.7v.8h-0.7zM321.5 237.7h1.2v.8h-1.2zM324.6 237.8h0.9v.8h-0.9zM326.3 241.1h0.9v.8h-0.9zM327.7 241.6h0.7v.8h-0.7z" fill="#d98679" fill-opacity="0.85"/>
<circle cx="301.20" cy="240.96" r="2.35" fill="#BC3C29" stroke="#2a1a18" stroke-width="1.2"/>
<path d="M189.5,263.0 190.0,260.2 191.0,260.3 192.5,260.4 193.9,260.2 195.4,260.1 196.9,260.0 198.4,260.0 199.8,260.0 201.3,260.0 202.8,259.9 204.3,259.9 205.0,259.9 205.8,259.8 207.2,259.7 208.7,259.6 210.2,259.5 211.7,259.3 213.0,259.1 213.1,259.1 214.6,258.8 216.1,258.5 217.6,258.2 219.1,257.8 220.5,257.4 222.0,257.0 223.5,256.6 225.0,256.2 225.0,256.2 226.4,255.9 227.9,255.5 229.4,255.2 230.9,254.9 232.3,254.6 233.8,254.3 235.0,254.2 235.3,254.1 236.8,253.9 238.3,253.8 239.7,253.7 241.0,253.7 241.2,253.7 242.7,253.8 244.2,253.9 245.6,254.0 247.1,254.3 248.6,254.5 250.0,254.8 250.1,254.8 251.6,255.1 253.0,255.5 254.5,255.9 256.0,256.4 257.5,256.9 258.0,257.1 258.9,257.4 260.4,258.0 261.9,258.6 263.4,259.0 264.0,259.2 264.9,259.4 266.3,259.7 267.8,259.9 269.3,260.1 270.8,260.3 272.2,260.4 273.7,260.6 275.0,260.7 275.2,260.7 276.7,260.8 278.2,261.0 279.6,261.1 281.1,261.2 282.6,261.3 284.1,261.4 285.5,261.5 287.0,261.6 288.5,261.7 290.0,261.8 290.0,261.8 291.4,261.9 292.9,261.9 294.4,262.0 295.9,262.1 297.4,262.1 298.8,262.2 300.3,262.2 301.8,262.3 303.3,262.3 304.7,262.4 305.0,262.4 306.2,262.4 307.7,262.4 309.2,262.5 310.7,262.5 312.1,262.5 313.6,262.5 315.1,262.6 316.6,262.6 318.0,262.7 319.5,262.7 320.0,262.7 321.0,263.0 L321.0,263.0 320.0,263.3 319.5,263.3 318.0,263.3 316.6,263.4 315.1,263.4 313.6,263.5 312.1,263.5 310.7,263.5 309.2,263.5 307.7,263.6 306.2,263.6 305.0,263.6 304.7,263.6 303.3,263.7 301.8,263.7 300.3,263.8 298.8,263.8 297.4,263.9 295.9,263.9 294.4,264.0 292.9,264.1 291.4,264.1 290.0,264.2 290.0,264.2 288.5,264.3 287.0,264.4 285.5,264.5 284.1,264.6 282.6,264.7 281.1,264.8 279.6,264.9 278.2,265.0 276.7,265.2 275.2,265.3 275.0,265.3 273.7,265.4 272.2,265.6 270.8,265.7 269.3,265.9 267.8,266.1 266.3,266.3 264.9,266.6 264.0,266.8 263.4,267.0 261.9,267.4 260.4,268.0 258.9,268.6 258.0,268.9 257.5,269.1 256.0,269.6 254.5,270.1 253.0,270.5 251.6,270.9 250.1,271.2 250.0,271.2 248.6,271.5 247.1,271.7 245.6,272.0 244.2,272.1 242.7,272.2 241.2,272.3 241.0,272.3 239.7,272.3 238.3,272.2 236.8,272.1 235.3,271.9 235.0,271.8 233.8,271.7 232.3,271.4 230.9,271.1 229.4,270.8 227.9,270.5 226.4,270.1 225.0,269.8 225.0,269.8 223.5,269.4 222.0,269.0 220.5,268.6 219.1,268.2 217.6,267.8 216.1,267.5 214.6,267.2 213.1,266.9 213.0,266.9 211.7,266.7 210.2,266.5 208.7,266.4 207.2,266.3 205.8,266.2 205.0,266.1 204.3,266.1 202.8,266.1 201.3,266.0 199.8,266.0 198.4,266.0 196.9,266.0 195.4,265.9 193.9,265.8 192.5,265.6 191.0,265.7 190.0,265.8 189.5,263.0 Z" fill="#a9c3cf" stroke="#6F99AD" stroke-width="1.4" stroke-linejoin="round"/>
<path d="M189.5,259.2 190.0,259.2 191.0,259.2 192.5,259.2 193.9,259.2 195.4,259.2 196.9,259.2 198.4,259.2 199.8,259.2 201.3,259.2 202.8,259.2 204.3,259.2 205.0,259.2 205.8,259.2 207.2,259.2 208.7,259.2 210.2,259.2 211.7,259.2 213.0,259.2 213.1,259.2 214.6,259.2 216.1,259.2 217.6,259.2 219.1,259.2 220.5,259.2 222.0,259.2 223.5,259.2 225.0,259.2 225.0,259.2 226.4,259.2 227.9,259.2 229.4,259.2 230.9,259.2 232.3,259.2 233.8,259.2 235.0,259.2 235.3,259.2 236.8,259.2 238.3,259.2 239.7,259.2 241.0,259.2 241.2,259.2 242.7,259.2 244.2,259.2 245.6,259.2 247.1,259.2 248.6,259.2 250.0,259.2 250.1,259.2 251.6,259.2 253.0,259.2 254.5,259.2 256.0,259.2 257.5,259.2 258.0,259.2 258.9,259.2 260.4,259.2 261.9,259.2 263.4,259.2 264.0,259.2 264.9,259.2 266.3,259.2 267.8,259.2 269.3,259.2 270.8,259.2 272.2,259.2 273.7,259.2 275.0,259.2 275.2,259.2 276.7,259.2 278.2,259.2 279.6,259.2 281.1,259.2 282.6,259.2 284.1,259.2 285.5,259.2 287.0,259.2 288.5,259.2 290.0,259.2 290.0,259.2 291.4,259.2 292.9,259.2 294.4,259.2 295.9,259.2 297.4,259.2 298.8,259.2 300.3,259.2 301.8,259.2 303.3,259.2 304.7,259.2 305.0,259.2 306.2,259.2 307.7,259.2 309.2,259.2 310.7,259.2 312.1,259.2 313.6,259.2 315.1,259.2 316.6,259.2 318.0,259.2 319.5,259.2 320.0,262.7 321.0,263.0 L321.0,263.0 320.0,263.3 319.5,266.8 318.0,266.8 316.6,266.8 315.1,266.8 313.6,266.8 312.1,266.8 310.7,266.8 309.2,266.8 307.7,266.8 306.2,266.8 305.0,266.8 304.7,266.8 303.3,266.8 301.8,266.8 300.3,266.8 298.8,266.8 297.4,266.8 295.9,266.8 294.4,266.8 292.9,266.8 291.4,266.8 290.0,266.8 290.0,266.8 288.5,266.8 287.0,266.8 285.5,266.8 284.1,266.8 282.6,266.8 281.1,266.8 279.6,266.8 278.2,266.8 276.7,266.8 275.2,266.8 275.0,266.8 273.7,266.8 272.2,266.8 270.8,266.8 269.3,266.8 267.8,266.8 266.3,266.8 264.9,266.8 264.0,266.8 263.4,266.8 261.9,266.8 260.4,266.8 258.9,266.8 258.0,266.8 257.5,266.8 256.0,266.8 254.5,266.8 253.0,266.8 251.6,266.8 250.1,266.8 250.0,266.8 248.6,266.8 247.1,266.8 245.6,266.8 244.2,266.8 242.7,266.8 241.2,266.8 241.0,266.8 239.7,266.8 238.3,266.8 236.8,266.8 235.3,266.8 235.0,266.8 233.8,266.8 232.3,266.8 230.9,266.8 229.4,266.8 227.9,266.8 226.4,266.8 225.0,266.8 225.0,266.8 223.5,266.8 222.0,266.8 220.5,266.8 219.1,266.8 217.6,266.8 216.1,266.8 214.6,266.8 213.1,266.8 213.0,266.8 211.7,266.8 210.2,266.8 208.7,266.8 207.2,266.8 205.8,266.8 205.0,266.8 204.3,266.8 202.8,266.8 201.3,266.8 199.8,266.8 198.4,266.8 196.9,266.8 195.4,266.8 193.9,266.8 192.5,266.8 191.0,266.8 190.0,266.8 189.5,266.8 Z" fill="url(#g12)"/>
<path d="M189.0 259.4h.9v1.6h-.9zM192.5 262.9h.9v1.6h-.9zM196.6 263.6h.9v0.9h-.9zM202.4 259.5h.9v1.6h-.9zM204.0 266.0h.9v1.2h-.9zM210.8 260.1h.9v1.2h-.9zM214.3 260.8h.9v1.2h-.9zM216.0 264.3h.9v1.6h-.9zM221.4 261.4h.9v0.9h-.9zM226.2 265.3h.9v1.6h-.9zM226.8 260.6h.9v1.6h-.9zM232.3 261.2h.9v1.6h-.9zM235.7 264.0h.9v1.6h-.9zM238.9 265.2h.9v0.9h-.9zM242.6 265.4h.9v0.9h-.9zM245.6 261.0h.9v1.6h-.9zM251.5 262.8h.9v1.2h-.9zM253.6 261.9h.9v1.6h-.9zM258.2 263.8h.9v0.9h-.9zM263.9 260.6h.9v0.9h-.9zM265.5 265.0h.9v1.2h-.9zM269.2 264.1h.9v1.2h-.9zM275.3 260.2h.9v0.9h-.9zM277.7 261.2h.9v0.9h-.9zM281.5 261.4h.9v1.2h-.9zM283.9 265.7h.9v1.2h-.9zM287.1 262.2h.9v1.2h-.9zM287.7 263.4h.9v1.6h-.9zM288.4 265.7h.9v0.9h-.9zM288.9 261.8h.9v1.6h-.9zM289.2 265.8h.9v0.9h-.9zM290.1 261.0h.9v1.6h-.9zM290.4 259.0h.9v1.6h-.9zM291.0 259.6h.9v0.9h-.9zM291.1 264.0h.9v1.2h-.9zM291.5 261.7h.9v0.9h-.9zM291.9 265.0h.9v1.6h-.9zM292.4 262.8h.9v1.6h-.9zM292.8 263.9h.9v0.9h-.9zM293.1 261.5h.9v0.9h-.9zM293.6 263.2h.9v1.2h-.9zM294.0 264.0h.9v0.9h-.9zM294.6 261.7h.9v1.6h-.9zM294.8 262.5h.9v0.9h-.9zM295.4 265.1h.9v1.6h-.9zM295.5 265.7h.9v1.6h-.9zM296.0 261.5h.9v1.2h-.9zM296.7 259.4h.9v1.2h-.9zM296.7 265.0h.9v0.9h-.9zM297.2 262.2h.9v1.6h-.9zM297.8 266.0h.9v1.2h-.9zM298.1 264.5h.9v1.6h-.9zM298.5 261.6h.9v0.9h-.9zM299.2 265.1h.9v1.6h-.9zM299.6 262.9h.9v0.9h-.9zM299.9 264.1h.9v1.6h-.9zM300.6 265.4h.9v0.9h-.9zM301.0 263.1h.9v1.6h-.9zM301.7 265.8h.9v1.2h-.9zM301.8 261.8h.9v0.9h-.9zM302.3 261.7h.9v1.2h-.9zM303.0 263.6h.9v1.2h-.9zM303.2 261.9h.9v1.2h-.9zM304.2 264.1h.9v1.2h-.9zM304.8 262.8h.9v0.9h-.9zM304.9 264.3h.9v1.2h-.9zM305.7 264.9h.9v1.2h-.9zM306.0 263.0h.9v1.6h-.9zM306.9 265.6h.9v1.6h-.9zM307.0 264.6h.9v1.6h-.9zM307.5 265.2h.9v1.2h-.9zM308.1 259.0h.9v0.9h-.9zM308.9 259.0h.9v1.6h-.9zM309.2 263.5h.9v0.9h-.9zM310.4 261.3h.9v1.6h-.9zM310.8 265.3h.9v1.6h-.9zM311.3 261.8h.9v1.6h-.9zM312.0 264.3h.9v1.6h-.9zM312.5 260.7h.9v1.2h-.9zM313.5 263.5h.9v0.9h-.9zM314.1 265.5h.9v1.2h-.9zM314.6 265.2h.9v0.9h-.9zM315.2 261.6h.9v1.2h-.9zM315.9 262.4h.9v0.9h-.9zM316.8 262.8h.9v1.2h-.9zM317.6 261.4h.9v0.9h-.9zM318.2 262.4h.9v1.6h-.9zM319.9 265.9h.9v0.9h-.9zM320.2 265.3h.9v1.6h-.9zM321.5 261.2h.9v0.9h-.9z" fill="#6F99AD" fill-opacity="0.9"/>
<circle cx="240.70" cy="263.00" r="2.35" fill="#6F99AD" stroke="#1e2a30" stroke-width="1.2"/>
<text x="347.80" y="13.80" font-size="20" text-anchor="start" font-weight="bold" >b</text>
<text x="555.30" y="24.68" font-size="10.55" text-anchor="end" font-weight="bold" >ANCA−associated vasculitis</text>
<line x1="557.80" y1="20.48" x2="564.10" y2="20.48" stroke="#000" stroke-width="1.7" />
<text x="555.30" y="46.66" font-size="10.55" text-anchor="end" font-weight="bold" >Antiphospholipid syndrome</text>
<line x1="557.80" y1="42.46" x2="564.10" y2="42.46" stroke="#000" stroke-width="1.7" />
<text x="555.30" y="68.64" font-size="10.55" text-anchor="end" font-weight="bold" >Dermatomyositis</text>
<line x1="557.80" y1="64.44" x2="564.10" y2="64.44" stroke="#000" stroke-width="1.7" />
<text x="555.30" y="90.62" font-size="10.55" text-anchor="end" font-weight="bold" >Diffuse cutaneous systemic sclerosis</text>
<line x1="557.80" y1="86.42" x2="564.10" y2="86.42" stroke="#000" stroke-width="1.7" />
<text x="555.30" y="112.60" font-size="10.55" text-anchor="end" font-weight="bold" >Drug−induced lupus</text>
<line x1="557.80" y1="108.40" x2="564.10" y2="108.40" stroke="#000" stroke-width="1.7" />
<text x="555.30" y="134.58" font-size="10.55" text-anchor="end" font-weight="bold" >Limited cutaneous systemic sclerosis</text>
<line x1="557.80" y1="130.38" x2="564.10" y2="130.38" stroke="#000" stroke-width="1.7" />
<text x="555.30" y="156.56" font-size="10.55" text-anchor="end" font-weight="bold" >Mixed connective tissue disease</text>
<line x1="557.80" y1="152.36" x2="564.10" y2="152.36" stroke="#000" stroke-width="1.7" />
<text x="555.30" y="178.54" font-size="10.55" text-anchor="end" font-weight="bold" >Polymyositis</text>
<line x1="557.80" y1="174.34" x2="564.10" y2="174.34" stroke="#000" stroke-width="1.7" />
<text x="555.30" y="200.52" font-size="10.55" text-anchor="end" font-weight="bold" >Rheumatoid arthritis</text>
<line x1="557.80" y1="196.32" x2="564.10" y2="196.32" stroke="#000" stroke-width="1.7" />
<text x="555.30" y="222.50" font-size="10.55" text-anchor="end" font-weight="bold" >Sjogren syndrome</text>
<line x1="557.80" y1="218.30" x2="564.10" y2="218.30" stroke="#000" stroke-width="1.7" />
<text x="555.30" y="244.48" font-size="10.55" text-anchor="end" font-weight="bold" >Systemic lupus erythematosus</text>
<line x1="557.80" y1="240.28" x2="564.10" y2="240.28" stroke="#000" stroke-width="1.7" />
<text x="555.30" y="266.46" font-size="10.55" text-anchor="end" font-weight="bold" >Control</text>
<line x1="557.80" y1="262.26" x2="564.10" y2="262.26" stroke="#000" stroke-width="1.7" />
<line x1="566.50" y1="7.40" x2="566.50" y2="276.00" stroke="#ccc" stroke-width="0.6" />
<line x1="564.10" y1="7.40" x2="564.10" y2="276.70" stroke="#000" stroke-width="1.7" />
<line x1="563.40" y1="276.00" x2="685.00" y2="276.00" stroke="#000" stroke-width="1.7" />
<line x1="563.90" y1="276.00" x2="563.90" y2="282.30" stroke="#000" stroke-width="1.7" />
<text x="563.90" y="291.90" font-size="10" text-anchor="middle" font-weight="bold" >0.0</text>
<line x1="586.62" y1="276.00" x2="586.62" y2="282.30" stroke="#000" stroke-width="1.7" />
<text x="586.62" y="291.90" font-size="10" text-anchor="middle" font-weight="bold" >0.2</text>
<line x1="609.34" y1="276.00" x2="609.34" y2="282.30" stroke="#000" stroke-width="1.7" />
<text x="609.34" y="291.90" font-size="10" text-anchor="middle" font-weight="bold" >0.4</text>
<line x1="632.06" y1="276.00" x2="632.06" y2="282.30" stroke="#000" stroke-width="1.7" />
<text x="632.06" y="291.90" font-size="10" text-anchor="middle" font-weight="bold" >0.6</text>
<line x1="654.78" y1="276.00" x2="654.78" y2="282.30" stroke="#000" stroke-width="1.7" />
<text x="654.78" y="291.90" font-size="10" text-anchor="middle" font-weight="bold" >0.8</text>
<line x1="677.50" y1="276.00" x2="677.50" y2="282.30" stroke="#000" stroke-width="1.7" />
<text x="677.50" y="291.90" font-size="10" text-anchor="middle" font-weight="bold" >1.0</text>
<text x="623.60" y="303.50" font-size="10.45" text-anchor="middle" font-weight="bold" >Probability</text>
<text x="0.00" y="0.00" font-size="10.45" text-anchor="middle" font-weight="bold" transform="translate(361.2,141.4) rotate(-90)">SARDs</text>
<path d="M623.0,20.5 623.2,18.5 623.6,18.1 624.3,17.9 624.9,17.9 625.0,17.9 625.5,17.8 626.1,17.7 626.8,17.5 627.4,17.4 628.0,17.3 628.0,17.3 628.6,17.2 629.3,17.1 629.9,17.0 630.5,17.0 631.1,16.9 631.8,16.9 632.4,16.9 633.0,16.9 633.6,16.8 634.3,16.8 634.9,16.8 635.0,16.8 635.5,16.8 636.1,16.8 636.8,16.8 637.4,16.8 638.0,16.9 638.6,16.9 639.3,16.9 639.9,16.9 640.5,16.9 641.1,17.0 641.8,17.0 642.0,17.0 642.4,17.0 643.0,17.0 643.7,17.1 644.3,17.1 644.9,17.1 645.5,17.1 646.2,17.1 646.8,17.2 647.4,17.2 648.0,17.2 648.7,17.2 649.3,17.1 649.9,17.1 650.0,17.1 650.5,17.0 651.2,16.9 651.8,16.8 652.4,16.7 653.0,16.5 653.7,16.4 654.3,16.2 654.9,16.0 655.0,15.9 655.5,15.7 656.2,15.5 656.8,15.3 657.4,15.0 658.0,14.8 658.7,14.6 659.0,14.5 659.3,14.4 659.9,14.2 660.6,14.0 661.2,13.8 661.8,13.7 662.4,13.6 663.1,13.5 663.7,13.4 664.3,13.4 664.5,13.4 664.9,13.4 665.6,13.4 666.2,13.4 666.8,13.4 667.4,13.5 668.1,13.5 668.7,13.6 669.3,13.7 669.9,13.7 670.0,13.7 670.6,13.8 671.2,13.9 671.8,14.1 672.4,14.2 673.1,14.4 673.7,14.6 674.3,14.9 674.9,15.1 675.0,15.1 675.6,15.3 676.2,15.5 676.7,15.6 676.8,15.6 677.4,15.6 677.8,15.7 678.1,16.0 678.4,16.8 678.7,20.5 L678.7,20.5 678.4,24.1 678.1,25.0 677.8,25.3 677.4,25.3 676.8,25.3 676.7,25.3 676.2,25.4 675.6,25.6 675.0,25.8 674.9,25.8 674.3,26.1 673.7,26.4 673.1,26.6 672.4,26.7 671.8,26.9 671.2,27.0 670.6,27.1 670.0,27.2 669.9,27.2 669.3,27.3 668.7,27.4 668.1,27.5 667.4,27.5 666.8,27.6 666.2,27.6 665.6,27.6 664.9,27.6 664.5,27.6 664.3,27.6 663.7,27.5 663.1,27.4 662.4,27.4 661.8,27.2 661.2,27.1 660.6,27.0 659.9,26.8 659.3,26.6 659.0,26.5 658.7,26.4 658.0,26.2 657.4,25.9 656.8,25.7 656.2,25.5 655.5,25.2 655.0,25.0 654.9,25.0 654.3,24.8 653.7,24.6 653.0,24.4 652.4,24.3 651.8,24.1 651.2,24.0 650.5,23.9 650.0,23.9 649.9,23.9 649.3,23.8 648.7,23.8 648.0,23.8 647.4,23.8 646.8,23.8 646.2,23.8 645.5,23.8 644.9,23.9 644.3,23.9 643.7,23.9 643.0,23.9 642.4,24.0 642.0,24.0 641.8,24.0 641.1,24.0 640.5,24.0 639.9,24.0 639.3,24.1 638.6,24.1 638.0,24.1 637.4,24.1 636.8,24.1 636.1,24.1 635.5,24.1 635.0,24.1 634.9,24.1 634.3,24.1 633.6,24.1 633.0,24.1 632.4,24.1 631.8,24.1 631.1,24.0 630.5,24.0 629.9,23.9 629.3,23.9 628.6,23.8 628.0,23.7 628.0,23.7 627.4,23.6 626.8,23.4 626.1,23.3 625.5,23.2 625.0,23.1 624.9,23.1 624.3,23.1 623.6,22.8 623.2,22.5 623.0,20.5 Z" fill="#d98679" stroke="#BC3C29" stroke-width="1.4" stroke-linejoin="round"/>
<path d="M623.0,20.5 623.2,18.5 623.6,18.1 624.3,17.9 624.9,17.9 625.0,17.9 625.5,17.8 626.1,17.7 626.8,17.5 627.4,17.4 628.0,17.3 628.0,17.3 628.6,17.2 629.3,17.1 629.9,17.1 630.5,17.1 631.1,17.1 631.8,17.1 632.4,17.1 633.0,17.1 633.6,17.1 634.3,17.1 634.9,17.1 635.0,17.1 635.5,17.1 636.1,17.1 636.8,17.1 637.4,17.1 638.0,17.1 638.6,17.1 639.3,17.1 639.9,17.1 640.5,17.1 641.1,17.1 641.8,17.1 642.0,17.1 642.4,17.1 643.0,17.1 643.7,17.1 644.3,17.1 644.9,17.1 645.5,17.1 646.2,17.1 646.8,17.2 647.4,17.2 648.0,17.2 648.7,17.2 649.3,17.1 649.9,17.1 650.0,17.1 650.5,17.1 651.2,17.1 651.8,17.1 652.4,17.1 653.0,17.1 653.7,17.1 654.3,17.1 654.9,17.1 655.0,17.1 655.5,17.1 656.2,17.1 656.8,17.1 657.4,17.1 658.0,17.1 658.7,17.1 659.0,17.1 659.3,17.1 659.9,17.1 660.6,17.1 661.2,17.1 661.8,17.1 662.4,17.1 663.1,17.1 663.7,17.1 664.3,17.1 664.5,17.1 664.9,17.1 665.6,17.1 666.2,17.1 666.8,17.1 667.4,17.1 668.1,17.1 668.7,17.1 669.3,17.1 669.9,17.1 670.0,17.1 670.6,17.1 671.2,17.1 671.8,17.1 672.4,17.1 673.1,17.1 673.7,17.1 674.3,17.1 674.9,17.1 675.0,17.1 675.6,17.1 676.2,17.1 676.7,17.1 676.8,17.1 677.4,17.1 677.8,17.1 678.1,17.1 678.4,17.1 L678.4,23.9 678.1,23.9 677.8,23.9 677.4,23.9 676.8,23.9 676.7,23.9 676.2,23.9 675.6,23.9 675.0,23.9 674.9,23.9 674.3,23.9 673.7,23.9 673.1,23.9 672.4,23.9 671.8,23.9 671.2,23.9 670.6,23.9 670.0,23.9 669.9,23.9 669.3,23.9 668.7,23.9 668.1,23.9 667.4,23.9 666.8,23.9 666.2,23.9 665.6,23.9 664.9,23.9 664.5,23.9 664.3,23.9 663.7,23.9 663.1,23.9 662.4,23.9 661.8,23.9 661.2,23.9 660.6,23.9 659.9,23.9 659.3,23.9 659.0,23.9 658.7,23.9 658.0,23.9 657.4,23.9 656.8,23.9 656.2,23.9 655.5,23.9 655.0,23.9 654.9,23.9 654.3,23.9 653.7,23.9 653.0,23.9 652.4,23.9 651.8,23.9 651.2,23.9 650.5,23.9 650.0,23.9 649.9,23.9 649.3,23.8 648.7,23.8 648.0,23.8 647.4,23.8 646.8,23.8 646.2,23.8 645.5,23.8 644.9,23.9 644.3,23.9 643.7,23.9 643.0,23.9 642.4,23.9 642.0,23.9 641.8,23.9 641.1,23.9 640.5,23.9 639.9,23.9 639.3,23.9 638.6,23.9 638.0,23.9 637.4,23.9 636.8,23.9 636.1,23.9 635.5,23.9 635.0,23.9 634.9,23.9 634.3,23.9 633.6,23.9 633.0,23.9 632.4,23.9 631.8,23.9 631.1,23.9 630.5,23.9 629.9,23.9 629.3,23.9 628.6,23.8 628.0,23.7 628.0,23.7 627.4,23.6 626.8,23.4 626.1,23.3 625.5,23.2 625.0,23.1 624.9,23.1 624.3,23.1 623.6,22.8 623.2,22.5 623.0,20.5 Z" fill="url(#g13)"/>
<path d="M623.0 19.6h.9v0.9h-.9zM624.9 18.6h.9v1.2h-.9zM626.9 23.2h.9v0.9h-.9zM628.2 22.5h.9v0.9h-.9zM630.1 18.5h.9v1.2h-.9zM632.2 19.6h.9v1.2h-.9zM634.6 20.5h.9v1.2h-.9zM636.3 17.9h.9v1.6h-.9zM637.2 19.6h.9v1.6h-.9zM638.4 18.6h.9v1.2h-.9zM640.3 22.0h.9v1.6h-.9zM642.6 17.4h.9v0.9h-.9zM643.8 23.2h.9v1.2h-.9zM645.6 18.3h.9v1.2h-.9zM647.5 18.9h.9v1.2h-.9zM648.9 17.3h.9v0.9h-.9zM650.8 22.7h.9v1.2h-.9zM651.2 22.2h.9v0.9h-.9zM653.1 17.2h.9v0.9h-.9zM654.2 20.2h.9v0.9h-.9zM656.5 19.3h.9v1.2h-.9zM658.1 20.7h.9v0.9h-.9zM659.1 19.0h.9v1.2h-.9zM660.2 23.0h.9v1.6h-.9zM662.3 18.2h.9v1.6h-.9zM663.3 22.1h.9v0.9h-.9zM664.8 18.5h.9v0.9h-.9zM666.5 21.0h.9v1.2h-.9zM668.8 19.6h.9v0.9h-.9zM669.3 20.2h.9v0.9h-.9zM671.2 20.2h.9v1.6h-.9zM672.2 20.8h.9v0.9h-.9zM673.6 17.2h.9v1.6h-.9zM674.6 17.2h.9v1.6h-.9zM676.0 23.1h.9v1.2h-.9zM678.2 18.4h.9v0.9h-.9z" fill="#BC3C29" fill-opacity="0.9"/>
<path d="M623.3 19.2h0.7v.8h-0.7zM627.1 21.3h1.2v.8h-1.2zM627.9 21.9h0.7v.8h-0.7zM629.6 18.2h0.9v.8h-0.9zM632.7 21.9h0.7v.8h-0.7zM633.1 20.8h0.9v.8h-0.9zM635.9 20.6h1.2v.8h-1.2zM636.7 18.8h1.2v.8h-1.2zM638.7 19.1h0.7v.8h-0.7zM639.9 18.7h0.9v.8h-0.9zM641.5 19.7h1.2v.8h-1.2zM644.0 20.8h1.2v.8h-1.2zM645.4 21.2h0.9v.8h-0.9zM645.8 21.1h1.2v.8h-1.2zM648.2 19.3h0.7v.8h-0.7zM648.8 19.2h1.2v.8h-1.2zM650.4 21.4h0.9v.8h-0.9zM651.5 22.5h0.9v.8h-0.9zM653.7 18.6h0.9v.8h-0.9zM655.1 19.6h0.9v.8h-0.9zM656.5 18.9h0.7v.8h-0.7zM657.8 22.5h0.7v.8h-0.7zM658.6 17.5h0.7v.8h-0.7zM659.6 22.1h0.7v.8h-0.7zM660.6 21.4h1.2v.8h-1.2zM662.3 19.2h0.7v.8h-0.7zM664.1 21.0h0.7v.8h-0.7zM664.7 19.4h1.2v.8h-1.2zM666.0 20.7h0.9v.8h-0.9zM667.5 19.6h0.9v.8h-0.9zM668.5 22.2h0.9v.8h-0.9zM669.5 19.8h1.2v.8h-1.2zM670.4 21.7h0.9v.8h-0.9zM671.1 20.4h0.7v.8h-0.7zM672.7 19.4h1.2v.8h-1.2zM673.4 22.5h0.7v.8h-0.7zM674.7 18.4h1.2v.8h-1.2zM675.2 22.2h1.2v.8h-1.2zM676.9 22.5h0.9v.8h-0.9z" fill="#d98679" fill-opacity="0.85"/>
<circle cx="661.30" cy="20.48" r="2.35" fill="#BC3C29" stroke="#3a2220" stroke-width="1.2"/>
<path d="M611.0,42.5 611.4,42.1 611.8,42.0 612.5,41.9 613.3,41.8 614.0,41.7 614.8,41.7 615.6,41.6 616.3,41.5 617.1,41.5 617.8,41.4 618.6,41.4 619.4,41.3 620.1,41.3 620.9,41.3 621.6,41.3 622.4,41.2 623.2,41.2 623.9,41.2 624.7,41.2 625.0,41.2 625.5,41.2 626.2,41.1 627.0,41.1 627.7,41.1 628.5,41.1 629.3,41.1 630.0,41.1 630.8,41.0 631.5,41.0 632.3,41.0 633.1,41.0 633.8,41.0 634.6,41.0 635.3,41.0 636.1,41.0 636.9,40.9 637.6,40.9 638.4,40.9 639.1,40.9 639.9,40.8 640.0,40.8 640.7,40.8 641.4,40.7 642.2,40.7 642.9,40.6 643.7,40.6 644.5,40.5 645.2,40.4 646.0,40.3 646.8,40.2 647.5,40.0 648.0,39.9 648.3,39.9 649.0,39.7 649.8,39.5 650.6,39.3 651.3,39.1 652.1,38.8 652.8,38.6 653.6,38.3 654.4,38.1 655.1,37.8 655.9,37.5 656.0,37.5 656.6,37.3 657.4,37.0 658.2,36.8 658.9,36.5 659.7,36.3 660.4,36.1 661.2,36.0 662.0,35.8 662.0,35.8 662.7,35.7 663.5,35.6 664.2,35.5 665.0,35.4 665.8,35.3 666.5,35.3 667.0,35.3 667.3,35.3 668.1,35.3 668.8,35.3 669.6,35.3 670.3,35.4 671.1,35.4 671.9,35.5 672.6,35.6 673.0,35.7 673.4,35.8 674.1,36.0 674.9,36.2 675.7,36.4 676.4,36.4 676.7,36.4 677.2,36.3 677.8,36.4 677.9,36.5 678.4,37.8 678.7,42.5 L678.7,42.5 678.4,47.1 677.9,48.4 677.8,48.5 677.2,48.6 676.7,48.5 676.4,48.5 675.7,48.5 674.9,48.7 674.1,49.0 673.4,49.2 673.0,49.2 672.6,49.3 671.9,49.4 671.1,49.5 670.3,49.5 669.6,49.6 668.8,49.6 668.1,49.6 667.3,49.6 667.0,49.6 666.5,49.6 665.8,49.6 665.0,49.5 664.2,49.5 663.5,49.4 662.7,49.3 662.0,49.1 662.0,49.1 661.2,49.0 660.4,48.8 659.7,48.6 658.9,48.4 658.2,48.1 657.4,47.9 656.6,47.7 656.0,47.4 655.9,47.4 655.1,47.1 654.4,46.9 653.6,46.6 652.8,46.3 652.1,46.1 651.3,45.9 650.6,45.6 649.8,45.4 649.0,45.2 648.3,45.0 648.0,45.0 647.5,44.9 646.8,44.8 646.0,44.6 645.2,44.5 644.5,44.4 643.7,44.4 642.9,44.3 642.2,44.2 641.4,44.2 640.7,44.1 640.0,44.1 639.9,44.1 639.1,44.1 638.4,44.0 637.6,44.0 636.9,44.0 636.1,44.0 635.3,44.0 634.6,43.9 633.8,43.9 633.1,43.9 632.3,43.9 631.5,43.9 630.8,43.9 630.0,43.9 629.3,43.8 628.5,43.8 627.7,43.8 627.0,43.8 626.2,43.8 625.5,43.8 625.0,43.8 624.7,43.7 623.9,43.7 623.2,43.7 622.4,43.7 621.6,43.7 620.9,43.6 620.1,43.6 619.4,43.6 618.6,43.5 617.8,43.5 617.1,43.4 616.3,43.4 615.6,43.3 614.8,43.2 614.0,43.2 613.3,43.1 612.5,43.0 611.8,42.9 611.4,42.9 611.0,42.5 Z" fill="#d98679" stroke="#BC3C29" stroke-width="1.4" stroke-linejoin="round"/>
<path d="M611.0,42.5 611.4,42.1 611.8,42.0 612.5,41.9 613.3,41.8 614.0,41.7 614.8,41.7 615.6,41.6 616.3,41.5 617.1,41.5 617.8,41.4 618.6,41.4 619.4,41.3 620.1,41.3 620.9,41.3 621.6,41.3 622.4,41.2 623.2,41.2 623.9,41.2 624.7,41.2 625.0,41.2 625.5,41.2 626.2,41.1 627.0,41.1 627.7,41.1 628.5,41.1 629.3,41.1 630.0,41.1 630.8,41.0 631.5,41.0 632.3,41.0 633.1,41.0 633.8,41.0 634.6,41.0 635.3,41.0 636.1,41.0 636.9,40.9 637.6,40.9 638.4,40.9 639.1,40.9 639.9,40.8 640.0,40.8 640.7,40.8 641.4,40.7 642.2,40.7 642.9,40.6 643.7,40.6 644.5,40.5 645.2,40.4 646.0,40.3 646.8,40.2 647.5,40.0 648.0,39.9 648.3,39.9 649.0,39.7 649.8,39.5 650.6,39.3 651.3,39.1 652.1,39.1 652.8,39.1 653.6,39.1 654.4,39.1 655.1,39.1 655.9,39.1 656.0,39.1 656.6,39.1 657.4,39.1 658.2,39.1 658.9,39.1 659.7,39.1 660.4,39.1 661.2,39.1 662.0,39.1 662.0,39.1 662.7,39.1 663.5,39.1 664.2,39.1 665.0,39.1 665.8,39.1 666.5,39.1 667.0,39.1 667.3,39.1 668.1,39.1 668.8,39.1 669.6,39.1 670.3,39.1 671.1,39.1 671.9,39.1 672.6,39.1 673.0,39.1 673.4,39.1 674.1,39.1 674.9,39.1 675.7,39.1 676.4,39.1 676.7,39.1 677.2,39.1 677.8,39.1 677.9,39.1 678.4,39.1 L678.4,45.9 677.9,45.9 677.8,45.9 677.2,45.9 676.7,45.9 676.4,45.9 675.7,45.9 674.9,45.9 674.1,45.9 673.4,45.9 673.0,45.9 672.6,45.9 671.9,45.9 671.1,45.9 670.3,45.9 669.6,45.9 668.8,45.9 668.1,45.9 667.3,45.9 667.0,45.9 666.5,45.9 665.8,45.9 665.0,45.9 664.2,45.9 663.5,45.9 662.7,45.9 662.0,45.9 662.0,45.9 661.2,45.9 660.4,45.9 659.7,45.9 658.9,45.9 658.2,45.9 657.4,45.9 656.6,45.9 656.0,45.9 655.9,45.9 655.1,45.9 654.4,45.9 653.6,45.9 652.8,45.9 652.1,45.9 651.3,45.9 650.6,45.6 649.8,45.4 649.0,45.2 648.3,45.0 648.0,45.0 647.5,44.9 646.8,44.8 646.0,44.6 645.2,44.5 644.5,44.4 643.7,44.4 642.9,44.3 642.2,44.2 641.4,44.2 640.7,44.1 640.0,44.1 639.9,44.1 639.1,44.1 638.4,44.0 637.6,44.0 636.9,44.0 636.1,44.0 635.3,44.0 634.6,43.9 633.8,43.9 633.1,43.9 632.3,43.9 631.5,43.9 630.8,43.9 630.0,43.9 629.3,43.8 628.5,43.8 627.7,43.8 627.0,43.8 626.2,43.8 625.5,43.8 625.0,43.8 624.7,43.7 623.9,43.7 623.2,43.7 622.4,43.7 621.6,43.7 620.9,43.6 620.1,43.6 619.4,43.6 618.6,43.5 617.8,43.5 617.1,43.4 616.3,43.4 615.6,43.3 614.8,43.2 614.0,43.2 613.3,43.1 612.5,43.0 611.8,42.9 611.4,42.9 611.0,42.5 Z" fill="url(#g14)"/>
<path d="M611.1 41.0h.9v1.2h-.9zM613.8 39.8h.9v1.6h-.9zM614.5 40.2h.9v1.2h-.9zM617.4 44.6h.9v0.9h-.9zM617.8 41.7h.9v0.9h-.9zM620.4 40.8h.9v1.6h-.9zM621.3 40.2h.9v0.9h-.9zM623.6 44.5h.9v1.2h-.9zM624.2 43.3h.9v0.9h-.9zM626.7 43.3h.9v1.6h-.9zM627.2 44.0h.9v1.2h-.9zM629.0 40.3h.9v0.9h-.9zM630.7 43.5h.9v1.6h-.9zM632.1 39.2h.9v0.9h-.9zM633.7 43.1h.9v1.6h-.9zM635.2 40.9h.9v1.2h-.9zM636.0 43.1h.9v1.6h-.9zM637.1 40.2h.9v0.9h-.9zM639.5 41.1h.9v0.9h-.9zM640.8 43.1h.9v0.9h-.9zM642.1 44.9h.9v1.2h-.9zM643.4 41.0h.9v1.6h-.9zM645.4 39.9h.9v0.9h-.9zM646.0 39.6h.9v1.6h-.9zM648.2 43.1h.9v1.2h-.9zM648.6 44.6h.9v0.9h-.9zM650.7 38.9h.9v1.6h-.9zM652.5 41.0h.9v1.2h-.9zM652.8 39.9h.9v1.6h-.9zM655.0 45.0h.9v1.2h-.9zM655.7 39.6h.9v1.2h-.9zM656.7 39.2h.9v0.9h-.9zM658.6 43.8h.9v0.9h-.9zM660.3 45.3h.9v1.2h-.9zM661.1 43.8h.9v1.6h-.9zM663.2 39.5h.9v1.2h-.9zM663.3 41.4h.9v1.6h-.9zM665.0 42.1h.9v1.6h-.9zM666.4 44.6h.9v1.6h-.9zM667.7 43.7h.9v1.6h-.9zM668.9 39.2h.9v0.9h-.9zM669.8 41.7h.9v0.9h-.9zM671.3 43.8h.9v1.2h-.9zM672.6 42.3h.9v1.6h-.9zM674.4 43.1h.9v1.2h-.9zM675.3 45.0h.9v1.6h-.9zM676.9 45.1h.9v1.6h-.9zM677.8 44.2h.9v1.6h-.9z" fill="#BC3C29" fill-opacity="0.9"/>
<path d="M614.3 42.0h0.7v.8h-0.7zM617.9 42.0h0.7v.8h-0.7zM622.2 41.9h1.2v.8h-1.2zM626.9 42.1h1.2v.8h-1.2zM632.1 42.5h0.7v.8h-0.7zM634.7 42.1h1.2v.8h-1.2zM637.0 41.7h0.9v.8h-0.9zM639.4 42.3h1.2v.8h-1.2zM641.5 41.7h1.2v.8h-1.2zM644.8 42.1h0.7v.8h-0.7zM646.2 40.9h1.2v.8h-1.2zM647.3 42.2h0.9v.8h-0.9zM649.8 41.9h0.7v.8h-0.7zM651.6 42.8h0.9v.8h-0.9zM651.7 42.4h0.9v.8h-0.9zM654.0 42.4h0.7v.8h-0.7zM654.2 43.2h0.7v.8h-0.7zM655.6 40.1h0.9v.8h-0.9zM657.5 43.3h0.9v.8h-0.9zM658.6 42.7h1.2v.8h-1.2zM658.8 43.0h1.2v.8h-1.2zM660.5 41.5h1.2v.8h-1.2zM661.5 39.9h0.7v.8h-0.7zM662.3 44.2h0.9v.8h-0.9zM663.8 43.7h1.2v.8h-1.2zM664.6 44.5h0.9v.8h-0.9zM665.2 41.8h0.9v.8h-0.9zM666.5 44.0h0.7v.8h-0.7zM667.7 43.9h1.2v.8h-1.2zM668.5 42.3h0.9v.8h-0.9zM669.4 44.1h1.2v.8h-1.2zM670.5 43.6h0.9v.8h-0.9zM670.9 39.9h0.7v.8h-0.7zM671.8 40.1h0.7v.8h-0.7zM672.7 41.5h0.9v.8h-0.9zM674.1 42.2h0.7v.8h-0.7zM674.8 42.8h1.2v.8h-1.2zM676.0 42.3h0.9v.8h-0.9zM677.0 44.0h0.7v.8h-0.7z" fill="#d98679" fill-opacity="0.85"/>
<circle cx="662.80" cy="42.46" r="2.35" fill="#BC3C29" stroke="#3a2220" stroke-width="1.2"/>
<path d="M606.2,64.4 606.4,62.4 607.0,61.9 607.8,61.8 608.0,61.8 608.6,61.7 609.5,61.6 610.3,61.5 611.0,61.4 611.1,61.4 611.9,61.3 612.7,61.2 613.5,61.1 614.3,61.1 615.2,61.1 616.0,61.1 616.8,61.1 617.6,61.1 618.4,61.1 619.2,61.1 620.0,61.1 620.9,61.1 621.7,61.1 622.5,61.1 623.3,61.1 624.1,61.0 624.9,61.0 625.0,61.0 625.8,61.0 626.6,61.0 627.4,61.0 628.2,61.0 629.0,61.0 629.8,61.0 630.6,60.9 631.5,60.9 632.3,60.9 633.1,60.9 633.9,60.9 634.7,60.8 635.0,60.8 635.5,60.8 636.3,60.7 637.2,60.7 638.0,60.6 638.8,60.6 639.6,60.5 640.4,60.4 641.2,60.3 642.0,60.2 642.9,60.1 643.7,60.0 644.5,59.9 645.0,59.8 645.3,59.7 646.1,59.6 646.9,59.5 647.7,59.3 648.6,59.1 649.4,59.0 650.2,58.8 651.0,58.7 651.8,58.5 652.0,58.5 652.6,58.3 653.4,58.2 654.3,58.0 655.1,57.9 655.9,57.8 656.7,57.7 657.5,57.6 658.3,57.6 658.3,57.6 659.1,57.6 660.0,57.6 660.8,57.7 661.6,57.7 662.4,57.8 663.2,57.9 664.0,58.0 664.9,58.1 665.7,58.2 666.0,58.3 666.5,58.3 667.3,58.5 668.1,58.6 668.9,58.7 669.7,58.9 670.6,59.0 671.4,59.2 672.2,59.3 673.0,59.5 673.0,59.5 673.8,59.7 674.6,59.9 675.4,60.1 676.3,60.2 676.7,60.2 677.1,60.2 677.8,60.2 677.9,60.3 678.4,61.2 678.7,64.4 L678.7,64.4 678.4,67.7 677.9,68.6 677.8,68.7 677.1,68.7 676.7,68.7 676.3,68.7 675.4,68.8 674.6,69.0 673.8,69.2 673.0,69.4 673.0,69.4 672.2,69.6 671.4,69.7 670.6,69.9 669.7,70.0 668.9,70.1 668.1,70.3 667.3,70.4 666.5,70.5 666.0,70.6 665.7,70.7 664.9,70.8 664.0,70.9 663.2,71.0 662.4,71.1 661.6,71.2 660.8,71.2 660.0,71.3 659.1,71.3 658.3,71.3 658.3,71.3 657.5,71.2 656.7,71.2 655.9,71.1 655.1,71.0 654.3,70.8 653.4,70.7 652.6,70.6 652.0,70.4 651.8,70.4 651.0,70.2 650.2,70.1 649.4,69.9 648.6,69.7 647.7,69.6 646.9,69.4 646.1,69.3 645.3,69.1 645.0,69.1 644.5,69.0 643.7,68.9 642.9,68.8 642.0,68.7 641.2,68.6 640.4,68.5 639.6,68.4 638.8,68.3 638.0,68.3 637.2,68.2 636.3,68.1 635.5,68.1 635.0,68.1 634.7,68.1 633.9,68.0 633.1,68.0 632.3,68.0 631.5,68.0 630.6,67.9 629.8,67.9 629.0,67.9 628.2,67.9 627.4,67.9 626.6,67.9 625.8,67.9 625.0,67.8 624.9,67.8 624.1,67.8 623.3,67.8 622.5,67.8 621.7,67.8 620.9,67.8 620.0,67.8 619.2,67.8 618.4,67.8 617.6,67.8 616.8,67.8 616.0,67.8 615.2,67.8 614.3,67.8 613.5,67.7 612.7,67.7 611.9,67.6 611.1,67.5 611.0,67.5 610.3,67.4 609.5,67.3 608.6,67.2 608.0,67.1 607.8,67.1 607.0,67.0 606.4,66.4 606.2,64.4 Z" fill="#d98679" stroke="#BC3C29" stroke-width="1.4" stroke-linejoin="round"/>
<path d="M606.2,64.4 606.4,62.4 607.0,61.9 607.8,61.8 608.0,61.8 608.6,61.7 609.5,61.6 610.3,61.5 611.0,61.4 611.1,61.4 611.9,61.3 612.7,61.2 613.5,61.1 614.3,61.1 615.2,61.1 616.0,61.1 616.8,61.1 617.6,61.1 618.4,61.1 619.2,61.1 620.0,61.1 620.9,61.1 621.7,61.1 622.5,61.1 623.3,61.1 624.1,61.0 624.9,61.0 625.0,61.0 625.8,61.0 626.6,61.0 627.4,61.0 628.2,61.0 629.0,61.0 629.8,61.0 630.6,61.0 631.5,61.0 632.3,61.0 633.1,61.0 633.9,61.0 634.7,61.0 635.0,61.0 635.5,61.0 636.3,61.0 637.2,61.0 638.0,61.0 638.8,61.0 639.6,61.0 640.4,61.0 641.2,61.0 642.0,61.0 642.9,61.0 643.7,61.0 644.5,61.0 645.0,61.0 645.3,61.0 646.1,61.0 646.9,61.0 647.7,61.0 648.6,61.0 649.4,61.0 650.2,61.0 651.0,61.0 651.8,61.0 652.0,61.0 652.6,61.0 653.4,61.0 654.3,61.0 655.1,61.0 655.9,61.0 656.7,61.0 657.5,61.0 658.3,61.0 658.3,61.0 659.1,61.0 660.0,61.0 660.8,61.0 661.6,61.0 662.4,61.0 663.2,61.0 664.0,61.0 664.9,61.0 665.7,61.0 666.0,61.0 666.5,61.0 667.3,61.0 668.1,61.0 668.9,61.0 669.7,61.0 670.6,61.0 671.4,61.0 672.2,61.0 673.0,61.0 673.0,61.0 673.8,61.0 674.6,61.0 675.4,61.0 676.3,61.0 676.7,61.0 677.1,61.0 677.8,61.0 677.9,61.0 678.4,61.2 L678.4,67.7 677.9,67.8 677.8,67.8 677.1,67.8 676.7,67.8 676.3,67.8 675.4,67.8 674.6,67.8 673.8,67.8 673.0,67.8 673.0,67.8 672.2,67.8 671.4,67.8 670.6,67.8 669.7,67.8 668.9,67.8 668.1,67.8 667.3,67.8 666.5,67.8 666.0,67.8 665.7,67.8 664.9,67.8 664.0,67.8 663.2,67.8 662.4,67.8 661.6,67.8 660.8,67.8 660.0,67.8 659.1,67.8 658.3,67.8 658.3,67.8 657.5,67.8 656.7,67.8 655.9,67.8 655.1,67.8 654.3,67.8 653.4,67.8 652.6,67.8 652.0,67.8 651.8,67.8 651.0,67.8 650.2,67.8 649.4,67.8 648.6,67.8 647.7,67.8 646.9,67.8 646.1,67.8 645.3,67.8 645.0,67.8 644.5,67.8 643.7,67.8 642.9,67.8 642.0,67.8 641.2,67.8 640.4,67.8 639.6,67.8 638.8,67.8 638.0,67.8 637.2,67.8 636.3,67.8 635.5,67.8 635.0,67.8 634.7,67.8 633.9,67.8 633.1,67.8 632.3,67.8 631.5,67.8 630.6,67.8 629.8,67.8 629.0,67.8 628.2,67.8 627.4,67.8 626.6,67.8 625.8,67.8 625.0,67.8 624.9,67.8 624.1,67.8 623.3,67.8 622.5,67.8 621.7,67.8 620.9,67.8 620.0,67.8 619.2,67.8 618.4,67.8 617.6,67.8 616.8,67.8 616.0,67.8 615.2,67.8 614.3,67.8 613.5,67.7 612.7,67.7 611.9,67.6 611.1,67.5 611.0,67.5 610.3,67.4 609.5,67.3 608.6,67.2 608.0,67.1 607.8,67.1 607.0,67.0 606.4,66.4 606.2,64.4 Z" fill="url(#g15)"/>
<path d="M606.9 67.2h.9v0.9h-.9zM607.8 61.9h.9v1.2h-.9zM609.4 61.0h.9v1.2h-.9zM611.2 66.1h.9v1.2h-.9zM612.7 61.9h.9v0.9h-.9zM615.4 62.9h.9v1.6h-.9zM615.9 64.1h.9v0.9h-.9zM617.8 61.5h.9v0.9h-.9zM619.5 63.5h.9v0.9h-.9zM621.4 63.0h.9v1.6h-.9zM623.4 61.3h.9v0.9h-.9zM624.4 64.7h.9v1.2h-.9zM626.4 63.7h.9v1.6h-.9zM626.8 61.8h.9v0.9h-.9zM629.2 65.9h.9v1.6h-.9zM630.0 63.4h.9v0.9h-.9zM632.6 60.9h.9v0.9h-.9zM633.7 66.5h.9v1.2h-.9zM634.6 63.4h.9v1.2h-.9zM637.2 61.3h.9v0.9h-.9zM638.2 62.6h.9v1.2h-.9zM639.7 62.4h.9v1.6h-.9zM640.6 61.0h.9v0.9h-.9zM643.4 62.9h.9v0.9h-.9zM644.3 61.8h.9v1.2h-.9zM646.3 62.1h.9v0.9h-.9zM646.6 65.1h.9v1.6h-.9zM649.0 61.8h.9v0.9h-.9zM650.1 60.9h.9v0.9h-.9zM651.8 61.9h.9v0.9h-.9zM653.4 62.7h.9v0.9h-.9zM655.2 61.8h.9v1.6h-.9zM656.8 64.6h.9v1.6h-.9zM657.2 66.5h.9v1.6h-.9zM659.6 66.1h.9v0.9h-.9zM660.0 63.8h.9v1.6h-.9zM661.3 65.8h.9v1.2h-.9zM663.2 65.9h.9v0.9h-.9zM664.6 64.9h.9v1.2h-.9zM666.8 66.0h.9v1.6h-.9zM667.9 63.2h.9v1.2h-.9zM669.1 65.6h.9v1.2h-.9zM671.1 64.1h.9v1.6h-.9zM672.7 65.5h.9v0.9h-.9zM673.7 65.5h.9v1.6h-.9zM675.2 61.2h.9v1.6h-.9zM676.9 66.2h.9v0.9h-.9zM677.5 61.0h.9v0.9h-.9z" fill="#BC3C29" fill-opacity="0.9"/>
<path d="M606.0 64.0h0.7v.8h-0.7zM611.1 62.0h0.7v.8h-0.7zM612.1 64.6h0.7v.8h-0.7zM615.2 61.8h1.2v.8h-1.2zM616.5 65.5h0.7v.8h-0.7zM617.9 62.1h0.7v.8h-0.7zM620.7 61.5h0.9v.8h-0.9zM622.1 66.6h1.2v.8h-1.2zM624.0 62.3h0.7v.8h-0.7zM625.8 64.4h0.7v.8h-0.7zM628.5 61.7h0.9v.8h-0.9zM630.1 66.5h1.2v.8h-1.2zM632.2 61.5h0.9v.8h-0.9zM635.3 65.0h0.9v.8h-0.9zM636.9 65.8h1.2v.8h-1.2zM638.5 62.9h1.2v.8h-1.2zM639.5 61.4h1.2v.8h-1.2zM642.2 61.6h0.9v.8h-0.9zM643.9 61.7h0.7v.8h-0.7zM645.3 65.3h1.2v.8h-1.2zM646.6 64.1h0.9v.8h-0.9zM648.3 66.1h0.7v.8h-0.7zM650.4 64.7h1.2v.8h-1.2zM651.9 64.5h0.7v.8h-0.7zM654.6 62.4h1.2v.8h-1.2zM655.6 62.6h0.9v.8h-0.9zM657.6 66.5h0.7v.8h-0.7zM659.6 66.3h1.2v.8h-1.2zM660.8 63.7h0.9v.8h-0.9zM661.6 65.5h1.2v.8h-1.2zM663.5 65.1h0.7v.8h-0.7zM666.1 62.8h1.2v.8h-1.2zM666.3 62.4h1.2v.8h-1.2zM668.1 65.3h0.9v.8h-0.9zM670.3 66.4h0.7v.8h-0.7zM672.2 66.5h0.7v.8h-0.7zM673.7 63.2h0.9v.8h-0.9zM675.1 61.7h1.2v.8h-1.2zM676.6 63.0h0.7v.8h-0.7z" fill="#d98679" fill-opacity="0.85"/>
<circle cx="651.90" cy="64.44" r="2.35" fill="#BC3C29" stroke="#3a2220" stroke-width="1.2"/>
<path d="M611.4,86.4 611.7,85.7 612.2,85.4 612.9,85.3 612.9,85.3 613.7,85.2 614.4,85.1 615.2,85.0 615.4,85.0 615.9,84.9 616.7,84.8 617.4,84.8 618.2,84.7 619.0,84.7 619.7,84.7 620.5,84.6 621.2,84.6 622.0,84.6 622.7,84.6 623.5,84.6 624.3,84.5 625.0,84.5 625.0,84.5 625.8,84.5 626.5,84.5 627.3,84.5 628.0,84.5 628.8,84.5 629.5,84.4 630.3,84.4 631.1,84.4 631.8,84.4 632.6,84.4 633.3,84.4 634.1,84.4 634.8,84.4 635.6,84.3 636.4,84.3 637.1,84.3 637.9,84.3 638.6,84.2 639.4,84.2 640.0,84.1 640.1,84.1 640.9,84.1 641.6,84.0 642.4,83.9 643.2,83.8 643.9,83.7 644.7,83.6 645.4,83.4 646.2,83.3 646.9,83.1 647.7,82.9 648.0,82.9 648.5,82.8 649.2,82.6 650.0,82.4 650.7,82.2 651.5,81.9 652.2,81.7 653.0,81.5 653.7,81.3 654.5,81.1 655.0,80.9 655.3,80.8 656.0,80.6 656.8,80.4 657.5,80.2 658.3,80.0 659.0,79.8 659.8,79.6 660.6,79.5 661.3,79.4 662.0,79.3 662.1,79.3 662.8,79.3 663.6,79.3 664.3,79.3 665.1,79.4 665.8,79.4 666.6,79.5 667.4,79.5 668.1,79.6 668.9,79.7 669.6,79.8 670.0,79.8 670.4,79.8 671.1,79.9 671.9,80.0 672.7,80.1 673.4,80.3 674.2,80.5 674.9,80.7 675.0,80.7 675.7,80.9 676.4,80.9 676.7,80.9 677.2,80.8 677.8,80.9 677.9,81.1 678.4,82.2 678.7,86.4 L678.7,86.4 678.4,90.6 677.9,91.8 677.8,91.9 677.2,92.0 676.7,91.9 676.4,91.9 675.7,92.0 675.0,92.1 674.9,92.1 674.2,92.4 673.4,92.6 672.7,92.7 671.9,92.8 671.1,92.9 670.4,93.0 670.0,93.0 669.6,93.1 668.9,93.2 668.1,93.2 667.4,93.3 666.6,93.4 665.8,93.4 665.1,93.5 664.3,93.5 663.6,93.5 662.8,93.5 662.1,93.5 662.0,93.5 661.3,93.4 660.6,93.3 659.8,93.2 659.0,93.1 658.3,92.9 657.5,92.7 656.8,92.5 656.0,92.2 655.3,92.0 655.0,91.9 654.5,91.8 653.7,91.6 653.0,91.3 652.2,91.1 651.5,90.9 650.7,90.7 650.0,90.5 649.2,90.3 648.5,90.1 648.0,90.0 647.7,89.9 646.9,89.7 646.2,89.6 645.4,89.4 644.7,89.3 643.9,89.2 643.2,89.0 642.4,88.9 641.6,88.8 640.9,88.8 640.1,88.7 640.0,88.7 639.4,88.7 638.6,88.6 637.9,88.6 637.1,88.5 636.4,88.5 635.6,88.5 634.8,88.5 634.1,88.5 633.3,88.5 632.6,88.4 631.8,88.4 631.1,88.4 630.3,88.4 629.5,88.4 628.8,88.4 628.0,88.4 627.3,88.4 626.5,88.3 625.8,88.3 625.0,88.3 625.0,88.3 624.3,88.3 623.5,88.3 622.7,88.3 622.0,88.2 621.2,88.2 620.5,88.2 619.7,88.2 619.0,88.2 618.2,88.1 617.4,88.1 616.7,88.0 615.9,87.9 615.4,87.9 615.2,87.8 614.4,87.8 613.7,87.7 612.9,87.6 612.9,87.6 612.2,87.4 611.7,87.1 611.4,86.4 Z" fill="#d98679" stroke="#BC3C29" stroke-width="1.4" stroke-linejoin="round"/>
<path d="M611.4,86.4 611.7,85.7 612.2,85.4 612.9,85.3 612.9,85.3 613.7,85.2 614.4,85.1 615.2,85.0 615.4,85.0 615.9,84.9 616.7,84.8 617.4,84.8 618.2,84.7 619.0,84.7 619.7,84.7 620.5,84.6 621.2,84.6 622.0,84.6 622.7,84.6 623.5,84.6 624.3,84.5 625.0,84.5 625.0,84.5 625.8,84.5 626.5,84.5 627.3,84.5 628.0,84.5 628.8,84.5 629.5,84.4 630.3,84.4 631.1,84.4 631.8,84.4 632.6,84.4 633.3,84.4 634.1,84.4 634.8,84.4 635.6,84.3 636.4,84.3 637.1,84.3 637.9,84.3 638.6,84.2 639.4,84.2 640.0,84.1 640.1,84.1 640.9,84.1 641.6,84.0 642.4,83.9 643.2,83.8 643.9,83.7 644.7,83.6 645.4,83.4 646.2,83.3 646.9,83.1 647.7,83.0 648.0,83.0 648.5,83.0 649.2,83.0 650.0,83.0 650.7,83.0 651.5,83.0 652.2,83.0 653.0,83.0 653.7,83.0 654.5,83.0 655.0,83.0 655.3,83.0 656.0,83.0 656.8,83.0 657.5,83.0 658.3,83.0 659.0,83.0 659.8,83.0 660.6,83.0 661.3,83.0 662.0,83.0 662.1,83.0 662.8,83.0 663.6,83.0 664.3,83.0 665.1,83.0 665.8,83.0 666.6,83.0 667.4,83.0 668.1,83.0 668.9,83.0 669.6,83.0 670.0,83.0 670.4,83.0 671.1,83.0 671.9,83.0 672.7,83.0 673.4,83.0 674.2,83.0 674.9,83.0 675.0,83.0 675.7,83.0 676.4,83.0 676.7,83.0 677.2,83.0 677.8,83.0 677.9,83.0 678.4,83.0 L678.4,89.8 677.9,89.8 677.8,89.8 677.2,89.8 676.7,89.8 676.4,89.8 675.7,89.8 675.0,89.8 674.9,89.8 674.2,89.8 673.4,89.8 672.7,89.8 671.9,89.8 671.1,89.8 670.4,89.8 670.0,89.8 669.6,89.8 668.9,89.8 668.1,89.8 667.4,89.8 666.6,89.8 665.8,89.8 665.1,89.8 664.3,89.8 663.6,89.8 662.8,89.8 662.1,89.8 662.0,89.8 661.3,89.8 660.6,89.8 659.8,89.8 659.0,89.8 658.3,89.8 657.5,89.8 656.8,89.8 656.0,89.8 655.3,89.8 655.0,89.8 654.5,89.8 653.7,89.8 653.0,89.8 652.2,89.8 651.5,89.8 650.7,89.8 650.0,89.8 649.2,89.8 648.5,89.8 648.0,89.8 647.7,89.8 646.9,89.7 646.2,89.6 645.4,89.4 644.7,89.3 643.9,89.2 643.2,89.0 642.4,88.9 641.6,88.8 640.9,88.8 640.1,88.7 640.0,88.7 639.4,88.7 638.6,88.6 637.9,88.6 637.1,88.5 636.4,88.5 635.6,88.5 634.8,88.5 634.1,88.5 633.3,88.5 632.6,88.4 631.8,88.4 631.1,88.4 630.3,88.4 629.5,88.4 628.8,88.4 628.0,88.4 627.3,88.4 626.5,88.3 625.8,88.3 625.0,88.3 625.0,88.3 624.3,88.3 623.5,88.3 622.7,88.3 622.0,88.2 621.2,88.2 620.5,88.2 619.7,88.2 619.0,88.2 618.2,88.1 617.4,88.1 616.7,88.0 615.9,87.9 615.4,87.9 615.2,87.8 614.4,87.8 613.7,87.7 612.9,87.6 612.9,87.6 612.2,87.4 611.7,87.1 611.4,86.4 Z" fill="url(#g16)"/>
<path d="M611.9 85.9h.9v1.2h-.9zM614.2 89.0h.9v1.2h-.9zM614.9 87.1h.9v1.2h-.9zM617.4 88.9h.9v1.2h-.9zM619.3 88.1h.9v1.6h-.9zM621.2 86.8h.9v1.2h-.9zM621.8 87.2h.9v1.2h-.9zM624.6 87.8h.9v0.9h-.9zM626.6 87.6h.9v1.6h-.9zM627.8 88.4h.9v1.6h-.9zM628.7 84.9h.9v0.9h-.9zM631.6 85.1h.9v0.9h-.9zM631.9 84.3h.9v1.2h-.9zM633.8 88.7h.9v0.9h-.9zM636.4 88.6h.9v0.9h-.9zM637.6 85.6h.9v1.6h-.9zM638.8 85.3h.9v0.9h-.9zM641.1 83.6h.9v1.6h-.9zM642.4 89.1h.9v0.9h-.9zM643.1 87.1h.9v1.2h-.9zM644.9 89.0h.9v1.2h-.9zM647.3 86.8h.9v1.6h-.9zM648.9 86.1h.9v1.2h-.9zM649.3 87.6h.9v1.6h-.9zM651.5 88.5h.9v1.2h-.9zM653.3 88.2h.9v1.2h-.9zM654.3 85.0h.9v1.6h-.9zM655.4 86.0h.9v1.2h-.9zM657.5 88.9h.9v1.6h-.9zM659.9 86.0h.9v1.6h-.9zM661.1 87.9h.9v1.6h-.9zM661.8 86.1h.9v1.6h-.9zM664.4 88.1h.9v1.6h-.9zM665.6 83.2h.9v1.2h-.9zM666.6 82.7h.9v0.9h-.9zM668.1 83.3h.9v1.6h-.9zM669.5 85.6h.9v1.2h-.9zM671.4 85.1h.9v1.6h-.9zM672.9 89.0h.9v1.2h-.9zM674.3 89.2h.9v0.9h-.9zM676.8 83.6h.9v0.9h-.9zM678.1 88.1h.9v1.6h-.9z" fill="#BC3C29" fill-opacity="0.9"/>
<path d="M612.6 86.2h0.7v.8h-0.7zM617.8 85.9h0.9v.8h-0.9zM619.6 86.4h0.7v.8h-0.7zM624.0 85.7h1.2v.8h-1.2zM626.4 86.8h1.2v.8h-1.2zM628.0 85.5h1.2v.8h-1.2zM631.2 85.3h0.7v.8h-0.7zM635.1 85.1h0.9v.8h-0.9zM636.4 86.3h1.2v.8h-1.2zM637.5 86.1h0.7v.8h-0.7zM640.5 87.2h1.2v.8h-1.2zM642.5 84.8h0.7v.8h-0.7zM643.2 87.1h0.9v.8h-0.9zM645.1 87.9h1.2v.8h-1.2zM646.2 87.1h1.2v.8h-1.2zM647.9 84.0h0.9v.8h-0.9zM649.5 84.2h1.2v.8h-1.2zM650.0 83.8h0.7v.8h-0.7zM651.1 85.1h0.7v.8h-0.7zM652.3 87.3h0.9v.8h-0.9zM654.2 84.1h0.9v.8h-0.9zM654.7 85.7h0.9v.8h-0.9zM656.5 83.6h0.7v.8h-0.7zM658.1 86.9h0.9v.8h-0.9zM659.3 83.9h0.9v.8h-0.9zM660.4 87.5h0.9v.8h-0.9zM660.9 86.6h0.7v.8h-0.7zM662.6 84.4h1.2v.8h-1.2zM663.6 87.0h1.2v.8h-1.2zM665.2 85.2h0.9v.8h-0.9zM666.0 86.1h0.7v.8h-0.7zM667.2 86.3h1.2v.8h-1.2zM669.5 84.8h0.9v.8h-0.9zM670.6 85.5h1.2v.8h-1.2zM670.9 87.5h1.2v.8h-1.2zM673.1 87.9h1.2v.8h-1.2zM673.4 87.8h0.7v.8h-0.7zM674.9 86.3h0.7v.8h-0.7zM677.0 87.9h1.2v.8h-1.2z" fill="#d98679" fill-opacity="0.85"/>
<circle cx="660.80" cy="86.42" r="2.35" fill="#BC3C29" stroke="#3a2220" stroke-width="1.2"/>
<path d="M629.2,108.4 629.4,106.7 629.8,106.6 630.3,106.6 630.9,106.6 631.0,106.6 631.4,106.7 632.0,106.7 632.5,106.6 633.1,106.6 633.6,106.6 634.2,106.5 634.8,106.5 635.3,106.5 635.9,106.5 636.4,106.4 637.0,106.4 637.5,106.4 638.1,106.4 638.7,106.4 639.2,106.4 639.8,106.4 640.0,106.4 640.3,106.4 640.9,106.3 641.4,106.3 642.0,106.3 642.5,106.3 643.1,106.2 643.7,106.2 644.2,106.2 644.8,106.1 645.3,106.0 645.9,105.9 646.4,105.8 647.0,105.7 647.0,105.7 647.6,105.6 648.1,105.4 648.7,105.2 649.2,105.1 649.8,104.8 650.3,104.6 650.9,104.4 651.4,104.2 652.0,103.9 652.0,103.9 652.6,103.7 653.1,103.5 653.7,103.3 654.2,103.0 654.8,102.8 655.3,102.6 655.9,102.4 656.5,102.3 657.0,102.1 657.6,102.0 658.1,101.9 658.7,101.8 659.2,101.7 659.6,101.7 659.8,101.7 660.3,101.6 660.9,101.6 661.5,101.6 662.0,101.7 662.6,101.7 663.1,101.7 663.7,101.8 664.2,101.8 664.8,101.9 665.4,101.9 665.9,101.9 666.0,101.9 666.5,102.0 667.0,102.0 667.6,102.0 668.1,102.0 668.7,102.1 669.2,102.1 669.8,102.1 670.4,102.1 670.9,102.2 671.5,102.2 672.0,102.2 672.6,102.3 673.0,102.3 673.1,102.4 673.7,102.5 674.3,102.6 674.8,102.8 675.4,102.9 675.9,102.9 676.5,102.9 676.7,102.9 677.0,102.8 677.6,102.8 677.8,102.9 678.1,103.4 678.4,104.2 678.7,108.4 L678.7,108.4 678.4,112.6 678.1,113.4 677.8,113.9 677.6,114.0 677.0,114.0 676.7,113.9 676.5,113.9 675.9,113.9 675.4,113.9 674.8,114.0 674.3,114.2 673.7,114.3 673.1,114.4 673.0,114.5 672.6,114.5 672.0,114.6 671.5,114.6 670.9,114.6 670.4,114.7 669.8,114.7 669.2,114.7 668.7,114.7 668.1,114.8 667.6,114.8 667.0,114.8 666.5,114.8 666.0,114.9 665.9,114.9 665.4,114.9 664.8,114.9 664.2,115.0 663.7,115.0 663.1,115.1 662.6,115.1 662.0,115.1 661.5,115.2 660.9,115.2 660.3,115.2 659.8,115.1 659.6,115.1 659.2,115.1 658.7,115.0 658.1,114.9 657.6,114.8 657.0,114.7 656.5,114.5 655.9,114.4 655.3,114.2 654.8,114.0 654.2,113.8 653.7,113.5 653.1,113.3 652.6,113.1 652.0,112.9 652.0,112.9 651.4,112.6 650.9,112.4 650.3,112.2 649.8,112.0 649.2,111.7 648.7,111.6 648.1,111.4 647.6,111.2 647.0,111.1 647.0,111.1 646.4,111.0 645.9,110.9 645.3,110.8 644.8,110.7 644.2,110.6 643.7,110.6 643.1,110.6 642.5,110.5 642.0,110.5 641.4,110.5 640.9,110.5 640.3,110.4 640.0,110.4 639.8,110.4 639.2,110.4 638.7,110.4 638.1,110.4 637.5,110.4 637.0,110.4 636.4,110.4 635.9,110.3 635.3,110.3 634.8,110.3 634.2,110.3 633.6,110.2 633.1,110.2 632.5,110.2 632.0,110.1 631.4,110.1 631.0,110.2 630.9,110.2 630.3,110.2 629.8,110.2 629.4,110.1 629.2,108.4 Z" fill="#d98679" stroke="#BC3C29" stroke-width="1.4" stroke-linejoin="round"/>
<path d="M629.2,108.4 629.4,106.7 629.8,106.6 630.3,106.6 630.9,106.6 631.0,106.6 631.4,106.7 632.0,106.7 632.5,106.6 633.1,106.6 633.6,106.6 634.2,106.5 634.8,106.5 635.3,106.5 635.9,106.5 636.4,106.4 637.0,106.4 637.5,106.4 638.1,106.4 638.7,106.4 639.2,106.4 639.8,106.4 640.0,106.4 640.3,106.4 640.9,106.3 641.4,106.3 642.0,106.3 642.5,106.3 643.1,106.2 643.7,106.2 644.2,106.2 644.8,106.1 645.3,106.0 645.9,105.9 646.4,105.8 647.0,105.7 647.0,105.7 647.6,105.6 648.1,105.4 648.7,105.2 649.2,105.1 649.8,105.0 650.3,105.0 650.9,105.0 651.4,105.0 652.0,105.0 652.0,105.0 652.6,105.0 653.1,105.0 653.7,105.0 654.2,105.0 654.8,105.0 655.3,105.0 655.9,105.0 656.5,105.0 657.0,105.0 657.6,105.0 658.1,105.0 658.7,105.0 659.2,105.0 659.6,105.0 659.8,105.0 660.3,105.0 660.9,105.0 661.5,105.0 662.0,105.0 662.6,105.0 663.1,105.0 663.7,105.0 664.2,105.0 664.8,105.0 665.4,105.0 665.9,105.0 666.0,105.0 666.5,105.0 667.0,105.0 667.6,105.0 668.1,105.0 668.7,105.0 669.2,105.0 669.8,105.0 670.4,105.0 670.9,105.0 671.5,105.0 672.0,105.0 672.6,105.0 673.0,105.0 673.1,105.0 673.7,105.0 674.3,105.0 674.8,105.0 675.4,105.0 675.9,105.0 676.5,105.0 676.7,105.0 677.0,105.0 677.6,105.0 677.8,105.0 678.1,105.0 678.4,105.0 L678.4,111.8 678.1,111.8 677.8,111.8 677.6,111.8 677.0,111.8 676.7,111.8 676.5,111.8 675.9,111.8 675.4,111.8 674.8,111.8 674.3,111.8 673.7,111.8 673.1,111.8 673.0,111.8 672.6,111.8 672.0,111.8 671.5,111.8 670.9,111.8 670.4,111.8 669.8,111.8 669.2,111.8 668.7,111.8 668.1,111.8 667.6,111.8 667.0,111.8 666.5,111.8 666.0,111.8 665.9,111.8 665.4,111.8 664.8,111.8 664.2,111.8 663.7,111.8 663.1,111.8 662.6,111.8 662.0,111.8 661.5,111.8 660.9,111.8 660.3,111.8 659.8,111.8 659.6,111.8 659.2,111.8 658.7,111.8 658.1,111.8 657.6,111.8 657.0,111.8 656.5,111.8 655.9,111.8 655.3,111.8 654.8,111.8 654.2,111.8 653.7,111.8 653.1,111.8 652.6,111.8 652.0,111.8 652.0,111.8 651.4,111.8 650.9,111.8 650.3,111.8 649.8,111.8 649.2,111.7 648.7,111.6 648.1,111.4 647.6,111.2 647.0,111.1 647.0,111.1 646.4,111.0 645.9,110.9 645.3,110.8 644.8,110.7 644.2,110.6 643.7,110.6 643.1,110.6 642.5,110.5 642.0,110.5 641.4,110.5 640.9,110.5 640.3,110.4 640.0,110.4 639.8,110.4 639.2,110.4 638.7,110.4 638.1,110.4 637.5,110.4 637.0,110.4 636.4,110.4 635.9,110.3 635.3,110.3 634.8,110.3 634.2,110.3 633.6,110.2 633.1,110.2 632.5,110.2 632.0,110.1 631.4,110.1 631.0,110.2 630.9,110.2 630.3,110.2 629.8,110.2 629.4,110.1 629.2,108.4 Z" fill="url(#g17)"/>
<path d="M629.5 105.5h.9v1.6h-.9zM630.6 108.9h.9v0.9h-.9zM633.2 109.5h.9v1.2h-.9zM633.5 105.2h.9v0.9h-.9zM635.6 104.9h.9v1.2h-.9zM637.6 106.8h.9v0.9h-.9zM639.0 106.9h.9v1.6h-.9zM639.9 105.0h.9v0.9h-.9zM640.9 105.3h.9v1.2h-.9zM642.7 106.0h.9v0.9h-.9zM643.8 104.8h.9v1.6h-.9zM645.3 105.7h.9v1.6h-.9zM646.7 104.9h.9v1.2h-.9zM647.9 107.1h.9v0.9h-.9zM649.1 109.6h.9v0.9h-.9zM651.5 109.0h.9v1.2h-.9zM651.9 108.6h.9v0.9h-.9zM654.0 107.7h.9v0.9h-.9zM655.1 105.9h.9v0.9h-.9zM656.9 105.0h.9v1.6h-.9zM658.1 105.9h.9v1.6h-.9zM659.4 110.9h.9v1.2h-.9zM661.1 110.0h.9v1.6h-.9zM662.2 108.4h.9v0.9h-.9zM664.0 108.7h.9v1.6h-.9zM664.9 109.5h.9v1.6h-.9zM666.6 110.0h.9v1.6h-.9zM667.9 106.3h.9v0.9h-.9zM669.0 109.9h.9v1.2h-.9zM669.8 108.9h.9v1.2h-.9zM671.4 106.5h.9v1.6h-.9zM672.1 106.6h.9v0.9h-.9zM674.3 105.8h.9v1.6h-.9zM675.5 108.3h.9v1.2h-.9zM677.0 111.0h.9v1.6h-.9zM677.3 109.8h.9v0.9h-.9z" fill="#BC3C29" fill-opacity="0.9"/>
<path d="M629.8 108.1h0.7v.8h-0.7zM631.6 107.4h0.7v.8h-0.7zM635.4 107.5h1.2v.8h-1.2zM635.8 107.0h1.2v.8h-1.2zM637.9 109.1h0.9v.8h-0.9zM640.0 107.8h0.7v.8h-0.7zM641.3 108.2h0.9v.8h-0.9zM643.2 107.1h0.9v.8h-0.9zM645.2 107.6h0.9v.8h-0.9zM646.9 108.5h0.9v.8h-0.9zM648.2 109.0h0.9v.8h-0.9zM649.2 110.0h0.9v.8h-0.9zM650.6 106.6h1.2v.8h-1.2zM651.8 106.6h1.2v.8h-1.2zM652.4 107.4h0.7v.8h-0.7zM653.4 107.0h0.9v.8h-0.9zM654.9 109.6h1.2v.8h-1.2zM655.8 107.3h0.7v.8h-0.7zM657.3 107.3h0.7v.8h-0.7zM657.5 108.0h0.7v.8h-0.7zM659.1 108.3h0.9v.8h-0.9zM659.9 107.2h1.2v.8h-1.2zM660.8 105.4h0.7v.8h-0.7zM662.5 109.2h0.7v.8h-0.7zM662.8 105.9h0.7v.8h-0.7zM664.4 109.8h0.7v.8h-0.7zM665.5 106.6h1.2v.8h-1.2zM666.6 106.7h0.7v.8h-0.7zM666.7 108.1h0.7v.8h-0.7zM667.7 110.1h1.2v.8h-1.2zM668.6 107.3h0.9v.8h-0.9zM669.8 107.8h0.9v.8h-0.9zM671.3 107.5h0.7v.8h-0.7zM672.0 105.9h0.7v.8h-0.7zM672.5 106.8h1.2v.8h-1.2zM673.4 110.1h0.9v.8h-0.9zM674.9 110.2h0.9v.8h-0.9zM675.7 106.7h0.9v.8h-0.9zM676.1 110.1h0.7v.8h-0.7z" fill="#d98679" fill-opacity="0.85"/>
<circle cx="661.00" cy="108.40" r="2.35" fill="#BC3C29" stroke="#3a2220" stroke-width="1.2"/>
<path d="M630.8,130.4 631.0,128.3 631.3,128.2 631.9,128.2 632.4,128.2 633.0,128.2 633.0,128.2 633.5,128.2 634.0,128.2 634.6,128.1 635.1,128.0 635.6,127.9 636.2,127.8 636.7,127.8 637.3,127.7 637.8,127.7 638.3,127.6 638.9,127.6 639.4,127.5 639.9,127.5 640.0,127.5 640.5,127.4 641.0,127.4 641.6,127.4 642.1,127.3 642.6,127.3 643.2,127.2 643.7,127.2 644.3,127.1 644.8,127.1 645.3,127.0 645.9,127.0 646.4,126.9 646.9,126.9 647.5,126.8 648.0,126.8 648.6,126.7 649.1,126.6 649.6,126.6 650.0,126.5 650.2,126.5 650.7,126.4 651.3,126.4 651.8,126.3 652.3,126.2 652.9,126.1 653.4,126.0 653.9,125.9 654.5,125.8 655.0,125.7 655.6,125.7 656.1,125.6 656.6,125.5 657.2,125.4 657.7,125.3 658.2,125.2 658.8,125.1 659.3,125.0 659.9,124.9 660.0,124.9 660.4,124.8 660.9,124.8 661.5,124.7 662.0,124.6 662.6,124.5 663.1,124.5 663.6,124.4 664.2,124.3 664.7,124.3 665.2,124.2 665.8,124.1 666.3,124.1 666.9,124.0 667.4,124.0 667.9,123.9 668.0,123.9 668.5,123.9 669.0,123.8 669.6,123.8 670.1,123.8 670.6,123.7 671.2,123.7 671.7,123.7 672.2,123.7 672.8,123.7 673.2,123.8 673.3,123.8 673.9,123.9 674.4,124.0 674.9,124.2 675.5,124.3 676.0,124.3 676.5,124.2 676.7,124.2 677.1,124.1 677.6,124.0 677.8,124.1 678.2,124.8 678.4,125.6 678.7,130.4 L678.7,130.4 678.4,135.1 678.2,136.0 677.8,136.6 677.6,136.7 677.1,136.7 676.7,136.6 676.5,136.5 676.0,136.5 675.5,136.5 674.9,136.6 674.4,136.7 673.9,136.9 673.3,137.0 673.2,137.0 672.8,137.0 672.2,137.0 671.7,137.1 671.2,137.0 670.6,137.0 670.1,137.0 669.6,137.0 669.0,136.9 668.5,136.9 668.0,136.8 667.9,136.8 667.4,136.8 666.9,136.7 666.3,136.7 665.8,136.6 665.2,136.6 664.7,136.5 664.2,136.4 663.6,136.4 663.1,136.3 662.6,136.2 662.0,136.2 661.5,136.1 660.9,136.0 660.4,135.9 660.0,135.9 659.9,135.8 659.3,135.7 658.8,135.7 658.2,135.6 657.7,135.5 657.2,135.4 656.6,135.3 656.1,135.2 655.6,135.1 655.0,135.0 654.5,134.9 653.9,134.8 653.4,134.7 652.9,134.6 652.3,134.6 651.8,134.5 651.3,134.4 650.7,134.3 650.2,134.3 650.0,134.2 649.6,134.2 649.1,134.1 648.6,134.1 648.0,134.0 647.5,133.9 646.9,133.9 646.4,133.8 645.9,133.8 645.3,133.7 644.8,133.7 644.3,133.6 643.7,133.6 643.2,133.5 642.6,133.5 642.1,133.5 641.6,133.4 641.0,133.4 640.5,133.3 640.0,133.3 639.9,133.3 639.4,133.2 638.9,133.2 638.3,133.1 637.8,133.1 637.3,133.0 636.7,133.0 636.2,132.9 635.6,132.8 635.1,132.8 634.6,132.7 634.0,132.6 633.5,132.5 633.0,132.5 633.0,132.5 632.4,132.5 631.9,132.6 631.3,132.6 631.0,132.5 630.8,130.4 Z" fill="#d98679" stroke="#BC3C29" stroke-width="1.4" stroke-linejoin="round"/>
<path d="M631.0,128.3 631.3,128.2 631.9,128.2 632.4,128.2 633.0,128.2 633.0,128.2 633.5,128.2 634.0,128.2 634.6,128.1 635.1,128.0 635.6,127.9 636.2,127.8 636.7,127.8 637.3,127.7 637.8,127.7 638.3,127.6 638.9,127.6 639.4,127.5 639.9,127.5 640.0,127.5 640.5,127.4 641.0,127.4 641.6,127.4 642.1,127.3 642.6,127.3 643.2,127.2 643.7,127.2 644.3,127.1 644.8,127.1 645.3,127.0 645.9,127.0 646.4,127.0 646.9,127.0 647.5,127.0 648.0,127.0 648.6,127.0 649.1,127.0 649.6,127.0 650.0,127.0 650.2,127.0 650.7,127.0 651.3,127.0 651.8,127.0 652.3,127.0 652.9,127.0 653.4,127.0 653.9,127.0 654.5,127.0 655.0,127.0 655.6,127.0 656.1,127.0 656.6,127.0 657.2,127.0 657.7,127.0 658.2,127.0 658.8,127.0 659.3,127.0 659.9,127.0 660.0,127.0 660.4,127.0 660.9,127.0 661.5,127.0 662.0,127.0 662.6,127.0 663.1,127.0 663.6,127.0 664.2,127.0 664.7,127.0 665.2,127.0 665.8,127.0 666.3,127.0 666.9,127.0 667.4,127.0 667.9,127.0 668.0,127.0 668.5,127.0 669.0,127.0 669.6,127.0 670.1,127.0 670.6,127.0 671.2,127.0 671.7,127.0 672.2,127.0 672.8,127.0 673.2,127.0 673.3,127.0 673.9,127.0 674.4,127.0 674.9,127.0 675.5,127.0 676.0,127.0 676.5,127.0 676.7,127.0 677.1,127.0 677.6,127.0 677.8,127.0 678.2,127.0 678.4,127.0 L678.4,133.8 678.2,133.8 677.8,133.8 677.6,133.8 677.1,133.8 676.7,133.8 676.5,133.8 676.0,133.8 675.5,133.8 674.9,133.8 674.4,133.8 673.9,133.8 673.3,133.8 673.2,133.8 672.8,133.8 672.2,133.8 671.7,133.8 671.2,133.8 670.6,133.8 670.1,133.8 669.6,133.8 669.0,133.8 668.5,133.8 668.0,133.8 667.9,133.8 667.4,133.8 666.9,133.8 666.3,133.8 665.8,133.8 665.2,133.8 664.7,133.8 664.2,133.8 663.6,133.8 663.1,133.8 662.6,133.8 662.0,133.8 661.5,133.8 660.9,133.8 660.4,133.8 660.0,133.8 659.9,133.8 659.3,133.8 658.8,133.8 658.2,133.8 657.7,133.8 657.2,133.8 656.6,133.8 656.1,133.8 655.6,133.8 655.0,133.8 654.5,133.8 653.9,133.8 653.4,133.8 652.9,133.8 652.3,133.8 651.8,133.8 651.3,133.8 650.7,133.8 650.2,133.8 650.0,133.8 649.6,133.8 649.1,133.8 648.6,133.8 648.0,133.8 647.5,133.8 646.9,133.8 646.4,133.8 645.9,133.8 645.3,133.7 644.8,133.7 644.3,133.6 643.7,133.6 643.2,133.5 642.6,133.5 642.1,133.5 641.6,133.4 641.0,133.4 640.5,133.3 640.0,133.3 639.9,133.3 639.4,133.2 638.9,133.2 638.3,133.1 637.8,133.1 637.3,133.0 636.7,133.0 636.2,132.9 635.6,132.8 635.1,132.8 634.6,132.7 634.0,132.6 633.5,132.5 633.0,132.5 633.0,132.5 632.4,132.5 631.9,132.6 631.3,132.6 631.0,132.5 Z" fill="url(#g18)"/>
<path d="M632.5 129.3h.9v1.2h-.9zM633.7 129.7h.9v0.9h-.9zM635.1 128.1h.9v1.6h-.9zM637.6 131.9h.9v1.6h-.9zM638.4 132.4h.9v1.6h-.9zM640.0 129.9h.9v0.9h-.9zM642.3 132.2h.9v1.6h-.9zM644.1 128.6h.9v0.9h-.9zM645.3 132.3h.9v1.2h-.9zM646.4 133.0h.9v0.9h-.9zM648.0 131.0h.9v1.6h-.9zM649.0 132.9h.9v1.2h-.9zM651.0 131.4h.9v1.6h-.9zM653.5 131.2h.9v1.6h-.9zM654.6 129.8h.9v1.2h-.9zM656.8 127.1h.9v1.2h-.9zM658.0 127.5h.9v0.9h-.9zM659.5 132.1h.9v1.6h-.9zM661.4 127.9h.9v0.9h-.9zM662.5 131.1h.9v0.9h-.9zM664.3 127.7h.9v0.9h-.9zM665.6 131.6h.9v1.6h-.9zM666.9 132.9h.9v0.9h-.9zM669.1 130.7h.9v0.9h-.9zM669.5 126.9h.9v0.9h-.9zM672.4 131.5h.9v1.6h-.9zM673.9 129.8h.9v1.2h-.9zM675.2 132.3h.9v1.6h-.9zM676.2 127.6h.9v1.2h-.9zM677.7 128.5h.9v1.2h-.9z" fill="#BC3C29" fill-opacity="0.9"/>
<path d="M631.6 129.4h1.2v.8h-1.2zM633.0 131.0h0.7v.8h-0.7zM635.9 130.3h0.9v.8h-0.9zM637.5 130.9h0.7v.8h-0.7zM639.1 129.9h0.7v.8h-0.7zM639.1 128.7h0.9v.8h-0.9zM641.3 131.8h0.7v.8h-0.7zM642.7 128.8h1.2v.8h-1.2zM643.8 128.3h1.2v.8h-1.2zM644.6 130.7h0.7v.8h-0.7zM646.7 127.8h0.9v.8h-0.9zM647.5 131.3h0.9v.8h-0.9zM648.0 131.0h0.9v.8h-0.9zM649.6 129.3h1.2v.8h-1.2zM651.2 130.0h0.7v.8h-0.7zM651.7 129.9h0.9v.8h-0.9zM653.5 127.7h0.9v.8h-0.9zM654.0 127.7h0.7v.8h-0.7zM655.4 129.2h0.9v.8h-0.9zM656.4 127.4h0.7v.8h-0.7zM657.3 128.3h1.2v.8h-1.2zM659.2 129.2h0.9v.8h-0.9zM659.7 130.6h1.2v.8h-1.2zM661.3 130.0h0.7v.8h-0.7zM662.5 128.2h0.9v.8h-0.9zM662.9 131.3h0.9v.8h-0.9zM663.7 131.5h0.7v.8h-0.7zM665.3 130.8h0.9v.8h-0.9zM666.0 130.9h0.7v.8h-0.7zM667.8 128.6h0.9v.8h-0.9zM668.1 131.7h0.9v.8h-0.9zM669.7 130.4h0.9v.8h-0.9zM670.0 128.3h0.9v.8h-0.9zM671.3 130.9h0.9v.8h-0.9zM672.2 130.6h1.2v.8h-1.2zM673.9 130.3h1.2v.8h-1.2zM674.6 129.8h0.9v.8h-0.9zM675.7 131.3h0.9v.8h-0.9zM676.1 131.1h1.2v.8h-1.2z" fill="#d98679" fill-opacity="0.85"/>
<circle cx="664.50" cy="130.38" r="2.35" fill="#BC3C29" stroke="#3a2220" stroke-width="1.2"/>
<path d="M596.9,152.4 597.3,152.0 597.8,151.9 598.7,151.9 599.7,151.9 600.6,151.9 601.5,151.8 602.4,151.8 603.3,151.8 604.3,151.7 605.0,151.7 605.2,151.7 606.1,151.7 607.0,151.6 607.9,151.6 608.8,151.5 609.8,151.4 610.7,151.4 611.6,151.3 612.0,151.3 612.5,151.2 613.4,151.2 614.4,151.1 615.3,151.1 616.2,151.0 617.1,151.0 618.0,150.9 619.0,150.9 619.9,150.8 620.8,150.8 621.7,150.7 622.6,150.7 623.6,150.6 624.5,150.6 625.0,150.6 625.4,150.6 626.3,150.5 627.2,150.5 628.1,150.4 629.1,150.4 630.0,150.4 630.9,150.4 631.8,150.3 632.7,150.3 633.7,150.3 634.6,150.2 635.5,150.2 636.4,150.1 637.3,150.1 638.3,150.0 639.2,150.0 640.0,149.9 640.1,149.9 641.0,149.8 641.9,149.7 642.9,149.6 643.8,149.4 644.7,149.2 645.6,149.0 646.5,148.8 647.0,148.7 647.5,148.5 648.4,148.3 649.3,147.9 650.2,147.6 651.1,147.2 652.0,146.9 652.0,146.9 653.0,146.6 653.9,146.3 654.8,146.1 655.7,145.9 656.6,145.8 656.6,145.8 657.6,145.7 658.5,145.7 659.4,145.7 660.3,145.8 661.2,145.9 662.2,146.0 663.1,146.1 664.0,146.2 664.0,146.2 664.9,146.4 665.8,146.5 666.8,146.7 667.7,146.9 668.6,147.1 669.5,147.3 670.4,147.5 671.3,147.7 672.0,147.8 672.3,147.9 673.2,148.1 674.1,148.3 675.0,148.6 675.9,148.8 676.7,148.8 676.9,148.8 677.8,148.9 677.8,148.9 678.4,149.7 678.7,152.4 L678.7,152.4 678.4,155.0 677.8,155.9 677.8,155.9 676.9,155.9 676.7,155.9 675.9,156.0 675.0,156.1 674.1,156.4 673.2,156.6 672.3,156.9 672.0,156.9 671.3,157.0 670.4,157.2 669.5,157.4 668.6,157.6 667.7,157.8 666.8,158.0 665.8,158.2 664.9,158.3 664.0,158.5 664.0,158.5 663.1,158.6 662.2,158.8 661.2,158.9 660.3,159.0 659.4,159.0 658.5,159.0 657.6,159.0 656.6,159.0 656.6,159.0 655.7,158.8 654.8,158.6 653.9,158.4 653.0,158.1 652.0,157.8 652.0,157.8 651.1,157.5 650.2,157.1 649.3,156.8 648.4,156.5 647.5,156.2 647.0,156.0 646.5,155.9 645.6,155.7 644.7,155.5 643.8,155.3 642.9,155.2 641.9,155.0 641.0,154.9 640.1,154.8 640.0,154.8 639.2,154.7 638.3,154.7 637.3,154.6 636.4,154.6 635.5,154.5 634.6,154.5 633.7,154.5 632.7,154.4 631.8,154.4 630.9,154.4 630.0,154.3 629.1,154.3 628.1,154.3 627.2,154.2 626.3,154.2 625.4,154.2 625.0,154.2 624.5,154.1 623.6,154.1 622.6,154.0 621.7,154.0 620.8,154.0 619.9,153.9 619.0,153.9 618.0,153.8 617.1,153.8 616.2,153.7 615.3,153.7 614.4,153.6 613.4,153.5 612.5,153.5 612.0,153.4 611.6,153.4 610.7,153.4 609.8,153.3 608.8,153.2 607.9,153.2 607.0,153.1 606.1,153.1 605.2,153.0 605.0,153.0 604.3,153.0 603.3,152.9 602.4,152.9 601.5,152.9 600.6,152.8 599.7,152.8 598.7,152.8 597.8,152.8 597.3,152.8 596.9,152.4 Z" fill="#d98679" stroke="#BC3C29" stroke-width="1.4" stroke-linejoin="round"/>
<path d="M597.3,149.0 597.8,149.0 598.7,149.0 599.7,149.0 600.6,149.0 601.5,149.0 602.4,149.0 603.3,149.0 604.3,149.0 605.0,149.0 605.2,149.0 606.1,149.0 607.0,149.0 607.9,149.0 608.8,149.0 609.8,149.0 610.7,149.0 611.6,149.0 612.0,149.0 612.5,149.0 613.4,149.0 614.4,149.0 615.3,149.0 616.2,149.0 617.1,149.0 618.0,149.0 619.0,149.0 619.9,149.0 620.8,149.0 621.7,149.0 622.6,149.0 623.6,149.0 624.5,149.0 625.0,149.0 625.4,149.0 626.3,149.0 627.2,149.0 628.1,149.0 629.1,149.0 630.0,149.0 630.9,149.0 631.8,149.0 632.7,149.0 633.7,149.0 634.6,149.0 635.5,149.0 636.4,149.0 637.3,149.0 638.3,149.0 639.2,149.0 640.0,149.0 640.1,149.0 641.0,149.0 641.9,149.0 642.9,149.0 643.8,149.0 644.7,149.0 645.6,149.0 646.5,149.0 647.0,149.0 647.5,149.0 648.4,149.0 649.3,149.0 650.2,149.0 651.1,149.0 652.0,149.0 652.0,149.0 653.0,149.0 653.9,149.0 654.8,149.0 655.7,149.0 656.6,149.0 656.6,149.0 657.6,149.0 658.5,149.0 659.4,149.0 660.3,149.0 661.2,149.0 662.2,149.0 663.1,149.0 664.0,149.0 664.0,149.0 664.9,149.0 665.8,149.0 666.8,149.0 667.7,149.0 668.6,149.0 669.5,149.0 670.4,149.0 671.3,149.0 672.0,149.0 672.3,149.0 673.2,149.0 674.1,149.0 675.0,149.0 675.9,149.0 676.7,149.0 676.9,149.0 677.8,149.0 677.8,149.0 678.4,149.7 L678.4,155.0 677.8,155.8 677.8,155.8 676.9,155.8 676.7,155.8 675.9,155.8 675.0,155.8 674.1,155.8 673.2,155.8 672.3,155.8 672.0,155.8 671.3,155.8 670.4,155.8 669.5,155.8 668.6,155.8 667.7,155.8 666.8,155.8 665.8,155.8 664.9,155.8 664.0,155.8 664.0,155.8 663.1,155.8 662.2,155.8 661.2,155.8 660.3,155.8 659.4,155.8 658.5,155.8 657.6,155.8 656.6,155.8 656.6,155.8 655.7,155.8 654.8,155.8 653.9,155.8 653.0,155.8 652.0,155.8 652.0,155.8 651.1,155.8 650.2,155.8 649.3,155.8 648.4,155.8 647.5,155.8 647.0,155.8 646.5,155.8 645.6,155.8 644.7,155.8 643.8,155.8 642.9,155.8 641.9,155.8 641.0,155.8 640.1,155.8 640.0,155.8 639.2,155.8 638.3,155.8 637.3,155.8 636.4,155.8 635.5,155.8 634.6,155.8 633.7,155.8 632.7,155.8 631.8,155.8 630.9,155.8 630.0,155.8 629.1,155.8 628.1,155.8 627.2,155.8 626.3,155.8 625.4,155.8 625.0,155.8 624.5,155.8 623.6,155.8 622.6,155.8 621.7,155.8 620.8,155.8 619.9,155.8 619.0,155.8 618.0,155.8 617.1,155.8 616.2,155.8 615.3,155.8 614.4,155.8 613.4,155.8 612.5,155.8 612.0,155.8 611.6,155.8 610.7,155.8 609.8,155.8 608.8,155.8 607.9,155.8 607.0,155.8 606.1,155.8 605.2,155.8 605.0,155.8 604.3,155.8 603.3,155.8 602.4,155.8 601.5,155.8 600.6,155.8 599.7,155.8 598.7,155.8 597.8,155.8 597.3,155.8 Z" fill="url(#g19)"/>
<path d="M601.6 153.3h.9v1.2h-.9zM603.5 150.2h.9v1.2h-.9zM608.6 148.9h.9v1.6h-.9zM610.9 148.7h.9v1.2h-.9zM611.6 153.3h.9v1.2h-.9zM613.0 148.7h.9v0.9h-.9zM614.8 151.2h.9v1.6h-.9zM615.7 153.8h.9v0.9h-.9zM616.2 149.0h.9v0.9h-.9zM617.2 153.3h.9v0.9h-.9zM618.8 151.5h.9v1.2h-.9zM619.4 151.2h.9v1.2h-.9zM620.1 151.8h.9v0.9h-.9zM621.3 150.9h.9v1.6h-.9zM622.1 154.3h.9v0.9h-.9zM623.2 153.0h.9v1.6h-.9zM623.3 151.2h.9v1.2h-.9zM624.6 149.4h.9v0.9h-.9zM625.1 151.9h.9v1.6h-.9zM625.8 155.2h.9v1.2h-.9zM626.7 154.5h.9v1.6h-.9zM627.1 149.1h.9v0.9h-.9zM628.0 151.0h.9v0.9h-.9zM628.7 151.7h.9v1.2h-.9zM629.9 151.3h.9v0.9h-.9zM630.7 149.4h.9v1.2h-.9zM631.1 149.9h.9v1.2h-.9zM631.9 152.1h.9v0.9h-.9zM633.0 153.3h.9v0.9h-.9zM633.4 153.3h.9v0.9h-.9zM634.2 153.0h.9v0.9h-.9zM635.3 153.0h.9v1.6h-.9zM635.8 148.7h.9v1.6h-.9zM636.5 150.1h.9v1.2h-.9zM637.3 150.8h.9v0.9h-.9zM637.6 150.3h.9v1.6h-.9zM638.6 151.2h.9v0.9h-.9zM639.6 151.3h.9v0.9h-.9zM640.2 150.9h.9v1.2h-.9zM641.1 148.7h.9v0.9h-.9zM641.4 154.3h.9v1.2h-.9zM642.3 154.9h.9v1.6h-.9zM642.8 152.7h.9v0.9h-.9zM643.5 150.4h.9v1.6h-.9zM644.2 151.6h.9v1.2h-.9zM645.0 154.6h.9v0.9h-.9zM645.7 152.6h.9v0.9h-.9zM646.7 153.2h.9v1.6h-.9zM647.5 153.2h.9v1.2h-.9zM648.6 155.0h.9v1.2h-.9zM649.5 152.9h.9v0.9h-.9zM650.2 149.4h.9v1.6h-.9zM651.2 151.9h.9v1.6h-.9zM652.0 154.7h.9v1.6h-.9zM652.8 149.5h.9v1.6h-.9zM653.9 149.0h.9v1.2h-.9zM655.0 149.0h.9v0.9h-.9zM656.3 149.1h.9v1.6h-.9zM657.1 149.7h.9v1.2h-.9zM657.4 153.7h.9v0.9h-.9zM659.0 152.6h.9v1.2h-.9zM659.4 153.4h.9v1.2h-.9zM661.0 152.3h.9v0.9h-.9zM662.2 151.0h.9v1.2h-.9zM663.1 153.8h.9v0.9h-.9zM663.6 149.8h.9v0.9h-.9zM665.0 151.0h.9v1.6h-.9zM665.8 151.4h.9v1.2h-.9zM667.4 153.1h.9v0.9h-.9zM668.6 153.6h.9v1.6h-.9zM669.7 152.3h.9v1.2h-.9zM670.4 152.6h.9v0.9h-.9zM671.9 150.5h.9v0.9h-.9zM672.6 152.5h.9v1.2h-.9zM674.7 154.1h.9v1.2h-.9zM675.9 151.5h.9v1.2h-.9zM676.0 153.5h.9v1.2h-.9zM677.9 152.0h.9v0.9h-.9z" fill="#BC3C29" fill-opacity="0.9"/>
<path d="M609.2 151.1h.8v4.5h-.8zM611.7 149.4h.8v6.3h-.8zM617.1 150.5h.8v5.0h-.8zM621.2 150.7h.8v4.8h-.8zM626.1 149.5h.8v5.9h-.8zM630.9 149.4h.8v5.0h-.8zM635.0 149.0h.8v5.6h-.8zM637.4 149.2h.8v6.4h-.8zM640.5 151.4h.8v3.6h-.8zM644.5 149.9h.8v5.5h-.8zM650.8 151.1h.8v3.1h-.8zM654.8 150.8h.8v4.1h-.8zM659.1 149.4h.8v6.1h-.8zM663.3 149.0h.8v6.7h-.8z" fill="#BC3C29" fill-opacity="0.8"/>
<path d="M619.0 149.7h1.2v.8h-1.2zM623.0 152.8h0.7v.8h-0.7zM629.4 150.8h1.2v.8h-1.2zM633.7 152.0h1.2v.8h-1.2zM637.0 154.1h1.2v.8h-1.2zM639.2 153.5h1.2v.8h-1.2zM641.7 149.8h0.7v.8h-0.7zM644.8 150.9h0.7v.8h-0.7zM645.6 151.8h0.7v.8h-0.7zM648.0 153.0h0.9v.8h-0.9zM648.5 149.3h0.7v.8h-0.7zM650.3 153.8h0.7v.8h-0.7zM651.0 153.7h0.7v.8h-0.7zM652.7 154.3h0.7v.8h-0.7zM653.0 150.4h0.9v.8h-0.9zM654.0 150.4h0.7v.8h-0.7zM655.6 153.6h0.9v.8h-0.9zM656.8 152.0h0.7v.8h-0.7zM657.4 150.6h1.2v.8h-1.2zM658.5 149.4h1.2v.8h-1.2zM659.8 150.4h0.9v.8h-0.9zM660.4 152.8h0.9v.8h-0.9zM661.5 153.1h1.2v.8h-1.2zM662.7 151.2h1.2v.8h-1.2zM663.4 154.1h0.7v.8h-0.7zM664.2 152.0h1.2v.8h-1.2zM665.9 152.0h1.2v.8h-1.2zM666.1 151.4h0.9v.8h-0.9zM667.9 151.4h0.9v.8h-0.9zM668.7 151.2h0.9v.8h-0.9zM669.3 153.6h0.7v.8h-0.7zM670.6 151.6h0.7v.8h-0.7zM670.8 150.5h0.7v.8h-0.7zM672.2 151.6h0.9v.8h-0.9zM672.9 154.1h0.9v.8h-0.9zM673.7 152.6h1.2v.8h-1.2zM675.1 149.9h1.2v.8h-1.2zM675.3 151.5h1.2v.8h-1.2zM676.9 151.7h0.7v.8h-0.7z" fill="#d98679" fill-opacity="0.85"/>
<circle cx="656.60" cy="152.36" r="2.35" fill="#BC3C29" stroke="#3a2220" stroke-width="1.2"/>
<path d="M609.1,174.3 609.3,171.9 609.9,171.6 610.7,171.5 611.0,171.5 611.4,171.5 612.2,171.5 613.0,171.4 613.8,171.3 614.6,171.2 615.0,171.1 615.4,171.1 616.1,171.1 616.9,171.1 617.7,171.1 618.5,171.1 619.3,171.1 620.0,171.1 620.8,171.1 621.6,171.1 622.4,171.1 623.2,171.1 624.0,171.1 624.7,171.1 625.0,171.1 625.5,171.1 626.3,171.2 627.1,171.2 627.9,171.2 628.7,171.2 629.4,171.2 630.2,171.2 631.0,171.2 631.8,171.2 632.6,171.3 633.3,171.3 634.1,171.3 634.9,171.3 635.7,171.3 636.5,171.3 637.3,171.3 638.0,171.3 638.8,171.3 639.6,171.3 640.0,171.2 640.4,171.2 641.2,171.1 641.9,171.1 642.7,171.0 643.5,170.8 644.3,170.7 645.1,170.5 645.9,170.4 646.6,170.2 647.4,170.0 648.2,169.8 649.0,169.6 649.8,169.4 650.0,169.3 650.5,169.2 651.3,168.9 652.1,168.7 652.9,168.5 653.7,168.3 654.5,168.1 655.2,167.8 656.0,167.6 656.8,167.5 657.6,167.3 658.4,167.2 659.1,167.1 659.9,167.0 660.7,167.0 660.7,167.0 661.5,167.0 662.3,167.0 663.1,167.1 663.8,167.2 664.6,167.3 665.4,167.4 666.2,167.6 667.0,167.7 667.8,167.9 668.0,168.0 668.5,168.1 669.3,168.3 670.1,168.4 670.9,168.6 671.7,168.8 672.4,169.0 673.2,169.2 674.0,169.4 674.0,169.5 674.8,169.7 675.6,169.9 676.4,170.1 676.7,170.1 677.1,170.1 677.8,170.1 677.9,170.2 678.4,171.1 678.7,174.3 L678.7,174.3 678.4,177.6 677.9,178.5 677.8,178.6 677.1,178.6 676.7,178.6 676.4,178.6 675.6,178.7 674.8,178.9 674.0,179.2 674.0,179.2 673.2,179.5 672.4,179.7 671.7,179.9 670.9,180.1 670.1,180.2 669.3,180.4 668.5,180.6 668.0,180.7 667.8,180.8 667.0,180.9 666.2,181.1 665.4,181.2 664.6,181.4 663.8,181.5 663.1,181.6 662.3,181.7 661.5,181.7 660.7,181.7 660.7,181.7 659.9,181.7 659.1,181.6 658.4,181.5 657.6,181.4 656.8,181.2 656.0,181.0 655.2,180.8 654.5,180.6 653.7,180.4 652.9,180.2 652.1,180.0 651.3,179.7 650.5,179.5 650.0,179.4 649.8,179.3 649.0,179.1 648.2,178.9 647.4,178.7 646.6,178.5 645.9,178.3 645.1,178.2 644.3,178.0 643.5,177.9 642.7,177.7 641.9,177.6 641.2,177.5 640.4,177.5 640.0,177.4 639.6,177.4 638.8,177.4 638.0,177.4 637.3,177.4 636.5,177.4 635.7,177.4 634.9,177.4 634.1,177.4 633.3,177.4 632.6,177.4 631.8,177.4 631.0,177.4 630.2,177.5 629.4,177.5 628.7,177.5 627.9,177.5 627.1,177.5 626.3,177.5 625.5,177.5 625.0,177.5 624.7,177.5 624.0,177.6 623.2,177.6 622.4,177.6 621.6,177.6 620.8,177.6 620.0,177.6 619.3,177.6 618.5,177.6 617.7,177.6 616.9,177.6 616.1,177.6 615.4,177.6 615.0,177.5 614.6,177.5 613.8,177.4 613.0,177.3 612.2,177.2 611.4,177.1 611.0,177.1 610.7,177.2 609.9,177.1 609.3,176.7 609.1,174.3 Z" fill="#d98679" stroke="#BC3C29" stroke-width="1.4" stroke-linejoin="round"/>
<path d="M609.1,174.3 609.3,171.9 609.9,171.6 610.7,171.5 611.0,171.5 611.4,171.5 612.2,171.5 613.0,171.4 613.8,171.3 614.6,171.2 615.0,171.1 615.4,171.1 616.1,171.1 616.9,171.1 617.7,171.1 618.5,171.1 619.3,171.1 620.0,171.1 620.8,171.1 621.6,171.1 622.4,171.1 623.2,171.1 624.0,171.1 624.7,171.1 625.0,171.1 625.5,171.1 626.3,171.2 627.1,171.2 627.9,171.2 628.7,171.2 629.4,171.2 630.2,171.2 631.0,171.2 631.8,171.2 632.6,171.3 633.3,171.3 634.1,171.3 634.9,171.3 635.7,171.3 636.5,171.3 637.3,171.3 638.0,171.3 638.8,171.3 639.6,171.3 640.0,171.2 640.4,171.2 641.2,171.1 641.9,171.1 642.7,171.0 643.5,170.9 644.3,170.9 645.1,170.9 645.9,170.9 646.6,170.9 647.4,170.9 648.2,170.9 649.0,170.9 649.8,170.9 650.0,170.9 650.5,170.9 651.3,170.9 652.1,170.9 652.9,170.9 653.7,170.9 654.5,170.9 655.2,170.9 656.0,170.9 656.8,170.9 657.6,170.9 658.4,170.9 659.1,170.9 659.9,170.9 660.7,170.9 660.7,170.9 661.5,170.9 662.3,170.9 663.1,170.9 663.8,170.9 664.6,170.9 665.4,170.9 666.2,170.9 667.0,170.9 667.8,170.9 668.0,170.9 668.5,170.9 669.3,170.9 670.1,170.9 670.9,170.9 671.7,170.9 672.4,170.9 673.2,170.9 674.0,170.9 674.0,170.9 674.8,170.9 675.6,170.9 676.4,170.9 676.7,170.9 677.1,170.9 677.8,170.9 677.9,170.9 678.4,171.1 L678.4,177.6 677.9,177.7 677.8,177.7 677.1,177.7 676.7,177.7 676.4,177.7 675.6,177.7 674.8,177.7 674.0,177.7 674.0,177.7 673.2,177.7 672.4,177.7 671.7,177.7 670.9,177.7 670.1,177.7 669.3,177.7 668.5,177.7 668.0,177.7 667.8,177.7 667.0,177.7 666.2,177.7 665.4,177.7 664.6,177.7 663.8,177.7 663.1,177.7 662.3,177.7 661.5,177.7 660.7,177.7 660.7,177.7 659.9,177.7 659.1,177.7 658.4,177.7 657.6,177.7 656.8,177.7 656.0,177.7 655.2,177.7 654.5,177.7 653.7,177.7 652.9,177.7 652.1,177.7 651.3,177.7 650.5,177.7 650.0,177.7 649.8,177.7 649.0,177.7 648.2,177.7 647.4,177.7 646.6,177.7 645.9,177.7 645.1,177.7 644.3,177.7 643.5,177.7 642.7,177.7 641.9,177.6 641.2,177.5 640.4,177.5 640.0,177.4 639.6,177.4 638.8,177.4 638.0,177.4 637.3,177.4 636.5,177.4 635.7,177.4 634.9,177.4 634.1,177.4 633.3,177.4 632.6,177.4 631.8,177.4 631.0,177.4 630.2,177.5 629.4,177.5 628.7,177.5 627.9,177.5 627.1,177.5 626.3,177.5 625.5,177.5 625.0,177.5 624.7,177.5 624.0,177.6 623.2,177.6 622.4,177.6 621.6,177.6 620.8,177.6 620.0,177.6 619.3,177.6 618.5,177.6 617.7,177.6 616.9,177.6 616.1,177.6 615.4,177.6 615.0,177.5 614.6,177.5 613.8,177.4 613.0,177.3 612.2,177.2 611.4,177.1 611.0,177.1 610.7,177.2 609.9,177.1 609.3,176.7 609.1,174.3 Z" fill="url(#g20)"/>
<path d="M609.0 175.9h.9v0.9h-.9zM611.9 172.0h.9v0.9h-.9zM613.1 174.9h.9v1.2h-.9zM613.9 175.3h.9v1.6h-.9zM616.6 171.7h.9v0.9h-.9zM617.1 176.2h.9v1.2h-.9zM619.7 172.2h.9v1.2h-.9zM621.1 176.9h.9v1.2h-.9zM623.0 172.9h.9v1.6h-.9zM623.6 174.6h.9v1.2h-.9zM626.4 176.8h.9v0.9h-.9zM628.0 176.0h.9v1.6h-.9zM629.6 173.8h.9v1.6h-.9zM630.8 171.9h.9v1.2h-.9zM631.7 174.6h.9v1.2h-.9zM634.2 174.5h.9v0.9h-.9zM635.1 171.1h.9v0.9h-.9zM636.8 173.1h.9v1.2h-.9zM638.2 176.6h.9v0.9h-.9zM639.0 174.1h.9v1.2h-.9zM641.4 171.8h.9v1.6h-.9zM642.6 174.8h.9v1.6h-.9zM643.4 173.6h.9v0.9h-.9zM645.1 176.6h.9v1.2h-.9zM646.2 173.8h.9v0.9h-.9zM648.0 170.8h.9v0.9h-.9zM650.2 171.7h.9v1.6h-.9zM650.8 171.8h.9v0.9h-.9zM652.2 176.8h.9v0.9h-.9zM654.2 173.0h.9v0.9h-.9zM654.6 172.9h.9v0.9h-.9zM656.0 177.0h.9v0.9h-.9zM658.3 172.0h.9v0.9h-.9zM658.8 174.7h.9v0.9h-.9zM660.8 176.8h.9v1.6h-.9zM662.4 176.6h.9v1.6h-.9zM663.4 171.7h.9v0.9h-.9zM664.1 173.7h.9v0.9h-.9zM665.7 172.3h.9v1.6h-.9zM667.4 175.2h.9v1.6h-.9zM669.3 172.2h.9v0.9h-.9zM670.2 171.8h.9v0.9h-.9zM671.6 172.4h.9v1.2h-.9zM672.8 171.5h.9v0.9h-.9zM673.7 175.3h.9v1.6h-.9zM675.4 172.5h.9v1.6h-.9zM675.9 173.2h.9v1.2h-.9zM677.7 172.4h.9v1.6h-.9z" fill="#BC3C29" fill-opacity="0.9"/>
<path d="M610.3 174.4h0.9v.8h-0.9zM612.6 174.3h1.2v.8h-1.2zM617.0 173.4h0.9v.8h-0.9zM617.9 174.0h0.9v.8h-0.9zM620.8 174.6h0.9v.8h-0.9zM622.9 172.1h1.2v.8h-1.2zM625.9 175.9h1.2v.8h-1.2zM626.5 175.4h0.9v.8h-0.9zM628.5 172.5h0.7v.8h-0.7zM632.2 172.6h0.7v.8h-0.7zM633.4 173.4h1.2v.8h-1.2zM635.7 175.1h1.2v.8h-1.2zM637.7 174.0h0.9v.8h-0.9zM640.0 173.0h1.2v.8h-1.2zM641.9 175.2h0.9v.8h-0.9zM643.4 172.3h0.9v.8h-0.9zM644.0 175.0h0.7v.8h-0.7zM647.0 175.2h0.7v.8h-0.7zM647.3 171.8h1.2v.8h-1.2zM650.3 174.3h0.7v.8h-0.7zM650.5 174.4h1.2v.8h-1.2zM653.3 176.3h0.9v.8h-0.9zM654.6 172.8h0.9v.8h-0.9zM655.2 173.7h0.7v.8h-0.7zM657.8 176.2h1.2v.8h-1.2zM659.0 172.0h0.9v.8h-0.9zM659.8 176.0h0.9v.8h-0.9zM662.3 173.2h0.9v.8h-0.9zM663.3 173.1h0.7v.8h-0.7zM664.5 176.5h1.2v.8h-1.2zM666.6 173.3h1.2v.8h-1.2zM666.9 172.6h1.2v.8h-1.2zM668.2 172.4h0.9v.8h-0.9zM670.5 174.9h1.2v.8h-1.2zM670.8 174.6h0.9v.8h-0.9zM673.0 172.5h1.2v.8h-1.2zM673.5 173.9h0.9v.8h-0.9zM675.5 172.8h0.9v.8h-0.9zM676.3 175.6h0.7v.8h-0.7z" fill="#d98679" fill-opacity="0.85"/>
<circle cx="653.10" cy="174.34" r="2.35" fill="#BC3C29" stroke="#3a2220" stroke-width="1.2"/>
<path d="M596.9,196.3 597.3,195.9 597.8,195.8 598.7,195.7 599.7,195.7 600.6,195.6 601.5,195.5 602.4,195.4 603.3,195.4 604.3,195.3 605.2,195.2 606.0,195.1 606.1,195.1 607.0,195.0 607.9,194.9 608.8,194.8 609.8,194.7 610.7,194.5 611.6,194.4 612.0,194.4 612.5,194.3 613.4,194.3 614.4,194.2 615.3,194.1 616.2,194.1 617.1,194.0 618.0,194.0 619.0,193.9 619.9,193.9 620.8,193.9 621.7,193.8 622.6,193.8 623.6,193.7 624.5,193.7 625.4,193.7 626.3,193.6 627.2,193.6 628.1,193.6 629.1,193.6 630.0,193.5 630.0,193.5 630.9,193.5 631.8,193.5 632.7,193.4 633.7,193.4 634.6,193.4 635.5,193.4 636.4,193.3 637.3,193.3 638.3,193.3 639.2,193.3 640.1,193.2 641.0,193.2 641.9,193.1 642.9,193.1 643.8,193.0 644.7,192.9 645.0,192.9 645.6,192.8 646.5,192.7 647.5,192.5 648.4,192.3 649.3,192.0 650.2,191.8 651.1,191.5 652.0,191.3 652.0,191.2 653.0,190.9 653.9,190.6 654.8,190.4 655.7,190.1 656.6,189.8 657.6,189.6 658.5,189.5 659.3,189.4 659.4,189.4 660.3,189.4 661.2,189.4 662.2,189.5 663.1,189.5 664.0,189.7 664.9,189.8 665.8,190.0 666.8,190.1 667.7,190.3 668.0,190.3 668.6,190.4 669.5,190.6 670.4,190.7 671.3,190.8 672.3,191.0 673.0,191.1 673.2,191.2 674.1,191.4 675.0,191.6 675.9,191.8 676.7,191.7 676.9,191.7 677.8,191.7 677.8,191.7 678.4,192.8 678.7,196.3 L678.7,196.3 678.4,199.8 677.8,200.9 677.8,200.9 676.9,200.9 676.7,200.9 675.9,200.9 675.0,201.0 674.1,201.3 673.2,201.5 673.0,201.5 672.3,201.6 671.3,201.8 670.4,201.9 669.5,202.1 668.6,202.2 668.0,202.3 667.7,202.4 666.8,202.5 665.8,202.7 664.9,202.8 664.0,203.0 663.1,203.1 662.2,203.2 661.2,203.3 660.3,203.3 659.4,203.2 659.3,203.2 658.5,203.2 657.6,203.0 656.6,202.8 655.7,202.6 654.8,202.3 653.9,202.0 653.0,201.7 652.0,201.4 652.0,201.4 651.1,201.1 650.2,200.8 649.3,200.6 648.4,200.4 647.5,200.2 646.5,200.0 645.6,199.8 645.0,199.7 644.7,199.7 643.8,199.6 642.9,199.5 641.9,199.5 641.0,199.4 640.1,199.4 639.2,199.4 638.3,199.3 637.3,199.3 636.4,199.3 635.5,199.3 634.6,199.2 633.7,199.2 632.7,199.2 631.8,199.2 630.9,199.1 630.0,199.1 630.0,199.1 629.1,199.1 628.1,199.1 627.2,199.0 626.3,199.0 625.4,199.0 624.5,198.9 623.6,198.9 622.6,198.9 621.7,198.8 620.8,198.8 619.9,198.8 619.0,198.7 618.0,198.7 617.1,198.6 616.2,198.6 615.3,198.5 614.4,198.5 613.4,198.4 612.5,198.3 612.0,198.2 611.6,198.2 610.7,198.1 609.8,198.0 608.8,197.9 607.9,197.7 607.0,197.6 606.1,197.5 606.0,197.5 605.2,197.4 604.3,197.3 603.3,197.3 602.4,197.2 601.5,197.1 600.6,197.0 599.7,197.0 598.7,196.9 597.8,196.8 597.3,196.7 596.9,196.3 Z" fill="#d98679" stroke="#BC3C29" stroke-width="1.4" stroke-linejoin="round"/>
<path d="M597.3,192.9 597.8,192.9 598.7,192.9 599.7,192.9 600.6,192.9 601.5,192.9 602.4,192.9 603.3,192.9 604.3,192.9 605.2,192.9 606.0,192.9 606.1,192.9 607.0,192.9 607.9,192.9 608.8,192.9 609.8,192.9 610.7,192.9 611.6,192.9 612.0,192.9 612.5,192.9 613.4,192.9 614.4,192.9 615.3,192.9 616.2,192.9 617.1,192.9 618.0,192.9 619.0,192.9 619.9,192.9 620.8,192.9 621.7,192.9 622.6,192.9 623.6,192.9 624.5,192.9 625.4,192.9 626.3,192.9 627.2,192.9 628.1,192.9 629.1,192.9 630.0,192.9 630.0,192.9 630.9,192.9 631.8,192.9 632.7,192.9 633.7,192.9 634.6,192.9 635.5,192.9 636.4,192.9 637.3,192.9 638.3,192.9 639.2,192.9 640.1,192.9 641.0,192.9 641.9,192.9 642.9,192.9 643.8,192.9 644.7,192.9 645.0,192.9 645.6,192.9 646.5,192.9 647.5,192.9 648.4,192.9 649.3,192.9 650.2,192.9 651.1,192.9 652.0,192.9 652.0,192.9 653.0,192.9 653.9,192.9 654.8,192.9 655.7,192.9 656.6,192.9 657.6,192.9 658.5,192.9 659.3,192.9 659.4,192.9 660.3,192.9 661.2,192.9 662.2,192.9 663.1,192.9 664.0,192.9 664.9,192.9 665.8,192.9 666.8,192.9 667.7,192.9 668.0,192.9 668.6,192.9 669.5,192.9 670.4,192.9 671.3,192.9 672.3,192.9 673.0,192.9 673.2,192.9 674.1,192.9 675.0,192.9 675.9,192.9 676.7,192.9 676.9,192.9 677.8,192.9 677.8,192.9 678.4,192.9 L678.4,199.7 677.8,199.7 677.8,199.7 676.9,199.7 676.7,199.7 675.9,199.7 675.0,199.7 674.1,199.7 673.2,199.7 673.0,199.7 672.3,199.7 671.3,199.7 670.4,199.7 669.5,199.7 668.6,199.7 668.0,199.7 667.7,199.7 666.8,199.7 665.8,199.7 664.9,199.7 664.0,199.7 663.1,199.7 662.2,199.7 661.2,199.7 660.3,199.7 659.4,199.7 659.3,199.7 658.5,199.7 657.6,199.7 656.6,199.7 655.7,199.7 654.8,199.7 653.9,199.7 653.0,199.7 652.0,199.7 652.0,199.7 651.1,199.7 650.2,199.7 649.3,199.7 648.4,199.7 647.5,199.7 646.5,199.7 645.6,199.7 645.0,199.7 644.7,199.7 643.8,199.7 642.9,199.7 641.9,199.7 641.0,199.7 640.1,199.7 639.2,199.7 638.3,199.7 637.3,199.7 636.4,199.7 635.5,199.7 634.6,199.7 633.7,199.7 632.7,199.7 631.8,199.7 630.9,199.7 630.0,199.7 630.0,199.7 629.1,199.7 628.1,199.7 627.2,199.7 626.3,199.7 625.4,199.7 624.5,199.7 623.6,199.7 622.6,199.7 621.7,199.7 620.8,199.7 619.9,199.7 619.0,199.7 618.0,199.7 617.1,199.7 616.2,199.7 615.3,199.7 614.4,199.7 613.4,199.7 612.5,199.7 612.0,199.7 611.6,199.7 610.7,199.7 609.8,199.7 608.8,199.7 607.9,199.7 607.0,199.7 606.1,199.7 606.0,199.7 605.2,199.7 604.3,199.7 603.3,199.7 602.4,199.7 601.5,199.7 600.6,199.7 599.7,199.7 598.7,199.7 597.8,199.7 597.3,199.7 Z" fill="url(#g21)"/>
<path d="M598.1 193.4h.9v1.2h-.9zM600.1 198.2h.9v1.6h-.9zM602.7 197.5h.9v0.9h-.9zM604.2 192.7h.9v1.6h-.9zM605.0 197.3h.9v0.9h-.9zM605.9 195.0h.9v0.9h-.9zM606.3 195.9h.9v1.2h-.9zM606.9 196.0h.9v1.6h-.9zM607.8 197.4h.9v1.6h-.9zM608.3 195.8h.9v1.6h-.9zM609.1 196.8h.9v1.2h-.9zM609.8 194.0h.9v1.2h-.9zM610.5 193.1h.9v1.2h-.9zM611.6 197.0h.9v1.6h-.9zM612.3 199.0h.9v1.6h-.9zM613.3 193.1h.9v0.9h-.9zM614.2 198.5h.9v1.2h-.9zM614.4 195.1h.9v1.2h-.9zM615.7 196.9h.9v1.6h-.9zM616.3 194.3h.9v0.9h-.9zM616.9 197.1h.9v1.2h-.9zM618.1 195.5h.9v1.6h-.9zM618.5 197.8h.9v1.6h-.9zM618.9 194.4h.9v1.6h-.9zM619.8 194.8h.9v1.6h-.9zM620.7 196.7h.9v1.6h-.9zM621.9 193.3h.9v0.9h-.9zM622.6 199.0h.9v0.9h-.9zM623.5 196.6h.9v1.2h-.9zM623.8 198.9h.9v1.6h-.9zM624.8 193.8h.9v0.9h-.9zM625.9 197.2h.9v1.2h-.9zM626.8 193.9h.9v1.6h-.9zM627.5 193.2h.9v0.9h-.9zM628.2 195.5h.9v1.2h-.9zM629.1 195.7h.9v1.6h-.9zM630.4 196.2h.9v1.6h-.9zM631.3 195.7h.9v1.2h-.9zM631.8 193.9h.9v0.9h-.9zM633.3 197.1h.9v0.9h-.9zM633.4 194.3h.9v1.2h-.9zM634.5 194.5h.9v1.2h-.9zM635.7 197.7h.9v0.9h-.9zM637.0 197.1h.9v1.6h-.9zM637.7 197.3h.9v1.6h-.9zM638.8 198.6h.9v1.6h-.9zM640.1 198.2h.9v1.2h-.9zM640.5 194.0h.9v0.9h-.9zM641.4 199.0h.9v1.2h-.9zM642.6 196.0h.9v1.2h-.9zM643.8 196.3h.9v1.6h-.9zM644.4 194.4h.9v0.9h-.9zM645.4 195.1h.9v1.2h-.9zM647.2 196.2h.9v1.6h-.9zM648.6 192.8h.9v1.2h-.9zM649.6 197.3h.9v0.9h-.9zM650.1 194.9h.9v0.9h-.9zM651.3 197.1h.9v1.6h-.9zM652.9 197.4h.9v1.2h-.9zM654.2 196.6h.9v1.2h-.9zM654.6 193.1h.9v1.2h-.9zM656.5 196.3h.9v1.6h-.9zM657.4 194.9h.9v1.2h-.9zM658.0 197.3h.9v1.6h-.9zM659.6 197.2h.9v1.2h-.9zM660.2 195.9h.9v1.2h-.9zM662.0 197.4h.9v0.9h-.9zM663.4 193.6h.9v1.2h-.9zM665.1 197.9h.9v0.9h-.9zM665.8 198.9h.9v0.9h-.9zM667.6 198.5h.9v0.9h-.9zM669.0 197.9h.9v0.9h-.9zM670.2 195.3h.9v0.9h-.9zM671.8 198.7h.9v0.9h-.9zM673.0 196.3h.9v1.6h-.9zM674.7 194.0h.9v0.9h-.9zM676.1 196.1h.9v1.6h-.9zM678.4 198.2h.9v1.2h-.9z" fill="#BC3C29" fill-opacity="0.9"/>
<path d="M599.5 194.9h.8v3.5h-.8zM602.5 193.0h.8v6.5h-.8zM605.4 193.0h.8v4.5h-.8zM609.7 196.0h.8v3.3h-.8zM612.4 193.5h.8v4.9h-.8zM613.6 194.1h.8v5.1h-.8zM617.5 193.3h.8v6.4h-.8zM621.8 194.7h.8v4.9h-.8zM622.7 194.3h.8v4.3h-.8zM627.0 196.1h.8v3.4h-.8zM629.8 194.1h.8v3.8h-.8zM632.9 196.5h.8v3.0h-.8zM635.6 194.3h.8v4.8h-.8zM639.1 193.0h.8v6.1h-.8z" fill="#BC3C29" fill-opacity="0.8"/>
<path d="M609.2 197.7h0.9v.8h-0.9zM610.2 195.7h0.9v.8h-0.9zM614.9 196.6h0.7v.8h-0.7zM615.0 194.8h0.7v.8h-0.7zM619.1 196.8h0.7v.8h-0.7zM620.0 195.2h1.2v.8h-1.2zM623.1 197.3h0.9v.8h-0.9zM624.9 195.8h0.9v.8h-0.9zM628.0 198.1h1.2v.8h-1.2zM628.8 196.1h0.9v.8h-0.9zM631.7 197.7h0.7v.8h-0.7zM634.0 195.6h1.2v.8h-1.2zM634.3 196.8h1.2v.8h-1.2zM637.3 194.7h1.2v.8h-1.2zM638.0 196.3h1.2v.8h-1.2zM641.0 196.7h0.7v.8h-0.7zM642.8 194.3h0.9v.8h-0.9zM643.3 196.1h0.7v.8h-0.7zM646.3 198.1h0.7v.8h-0.7zM647.2 194.3h1.2v.8h-1.2zM648.7 195.8h0.7v.8h-0.7zM651.4 197.6h0.9v.8h-0.9zM652.1 195.5h0.7v.8h-0.7zM653.4 193.4h0.7v.8h-0.7zM655.2 196.0h1.2v.8h-1.2zM657.7 195.7h0.7v.8h-0.7zM659.4 198.1h1.2v.8h-1.2zM660.1 196.7h0.9v.8h-0.9zM661.7 197.3h1.2v.8h-1.2zM663.4 195.2h0.7v.8h-0.7zM665.2 197.9h1.2v.8h-1.2zM665.5 197.6h1.2v.8h-1.2zM668.1 193.7h1.2v.8h-1.2zM669.8 196.7h0.7v.8h-0.7zM670.5 198.0h0.9v.8h-0.9zM672.0 196.7h1.2v.8h-1.2zM674.1 198.3h0.7v.8h-0.7zM674.8 194.6h1.2v.8h-1.2zM676.1 196.3h0.9v.8h-0.9z" fill="#d98679" fill-opacity="0.85"/>
<circle cx="658.20" cy="196.32" r="2.35" fill="#BC3C29" stroke="#3a2220" stroke-width="1.2"/>
<path d="M610.1,218.3 610.3,216.1 610.9,215.8 611.6,215.9 612.0,215.9 612.4,215.9 613.2,215.9 614.0,215.8 614.7,215.7 615.5,215.7 616.3,215.6 617.0,215.6 617.8,215.6 618.6,215.6 619.3,215.6 620.1,215.5 620.9,215.5 621.7,215.5 622.4,215.5 623.2,215.5 624.0,215.5 624.7,215.5 625.0,215.5 625.5,215.5 626.3,215.5 627.1,215.5 627.8,215.5 628.6,215.5 629.4,215.5 630.1,215.5 630.9,215.5 631.7,215.5 632.5,215.5 633.2,215.5 634.0,215.4 634.8,215.4 635.5,215.4 636.3,215.4 637.1,215.4 637.8,215.4 638.6,215.4 639.4,215.3 640.0,215.3 640.2,215.3 640.9,215.2 641.7,215.1 642.5,215.0 643.2,214.9 644.0,214.7 644.8,214.6 645.6,214.4 646.3,214.2 647.1,214.0 647.9,213.8 648.0,213.7 648.6,213.6 649.4,213.3 650.2,213.1 651.0,212.8 651.7,212.6 652.5,212.3 653.3,212.1 654.0,211.9 654.8,211.7 655.6,211.5 656.3,211.4 657.1,211.3 657.9,211.3 658.0,211.3 658.7,211.3 659.4,211.3 660.2,211.3 661.0,211.4 661.7,211.5 662.5,211.6 663.3,211.8 664.1,211.9 664.8,212.1 665.6,212.2 666.0,212.3 666.4,212.4 667.1,212.5 667.9,212.6 668.7,212.8 669.5,212.9 670.2,213.0 671.0,213.2 671.8,213.3 672.5,213.4 673.0,213.5 673.3,213.6 674.1,213.8 674.8,214.0 675.6,214.1 676.4,214.2 676.7,214.2 677.2,214.1 677.8,214.2 677.9,214.3 678.4,215.2 678.7,218.3 L678.7,218.3 678.4,221.4 677.9,222.3 677.8,222.4 677.2,222.5 676.7,222.4 676.4,222.4 675.6,222.5 674.8,222.6 674.1,222.8 673.3,223.0 673.0,223.1 672.5,223.2 671.8,223.3 671.0,223.4 670.2,223.6 669.5,223.7 668.7,223.8 667.9,224.0 667.1,224.1 666.4,224.2 666.0,224.3 665.6,224.4 664.8,224.5 664.1,224.7 663.3,224.8 662.5,225.0 661.7,225.1 661.0,225.2 660.2,225.3 659.4,225.3 658.7,225.3 658.0,225.3 657.9,225.3 657.1,225.3 656.3,225.2 655.6,225.1 654.8,224.9 654.0,224.7 653.3,224.5 652.5,224.3 651.7,224.0 651.0,223.8 650.2,223.5 649.4,223.3 648.6,223.0 648.0,222.9 647.9,222.8 647.1,222.6 646.3,222.4 645.6,222.2 644.8,222.0 644.0,221.9 643.2,221.7 642.5,221.6 641.7,221.5 640.9,221.4 640.2,221.3 640.0,221.3 639.4,221.3 638.6,221.2 637.8,221.2 637.1,221.2 636.3,221.2 635.5,221.2 634.8,221.2 634.0,221.2 633.2,221.1 632.5,221.1 631.7,221.1 630.9,221.1 630.1,221.1 629.4,221.1 628.6,221.1 627.8,221.1 627.1,221.1 626.3,221.1 625.5,221.1 625.0,221.1 624.7,221.1 624.0,221.1 623.2,221.1 622.4,221.1 621.7,221.1 620.9,221.1 620.1,221.1 619.3,221.0 618.6,221.0 617.8,221.0 617.0,221.0 616.3,221.0 615.5,220.9 614.7,220.9 614.0,220.8 613.2,220.7 612.4,220.7 612.0,220.7 611.6,220.7 610.9,220.8 610.3,220.5 610.1,218.3 Z" fill="#d98679" stroke="#BC3C29" stroke-width="1.4" stroke-linejoin="round"/>
<path d="M610.1,214.9 610.3,214.9 610.9,214.9 611.6,214.9 612.0,214.9 612.4,214.9 613.2,214.9 614.0,214.9 614.7,214.9 615.5,214.9 616.3,214.9 617.0,214.9 617.8,214.9 618.6,214.9 619.3,214.9 620.1,214.9 620.9,214.9 621.7,214.9 622.4,214.9 623.2,214.9 624.0,214.9 624.7,214.9 625.0,214.9 625.5,214.9 626.3,214.9 627.1,214.9 627.8,214.9 628.6,214.9 629.4,214.9 630.1,214.9 630.9,214.9 631.7,214.9 632.5,214.9 633.2,214.9 634.0,214.9 634.8,214.9 635.5,214.9 636.3,214.9 637.1,214.9 637.8,214.9 638.6,214.9 639.4,214.9 640.0,214.9 640.2,214.9 640.9,214.9 641.7,214.9 642.5,214.9 643.2,214.9 644.0,214.9 644.8,214.9 645.6,214.9 646.3,214.9 647.1,214.9 647.9,214.9 648.0,214.9 648.6,214.9 649.4,214.9 650.2,214.9 651.0,214.9 651.7,214.9 652.5,214.9 653.3,214.9 654.0,214.9 654.8,214.9 655.6,214.9 656.3,214.9 657.1,214.9 657.9,214.9 658.0,214.9 658.7,214.9 659.4,214.9 660.2,214.9 661.0,214.9 661.7,214.9 662.5,214.9 663.3,214.9 664.1,214.9 664.8,214.9 665.6,214.9 666.0,214.9 666.4,214.9 667.1,214.9 667.9,214.9 668.7,214.9 669.5,214.9 670.2,214.9 671.0,214.9 671.8,214.9 672.5,214.9 673.0,214.9 673.3,214.9 674.1,214.9 674.8,214.9 675.6,214.9 676.4,214.9 676.7,214.9 677.2,214.9 677.8,214.9 677.9,214.9 678.4,215.2 L678.4,221.4 677.9,221.7 677.8,221.7 677.2,221.7 676.7,221.7 676.4,221.7 675.6,221.7 674.8,221.7 674.1,221.7 673.3,221.7 673.0,221.7 672.5,221.7 671.8,221.7 671.0,221.7 670.2,221.7 669.5,221.7 668.7,221.7 667.9,221.7 667.1,221.7 666.4,221.7 666.0,221.7 665.6,221.7 664.8,221.7 664.1,221.7 663.3,221.7 662.5,221.7 661.7,221.7 661.0,221.7 660.2,221.7 659.4,221.7 658.7,221.7 658.0,221.7 657.9,221.7 657.1,221.7 656.3,221.7 655.6,221.7 654.8,221.7 654.0,221.7 653.3,221.7 652.5,221.7 651.7,221.7 651.0,221.7 650.2,221.7 649.4,221.7 648.6,221.7 648.0,221.7 647.9,221.7 647.1,221.7 646.3,221.7 645.6,221.7 644.8,221.7 644.0,221.7 643.2,221.7 642.5,221.7 641.7,221.7 640.9,221.7 640.2,221.7 640.0,221.7 639.4,221.7 638.6,221.7 637.8,221.7 637.1,221.7 636.3,221.7 635.5,221.7 634.8,221.7 634.0,221.7 633.2,221.7 632.5,221.7 631.7,221.7 630.9,221.7 630.1,221.7 629.4,221.7 628.6,221.7 627.8,221.7 627.1,221.7 626.3,221.7 625.5,221.7 625.0,221.7 624.7,221.7 624.0,221.7 623.2,221.7 622.4,221.7 621.7,221.7 620.9,221.7 620.1,221.7 619.3,221.7 618.6,221.7 617.8,221.7 617.0,221.7 616.3,221.7 615.5,221.7 614.7,221.7 614.0,221.7 613.2,221.7 612.4,221.7 612.0,221.7 611.6,221.7 610.9,221.7 610.3,221.7 610.1,221.7 Z" fill="url(#g22)"/>
<path d="M610.6 215.7h.9v1.2h-.9zM612.0 215.4h.9v1.6h-.9zM612.7 219.5h.9v1.2h-.9zM614.2 214.9h.9v1.6h-.9zM614.9 220.7h.9v1.6h-.9zM616.2 215.8h.9v0.9h-.9zM618.5 219.3h.9v0.9h-.9zM619.6 217.5h.9v1.6h-.9zM620.7 218.6h.9v0.9h-.9zM621.1 219.5h.9v0.9h-.9zM622.9 216.5h.9v1.6h-.9zM624.2 220.0h.9v1.6h-.9zM625.1 219.5h.9v0.9h-.9zM626.2 218.4h.9v1.2h-.9zM627.8 218.3h.9v0.9h-.9zM628.1 217.1h.9v0.9h-.9zM629.8 220.9h.9v1.6h-.9zM630.7 217.1h.9v1.6h-.9zM632.1 216.2h.9v0.9h-.9zM633.3 218.2h.9v1.6h-.9zM634.3 220.6h.9v1.2h-.9zM636.0 220.6h.9v0.9h-.9zM637.1 218.4h.9v1.6h-.9zM638.1 217.1h.9v0.9h-.9zM639.3 219.5h.9v1.6h-.9zM640.0 218.2h.9v0.9h-.9zM640.9 219.9h.9v1.6h-.9zM642.6 220.0h.9v1.6h-.9zM643.0 219.2h.9v1.2h-.9zM644.6 220.9h.9v1.6h-.9zM645.8 218.8h.9v0.9h-.9zM646.3 220.9h.9v0.9h-.9zM647.6 218.8h.9v0.9h-.9zM649.2 216.0h.9v1.2h-.9zM650.5 218.7h.9v1.2h-.9zM651.1 219.6h.9v1.2h-.9zM652.4 217.4h.9v1.2h-.9zM653.7 215.7h.9v1.6h-.9zM654.7 216.9h.9v0.9h-.9zM655.6 219.7h.9v0.9h-.9zM657.0 215.9h.9v0.9h-.9zM658.1 214.7h.9v1.6h-.9zM659.4 220.3h.9v1.2h-.9zM660.2 220.9h.9v1.6h-.9zM661.4 220.2h.9v0.9h-.9zM662.0 219.8h.9v1.2h-.9zM663.1 219.3h.9v1.2h-.9zM664.9 218.2h.9v1.2h-.9zM665.4 218.8h.9v1.2h-.9zM666.7 219.5h.9v0.9h-.9zM668.4 216.7h.9v1.6h-.9zM668.6 215.9h.9v1.2h-.9zM670.4 219.1h.9v1.2h-.9zM671.0 218.5h.9v1.2h-.9zM672.5 221.0h.9v1.6h-.9zM673.8 217.3h.9v1.2h-.9zM675.0 217.3h.9v1.2h-.9zM676.0 215.4h.9v1.2h-.9zM676.9 214.7h.9v0.9h-.9zM678.0 215.5h.9v0.9h-.9z" fill="#BC3C29" fill-opacity="0.9"/>
<path d="M612.1 216.1h1.2v.8h-1.2zM615.9 216.4h1.2v.8h-1.2zM617.1 216.9h1.2v.8h-1.2zM621.9 217.2h1.2v.8h-1.2zM623.5 220.2h0.9v.8h-0.9zM625.3 217.0h1.2v.8h-1.2zM627.3 217.8h1.2v.8h-1.2zM629.2 216.1h0.9v.8h-0.9zM631.1 216.4h0.9v.8h-0.9zM633.4 216.4h0.7v.8h-0.7zM635.5 218.2h0.7v.8h-0.7zM637.7 216.8h0.7v.8h-0.7zM639.1 216.7h1.2v.8h-1.2zM640.2 218.0h1.2v.8h-1.2zM642.0 215.3h1.2v.8h-1.2zM643.4 219.7h0.7v.8h-0.7zM645.0 215.5h0.9v.8h-0.9zM647.0 217.4h0.9v.8h-0.9zM649.0 220.4h1.2v.8h-1.2zM649.8 216.1h0.7v.8h-0.7zM652.3 215.5h1.2v.8h-1.2zM653.9 217.8h0.9v.8h-0.9zM654.8 218.5h1.2v.8h-1.2zM655.4 217.2h0.9v.8h-0.9zM657.0 216.4h0.7v.8h-0.7zM658.8 218.8h0.9v.8h-0.9zM660.8 218.3h1.2v.8h-1.2zM662.2 217.1h0.9v.8h-0.9zM663.2 218.5h1.2v.8h-1.2zM664.7 219.6h0.7v.8h-0.7zM665.0 217.9h1.2v.8h-1.2zM666.9 217.3h0.9v.8h-0.9zM668.2 218.5h0.9v.8h-0.9zM669.2 217.9h0.7v.8h-0.7zM671.0 215.8h0.9v.8h-0.9zM672.4 219.9h1.2v.8h-1.2zM674.3 215.9h1.2v.8h-1.2zM674.4 219.1h0.9v.8h-0.9zM676.1 217.5h1.2v.8h-1.2z" fill="#d98679" fill-opacity="0.85"/>
<circle cx="656.60" cy="218.30" r="2.35" fill="#BC3C29" stroke="#3a2220" stroke-width="1.2"/>
<path d="M608.7,240.3 609.1,239.9 609.5,239.7 610.3,239.5 611.1,239.4 611.8,239.2 612.6,239.1 613.4,239.0 614.2,238.9 615.0,238.8 615.0,238.8 615.8,238.7 616.6,238.7 617.4,238.6 618.1,238.5 618.9,238.4 619.7,238.4 620.5,238.3 621.3,238.3 622.1,238.2 622.9,238.2 623.6,238.1 624.4,238.1 625.2,238.0 626.0,238.0 626.8,238.0 627.6,237.9 628.4,237.9 629.1,237.8 629.9,237.8 630.0,237.8 630.7,237.7 631.5,237.7 632.3,237.7 633.1,237.6 633.9,237.6 634.7,237.6 635.4,237.5 636.2,237.5 637.0,237.5 637.8,237.4 638.6,237.4 639.4,237.4 640.2,237.3 640.9,237.3 641.7,237.2 642.5,237.1 643.3,237.1 644.1,237.0 644.9,236.8 645.0,236.8 645.7,236.7 646.5,236.5 647.2,236.4 648.0,236.2 648.8,235.9 649.6,235.7 650.4,235.5 651.0,235.3 651.2,235.2 652.0,234.9 652.7,234.7 653.5,234.4 654.3,234.2 655.1,234.0 655.9,233.8 656.7,233.7 657.5,233.6 658.0,233.6 658.3,233.5 659.0,233.5 659.8,233.5 660.6,233.6 661.4,233.6 662.2,233.7 663.0,233.8 663.8,233.9 664.5,234.0 665.0,234.0 665.3,234.1 666.1,234.1 666.9,234.2 667.7,234.3 668.5,234.3 669.3,234.4 670.0,234.4 670.8,234.5 671.0,234.5 671.6,234.6 672.4,234.7 673.2,234.9 674.0,235.1 674.8,235.3 675.6,235.5 676.3,235.6 676.7,235.7 677.1,235.6 677.8,235.7 677.9,235.8 678.4,236.8 678.7,240.3 L678.7,240.3 678.4,243.8 677.9,244.8 677.8,244.9 677.1,244.9 676.7,244.9 676.3,244.9 675.6,245.0 674.8,245.2 674.0,245.5 673.2,245.7 672.4,245.8 671.6,246.0 671.0,246.0 670.8,246.0 670.0,246.1 669.3,246.2 668.5,246.2 667.7,246.3 666.9,246.4 666.1,246.4 665.3,246.5 665.0,246.5 664.5,246.6 663.8,246.7 663.0,246.8 662.2,246.8 661.4,246.9 660.6,247.0 659.8,247.0 659.0,247.0 658.3,247.0 658.0,247.0 657.5,247.0 656.7,246.9 655.9,246.7 655.1,246.5 654.3,246.3 653.5,246.1 652.7,245.9 652.0,245.6 651.2,245.4 651.0,245.3 650.4,245.1 649.6,244.9 648.8,244.6 648.0,244.4 647.2,244.2 646.5,244.0 645.7,243.9 645.0,243.7 644.9,243.7 644.1,243.6 643.3,243.5 642.5,243.4 641.7,243.4 640.9,243.3 640.2,243.2 639.4,243.2 638.6,243.2 637.8,243.1 637.0,243.1 636.2,243.1 635.4,243.0 634.7,243.0 633.9,243.0 633.1,242.9 632.3,242.9 631.5,242.8 630.7,242.8 630.0,242.8 629.9,242.8 629.1,242.7 628.4,242.7 627.6,242.6 626.8,242.6 626.0,242.6 625.2,242.5 624.4,242.5 623.6,242.4 622.9,242.4 622.1,242.3 621.3,242.3 620.5,242.2 619.7,242.2 618.9,242.1 618.1,242.0 617.4,242.0 616.6,241.9 615.8,241.8 615.0,241.7 615.0,241.7 614.2,241.6 613.4,241.5 612.6,241.4 611.8,241.3 611.1,241.2 610.3,241.1 609.5,240.8 609.1,240.7 608.7,240.3 Z" fill="#d98679" stroke="#BC3C29" stroke-width="1.4" stroke-linejoin="round"/>
<path d="M609.1,236.9 609.5,236.9 610.3,236.9 611.1,236.9 611.8,236.9 612.6,236.9 613.4,236.9 614.2,236.9 615.0,236.9 615.0,236.9 615.8,236.9 616.6,236.9 617.4,236.9 618.1,236.9 618.9,236.9 619.7,236.9 620.5,236.9 621.3,236.9 622.1,236.9 622.9,236.9 623.6,236.9 624.4,236.9 625.2,236.9 626.0,236.9 626.8,236.9 627.6,236.9 628.4,236.9 629.1,236.9 629.9,236.9 630.0,236.9 630.7,236.9 631.5,236.9 632.3,236.9 633.1,236.9 633.9,236.9 634.7,236.9 635.4,236.9 636.2,236.9 637.0,236.9 637.8,236.9 638.6,236.9 639.4,236.9 640.2,236.9 640.9,236.9 641.7,236.9 642.5,236.9 643.3,236.9 644.1,236.9 644.9,236.9 645.0,236.9 645.7,236.9 646.5,236.9 647.2,236.9 648.0,236.9 648.8,236.9 649.6,236.9 650.4,236.9 651.0,236.9 651.2,236.9 652.0,236.9 652.7,236.9 653.5,236.9 654.3,236.9 655.1,236.9 655.9,236.9 656.7,236.9 657.5,236.9 658.0,236.9 658.3,236.9 659.0,236.9 659.8,236.9 660.6,236.9 661.4,236.9 662.2,236.9 663.0,236.9 663.8,236.9 664.5,236.9 665.0,236.9 665.3,236.9 666.1,236.9 666.9,236.9 667.7,236.9 668.5,236.9 669.3,236.9 670.0,236.9 670.8,236.9 671.0,236.9 671.6,236.9 672.4,236.9 673.2,236.9 674.0,236.9 674.8,236.9 675.6,236.9 676.3,236.9 676.7,236.9 677.1,236.9 677.8,236.9 677.9,236.9 678.4,236.9 L678.4,243.7 677.9,243.7 677.8,243.7 677.1,243.7 676.7,243.7 676.3,243.7 675.6,243.7 674.8,243.7 674.0,243.7 673.2,243.7 672.4,243.7 671.6,243.7 671.0,243.7 670.8,243.7 670.0,243.7 669.3,243.7 668.5,243.7 667.7,243.7 666.9,243.7 666.1,243.7 665.3,243.7 665.0,243.7 664.5,243.7 663.8,243.7 663.0,243.7 662.2,243.7 661.4,243.7 660.6,243.7 659.8,243.7 659.0,243.7 658.3,243.7 658.0,243.7 657.5,243.7 656.7,243.7 655.9,243.7 655.1,243.7 654.3,243.7 653.5,243.7 652.7,243.7 652.0,243.7 651.2,243.7 651.0,243.7 650.4,243.7 649.6,243.7 648.8,243.7 648.0,243.7 647.2,243.7 646.5,243.7 645.7,243.7 645.0,243.7 644.9,243.7 644.1,243.7 643.3,243.7 642.5,243.7 641.7,243.7 640.9,243.7 640.2,243.7 639.4,243.7 638.6,243.7 637.8,243.7 637.0,243.7 636.2,243.7 635.4,243.7 634.7,243.7 633.9,243.7 633.1,243.7 632.3,243.7 631.5,243.7 630.7,243.7 630.0,243.7 629.9,243.7 629.1,243.7 628.4,243.7 627.6,243.7 626.8,243.7 626.0,243.7 625.2,243.7 624.4,243.7 623.6,243.7 622.9,243.7 622.1,243.7 621.3,243.7 620.5,243.7 619.7,243.7 618.9,243.7 618.1,243.7 617.4,243.7 616.6,243.7 615.8,243.7 615.0,243.7 615.0,243.7 614.2,243.7 613.4,243.7 612.6,243.7 611.8,243.7 611.1,243.7 610.3,243.7 609.5,243.7 609.1,243.7 Z" fill="url(#g23)"/>
<path d="M609.7 236.8h.9v0.9h-.9zM611.0 237.2h.9v0.9h-.9zM612.5 238.4h.9v1.6h-.9zM613.1 237.9h.9v0.9h-.9zM613.4 241.0h.9v1.6h-.9zM614.4 237.3h.9v1.2h-.9zM615.3 237.2h.9v0.9h-.9zM615.8 240.0h.9v0.9h-.9zM616.8 237.0h.9v0.9h-.9zM617.6 241.7h.9v0.9h-.9zM617.9 238.7h.9v0.9h-.9zM618.8 238.5h.9v1.6h-.9zM620.0 240.5h.9v0.9h-.9zM620.2 242.9h.9v1.2h-.9zM621.0 238.4h.9v1.2h-.9zM622.3 238.0h.9v1.6h-.9zM623.0 239.0h.9v0.9h-.9zM623.6 241.6h.9v0.9h-.9zM624.7 242.6h.9v1.2h-.9zM625.0 237.6h.9v1.2h-.9zM625.6 236.8h.9v0.9h-.9zM627.0 238.6h.9v0.9h-.9zM627.7 238.7h.9v1.6h-.9zM628.3 241.4h.9v1.2h-.9zM629.3 241.0h.9v1.6h-.9zM629.7 241.4h.9v1.2h-.9zM630.7 239.1h.9v1.2h-.9zM631.8 239.4h.9v1.2h-.9zM632.9 242.7h.9v0.9h-.9zM633.3 236.9h.9v1.2h-.9zM633.9 236.7h.9v1.6h-.9zM634.8 236.7h.9v1.6h-.9zM635.9 241.9h.9v0.9h-.9zM637.1 239.9h.9v1.2h-.9zM638.0 241.1h.9v1.2h-.9zM639.0 240.8h.9v1.2h-.9zM640.1 241.9h.9v0.9h-.9zM640.8 240.0h.9v1.6h-.9zM641.8 238.7h.9v1.2h-.9zM642.7 237.3h.9v0.9h-.9zM643.7 239.3h.9v1.6h-.9zM644.8 237.8h.9v1.6h-.9zM646.0 242.6h.9v1.6h-.9zM646.2 241.5h.9v1.2h-.9zM647.6 238.4h.9v1.6h-.9zM648.1 239.9h.9v0.9h-.9zM649.2 239.6h.9v1.6h-.9zM650.9 240.5h.9v1.6h-.9zM651.4 242.7h.9v1.2h-.9zM652.6 238.4h.9v0.9h-.9zM653.3 240.6h.9v0.9h-.9zM654.6 239.9h.9v0.9h-.9zM655.2 242.8h.9v0.9h-.9zM656.8 238.0h.9v0.9h-.9zM658.3 240.8h.9v1.2h-.9zM659.1 237.2h.9v1.2h-.9zM660.2 240.1h.9v1.6h-.9zM661.2 242.8h.9v1.2h-.9zM662.0 241.3h.9v1.2h-.9zM663.6 236.8h.9v0.9h-.9zM664.3 243.0h.9v1.6h-.9zM665.4 240.1h.9v1.2h-.9zM666.8 240.3h.9v1.2h-.9zM668.5 242.7h.9v1.6h-.9zM669.4 240.4h.9v0.9h-.9zM670.5 238.0h.9v1.6h-.9zM671.1 239.4h.9v1.6h-.9zM673.1 241.4h.9v1.6h-.9zM673.9 239.2h.9v1.2h-.9zM675.4 237.7h.9v0.9h-.9zM676.6 239.1h.9v1.2h-.9zM678.2 237.3h.9v1.2h-.9z" fill="#BC3C29" fill-opacity="0.9"/>
<path d="M612.0 239.6h.8v2.0h-.8zM615.9 237.1h.8v3.6h-.8zM619.7 237.1h.8v2.9h-.8zM621.2 240.8h.8v2.3h-.8zM624.6 236.9h.8v6.6h-.8zM628.2 237.0h.8v5.2h-.8zM633.3 237.2h.8v3.6h-.8zM637.5 236.9h.8v6.8h-.8zM639.6 239.9h.8v2.1h-.8zM642.8 237.6h.8v3.3h-.8zM647.1 237.1h.8v6.2h-.8zM649.8 237.0h.8v6.6h-.8zM653.9 237.1h.8v5.7h-.8zM656.1 237.2h.8v2.5h-.8z" fill="#BC3C29" fill-opacity="0.8"/>
<path d="M615.4 240.9h1.2v.8h-1.2zM617.2 238.4h1.2v.8h-1.2zM621.2 238.5h1.2v.8h-1.2zM622.8 238.3h0.7v.8h-0.7zM624.6 240.8h0.9v.8h-0.9zM628.0 242.2h1.2v.8h-1.2zM630.2 241.2h1.2v.8h-1.2zM631.2 238.6h1.2v.8h-1.2zM632.8 240.7h1.2v.8h-1.2zM636.0 239.1h0.9v.8h-0.9zM636.5 241.5h0.9v.8h-0.9zM638.1 239.8h0.9v.8h-0.9zM639.9 238.5h0.7v.8h-0.7zM641.3 238.7h1.2v.8h-1.2zM642.9 237.7h1.2v.8h-1.2zM645.5 239.1h0.9v.8h-0.9zM645.7 239.0h0.9v.8h-0.9zM648.3 239.6h0.9v.8h-0.9zM649.4 240.6h0.7v.8h-0.7zM650.1 242.1h0.9v.8h-0.9zM651.7 241.5h1.2v.8h-1.2zM653.9 240.2h0.7v.8h-0.7zM655.2 239.1h1.2v.8h-1.2zM656.2 238.1h1.2v.8h-1.2zM657.7 240.3h0.7v.8h-0.7zM659.9 237.6h0.7v.8h-0.7zM661.0 237.5h1.2v.8h-1.2zM662.3 240.6h1.2v.8h-1.2zM664.0 238.1h0.9v.8h-0.9zM664.4 241.6h1.2v.8h-1.2zM665.9 240.7h1.2v.8h-1.2zM667.9 240.0h1.2v.8h-1.2zM668.7 242.1h1.2v.8h-1.2zM670.0 237.9h1.2v.8h-1.2zM671.7 238.8h0.7v.8h-0.7zM673.2 239.9h0.9v.8h-0.9zM674.4 242.2h0.7v.8h-0.7zM675.5 237.6h0.7v.8h-0.7zM676.3 240.4h0.7v.8h-0.7z" fill="#d98679" fill-opacity="0.85"/>
<circle cx="659.30" cy="240.28" r="2.35" fill="#BC3C29" stroke="#3a2220" stroke-width="1.2"/>
<path d="M565.2,262.3 565.4,259.5 566.5,259.5 567.8,259.6 569.0,259.6 570.3,259.4 571.6,259.3 572.9,259.3 574.1,259.2 575.0,259.1 575.4,259.1 576.7,259.0 578.0,258.8 579.2,258.5 580.5,258.3 581.8,258.0 582.0,258.0 583.1,257.8 584.3,257.5 585.6,257.3 586.9,257.0 588.2,256.8 589.4,256.6 590.0,256.5 590.7,256.4 592.0,256.2 593.3,256.1 594.5,255.9 595.8,255.8 596.0,255.8 597.1,255.7 598.4,255.7 599.6,255.6 600.9,255.6 602.0,255.6 602.2,255.6 603.5,255.7 604.7,255.8 606.0,255.9 607.3,256.0 608.0,256.1 608.6,256.2 609.8,256.5 611.1,256.7 612.4,257.0 613.7,257.3 614.9,257.6 615.0,257.7 616.2,258.0 617.5,258.2 618.8,258.5 620.0,258.7 621.0,258.8 621.3,258.9 622.6,259.0 623.9,259.0 625.1,259.1 626.4,259.1 627.7,259.1 629.0,259.2 630.2,259.2 631.5,259.2 632.8,259.2 634.1,259.2 635.3,259.2 636.6,259.2 637.9,259.3 639.2,259.3 640.0,259.3 640.4,259.3 641.7,259.3 643.0,259.3 644.3,259.3 645.5,259.3 646.8,259.3 648.1,259.3 649.4,259.3 650.6,259.3 651.9,259.3 653.2,259.3 654.5,259.3 655.7,259.3 657.0,259.3 658.3,259.3 659.6,259.3 660.8,259.3 662.1,259.3 663.4,259.3 664.7,259.3 665.9,259.3 667.2,259.3 668.5,259.3 669.8,259.2 670.0,259.2 671.0,259.2 672.3,259.2 673.6,259.3 674.9,259.4 676.1,259.4 677.4,259.2 678.2,259.1 678.7,262.3 L678.7,262.3 678.2,265.5 677.4,265.4 676.1,265.1 674.9,265.1 673.6,265.3 672.3,265.3 671.0,265.3 670.0,265.3 669.8,265.3 668.5,265.3 667.2,265.3 665.9,265.3 664.7,265.3 663.4,265.3 662.1,265.3 660.8,265.3 659.6,265.3 658.3,265.3 657.0,265.3 655.7,265.3 654.5,265.3 653.2,265.3 651.9,265.3 650.6,265.3 649.4,265.3 648.1,265.3 646.8,265.3 645.5,265.3 644.3,265.3 643.0,265.3 641.7,265.3 640.4,265.3 640.0,265.3 639.2,265.3 637.9,265.3 636.6,265.3 635.3,265.3 634.1,265.3 632.8,265.3 631.5,265.3 630.2,265.3 629.0,265.4 627.7,265.4 626.4,265.4 625.1,265.4 623.9,265.5 622.6,265.6 621.3,265.7 621.0,265.7 620.0,265.8 618.8,266.0 617.5,266.3 616.2,266.6 615.0,266.9 614.9,266.9 613.7,267.2 612.4,267.5 611.1,267.8 609.8,268.1 608.6,268.3 608.0,268.4 607.3,268.5 606.0,268.6 604.7,268.8 603.5,268.8 602.2,268.9 602.0,268.9 600.9,268.9 599.6,268.9 598.4,268.8 597.1,268.8 596.0,268.7 595.8,268.7 594.5,268.6 593.3,268.5 592.0,268.3 590.7,268.1 590.0,268.0 589.4,267.9 588.2,267.7 586.9,267.5 585.6,267.3 584.3,267.0 583.1,266.8 582.0,266.5 581.8,266.5 580.5,266.2 579.2,266.0 578.0,265.8 576.7,265.6 575.4,265.4 575.0,265.4 574.1,265.3 572.9,265.2 571.6,265.2 570.3,265.1 569.0,265.0 567.8,264.9 566.5,265.0 565.4,265.1 565.2,262.3 Z" fill="#a9c3cf" stroke="#6F99AD" stroke-width="1.4" stroke-linejoin="round"/>
<path d="M565.2,258.9 565.4,258.9 566.5,258.9 567.8,258.9 569.0,258.9 570.3,258.9 571.6,258.9 572.9,258.9 574.1,258.9 575.0,258.9 575.4,258.9 576.7,258.9 578.0,258.9 579.2,258.9 580.5,258.9 581.8,258.9 582.0,258.9 583.1,258.9 584.3,258.9 585.6,258.9 586.9,258.9 588.2,258.9 589.4,258.9 590.0,258.9 590.7,258.9 592.0,258.9 593.3,258.9 594.5,258.9 595.8,258.9 596.0,258.9 597.1,258.9 598.4,258.9 599.6,258.9 600.9,258.9 602.0,258.9 602.2,258.9 603.5,258.9 604.7,258.9 606.0,258.9 607.3,258.9 608.0,258.9 608.6,258.9 609.8,258.9 611.1,258.9 612.4,258.9 613.7,258.9 614.9,258.9 615.0,258.9 616.2,258.9 617.5,258.9 618.8,258.9 620.0,258.9 621.0,258.9 621.3,258.9 622.6,258.9 623.9,258.9 625.1,258.9 626.4,258.9 627.7,258.9 629.0,258.9 630.2,258.9 631.5,258.9 632.8,258.9 634.1,258.9 635.3,258.9 636.6,258.9 637.9,258.9 639.2,258.9 640.0,258.9 640.4,258.9 641.7,258.9 643.0,258.9 644.3,258.9 645.5,258.9 646.8,258.9 648.1,258.9 649.4,258.9 650.6,258.9 651.9,258.9 653.2,258.9 654.5,258.9 655.7,258.9 657.0,258.9 658.3,258.9 659.6,258.9 660.8,258.9 662.1,258.9 663.4,258.9 664.7,258.9 665.9,258.9 667.2,258.9 668.5,258.9 669.8,258.9 670.0,258.9 671.0,258.9 672.3,258.9 673.6,258.9 674.9,258.9 676.1,258.9 677.4,258.9 678.2,259.1 L678.2,265.5 677.4,265.7 676.1,265.7 674.9,265.7 673.6,265.7 672.3,265.7 671.0,265.7 670.0,265.7 669.8,265.7 668.5,265.7 667.2,265.7 665.9,265.7 664.7,265.7 663.4,265.7 662.1,265.7 660.8,265.7 659.6,265.7 658.3,265.7 657.0,265.7 655.7,265.7 654.5,265.7 653.2,265.7 651.9,265.7 650.6,265.7 649.4,265.7 648.1,265.7 646.8,265.7 645.5,265.7 644.3,265.7 643.0,265.7 641.7,265.7 640.4,265.7 640.0,265.7 639.2,265.7 637.9,265.7 636.6,265.7 635.3,265.7 634.1,265.7 632.8,265.7 631.5,265.7 630.2,265.7 629.0,265.7 627.7,265.7 626.4,265.7 625.1,265.7 623.9,265.7 622.6,265.7 621.3,265.7 621.0,265.7 620.0,265.7 618.8,265.7 617.5,265.7 616.2,265.7 615.0,265.7 614.9,265.7 613.7,265.7 612.4,265.7 611.1,265.7 609.8,265.7 608.6,265.7 608.0,265.7 607.3,265.7 606.0,265.7 604.7,265.7 603.5,265.7 602.2,265.7 602.0,265.7 600.9,265.7 599.6,265.7 598.4,265.7 597.1,265.7 596.0,265.7 595.8,265.7 594.5,265.7 593.3,265.7 592.0,265.7 590.7,265.7 590.0,265.7 589.4,265.7 588.2,265.7 586.9,265.7 585.6,265.7 584.3,265.7 583.1,265.7 582.0,265.7 581.8,265.7 580.5,265.7 579.2,265.7 578.0,265.7 576.7,265.7 575.4,265.7 575.0,265.7 574.1,265.7 572.9,265.7 571.6,265.7 570.3,265.7 569.0,265.7 567.8,265.7 566.5,265.7 565.4,265.7 565.2,265.7 Z" fill="url(#g24)"/>
<path d="M567.0 258.7h.9v1.2h-.9zM568.4 260.6h.9v1.6h-.9zM573.6 259.8h.9v0.9h-.9zM575.3 264.4h.9v0.9h-.9zM579.1 263.4h.9v1.6h-.9zM581.5 259.3h.9v1.2h-.9zM584.7 258.9h.9v1.2h-.9zM589.7 259.1h.9v1.6h-.9zM592.5 263.4h.9v0.9h-.9zM593.5 263.4h.9v1.6h-.9zM598.9 262.7h.9v0.9h-.9zM602.5 261.7h.9v1.6h-.9zM605.0 261.6h.9v1.2h-.9zM608.1 262.4h.9v0.9h-.9zM609.9 259.3h.9v0.9h-.9zM614.4 263.7h.9v1.6h-.9zM616.6 263.6h.9v1.2h-.9zM621.5 263.0h.9v1.2h-.9zM623.9 260.1h.9v1.2h-.9zM625.9 260.0h.9v1.6h-.9zM630.8 264.9h.9v1.2h-.9zM633.6 264.7h.9v0.9h-.9zM635.0 263.4h.9v1.6h-.9zM638.2 263.7h.9v0.9h-.9zM640.7 261.5h.9v0.9h-.9zM646.3 264.3h.9v1.6h-.9zM647.3 263.0h.9v1.2h-.9zM651.0 261.4h.9v1.6h-.9zM655.6 263.0h.9v1.2h-.9zM657.4 259.1h.9v1.6h-.9zM660.5 261.1h.9v0.9h-.9zM663.0 264.0h.9v1.6h-.9zM666.1 261.7h.9v1.2h-.9zM670.9 262.2h.9v1.6h-.9zM672.7 262.2h.9v1.6h-.9zM678.5 264.7h.9v1.2h-.9z" fill="#6F99AD" fill-opacity="0.9"/>
<circle cx="604.70" cy="262.26" r="2.35" fill="#6F99AD" stroke="#1e2a30" stroke-width="1.2"/>
<text x="-0.70" y="330.60" font-size="20" text-anchor="start" font-weight="bold" >c</text>
<rect x="47.65" y="529.30" width="23.3" height="62.70" fill="#6F99AD"/>
<rect x="73.43" y="528.83" width="23.3" height="0.47" fill="#BC3C29"/>
<rect x="73.43" y="529.30" width="23.3" height="62.70" fill="#6F99AD"/>
<rect x="99.21" y="527.11" width="23.3" height="2.19" fill="#BC3C29"/>
<rect x="99.21" y="529.30" width="23.3" height="62.70" fill="#6F99AD"/>
<rect x="124.99" y="515.00" width="23.3" height="14.30" fill="#BC3C29"/>
<rect x="124.99" y="529.30" width="23.3" height="62.70" fill="#6F99AD"/>
<rect x="150.77" y="484.78" width="23.3" height="44.52" fill="#BC3C29"/>
<rect x="150.77" y="529.30" width="23.3" height="62.70" fill="#6F99AD"/>
<rect x="176.55" y="428.35" width="23.3" height="100.95" fill="#BC3C29"/>
<rect x="176.55" y="529.30" width="23.3" height="62.70" fill="#6F99AD"/>
<rect x="202.33" y="375.06" width="23.3" height="154.24" fill="#BC3C29"/>
<rect x="202.33" y="529.30" width="23.3" height="62.70" fill="#6F99AD"/>
<rect x="228.11" y="344.33" width="23.3" height="184.96" fill="#BC3C29"/>
<rect x="228.11" y="529.30" width="23.3" height="62.70" fill="#6F99AD"/>
<rect x="253.89" y="330.85" width="23.3" height="198.45" fill="#BC3C29"/>
<rect x="253.89" y="529.30" width="23.3" height="62.70" fill="#6F99AD"/>
<rect x="279.67" y="326.78" width="23.3" height="202.52" fill="#BC3C29"/>
<rect x="279.67" y="529.30" width="23.3" height="62.70" fill="#6F99AD"/>
<rect x="305.45" y="335.24" width="23.3" height="194.06" fill="#BC3C29"/>
<rect x="305.45" y="529.30" width="23.3" height="62.70" fill="#6F99AD"/>
<line x1="40.60" y1="529.90" x2="330.70" y2="529.90" stroke="#000" stroke-width="1.8" stroke-dasharray="6.8 6.6"/>
<line x1="41.20" y1="324.00" x2="41.20" y2="592.70" stroke="#000" stroke-width="1.7" />
<line x1="40.50" y1="592.00" x2="335.70" y2="592.00" stroke="#000" stroke-width="1.7" />
<line x1="34.30" y1="592.00" x2="41.20" y2="592.00" stroke="#000" stroke-width="1.7" />
<text x="32.30" y="596.10" font-size="10.2" text-anchor="end" font-weight="bold" >0.0</text>
<line x1="34.30" y1="529.30" x2="41.20" y2="529.30" stroke="#000" stroke-width="1.7" />
<text x="32.30" y="533.40" font-size="10.2" text-anchor="end" font-weight="bold" >0.2</text>
<line x1="34.30" y1="466.60" x2="41.20" y2="466.60" stroke="#000" stroke-width="1.7" />
<text x="32.30" y="470.70" font-size="10.2" text-anchor="end" font-weight="bold" >0.4</text>
<line x1="34.30" y1="403.90" x2="41.20" y2="403.90" stroke="#000" stroke-width="1.7" />
<text x="32.30" y="408.00" font-size="10.2" text-anchor="end" font-weight="bold" >0.6</text>
<line x1="34.30" y1="341.20" x2="41.20" y2="341.20" stroke="#000" stroke-width="1.7" />
<text x="32.30" y="345.30" font-size="10.2" text-anchor="end" font-weight="bold" >0.8</text>
<line x1="59.30" y1="592.00" x2="59.30" y2="598.00" stroke="#000" stroke-width="1.7" />
<text x="59.30" y="608.80" font-size="10.2" text-anchor="middle" font-weight="bold" >0.0</text>
<line x1="110.86" y1="592.00" x2="110.86" y2="598.00" stroke="#000" stroke-width="1.7" />
<text x="110.86" y="608.80" font-size="10.2" text-anchor="middle" font-weight="bold" >0.2</text>
<line x1="162.42" y1="592.00" x2="162.42" y2="598.00" stroke="#000" stroke-width="1.7" />
<text x="162.42" y="608.80" font-size="10.2" text-anchor="middle" font-weight="bold" >0.4</text>
<line x1="213.98" y1="592.00" x2="213.98" y2="598.00" stroke="#000" stroke-width="1.7" />
<text x="213.98" y="608.80" font-size="10.2" text-anchor="middle" font-weight="bold" >0.6</text>
<line x1="265.54" y1="592.00" x2="265.54" y2="598.00" stroke="#000" stroke-width="1.7" />
<text x="265.54" y="608.80" font-size="10.2" text-anchor="middle" font-weight="bold" >0.8</text>
<line x1="317.10" y1="592.00" x2="317.10" y2="598.00" stroke="#000" stroke-width="1.7" />
<text x="317.10" y="608.80" font-size="10.2" text-anchor="middle" font-weight="bold" >1.0</text>
<text x="188.20" y="621.30" font-size="10.45" text-anchor="middle" font-weight="bold" >Probability threshold</text>
<text x="0.00" y="0.00" font-size="10.55" text-anchor="middle" font-weight="bold" transform="translate(12.9,458.4) rotate(-90)">Fraction of persons with autoantibodies</text>
<text x="347.50" y="330.60" font-size="20" text-anchor="start" font-weight="bold" >d</text>
<rect x="410.00" y="344.00" width="22" height="198.80" fill="#6F99AD"/>
<rect x="410.00" y="542.80" width="22" height="49.20" fill="#BC3C29"/>
<rect x="434.55" y="345.00" width="22" height="197.80" fill="#6F99AD"/>
<rect x="434.55" y="542.80" width="22" height="49.20" fill="#BC3C29"/>
<rect x="459.10" y="358.90" width="22" height="184.90" fill="#6F99AD"/>
<rect x="459.10" y="543.80" width="22" height="48.20" fill="#BC3C29"/>
<rect x="483.65" y="409.10" width="22" height="137.70" fill="#6F99AD"/>
<rect x="483.65" y="546.80" width="22" height="45.20" fill="#BC3C29"/>
<rect x="508.20" y="484.40" width="22" height="70.80" fill="#6F99AD"/>
<rect x="508.20" y="555.20" width="22" height="36.80" fill="#BC3C29"/>
<rect x="532.75" y="548.90" width="22" height="21.00" fill="#6F99AD"/>
<rect x="532.75" y="569.90" width="22" height="22.10" fill="#BC3C29"/>
<rect x="557.30" y="577.60" width="22" height="4.30" fill="#6F99AD"/>
<rect x="557.30" y="581.90" width="22" height="10.10" fill="#BC3C29"/>
<rect x="581.85" y="588.20" width="22" height="1.00" fill="#6F99AD"/>
<rect x="581.85" y="589.20" width="22" height="2.80" fill="#BC3C29"/>
<line x1="403.60" y1="324.30" x2="403.60" y2="592.80" stroke="#000" stroke-width="1.7" />
<line x1="402.90" y1="592.00" x2="684.00" y2="592.00" stroke="#000" stroke-width="1.7" />
<line x1="397.00" y1="592.00" x2="403.60" y2="592.00" stroke="#000" stroke-width="1.7" />
<text x="394.80" y="596.10" font-size="10.2" text-anchor="end" font-weight="bold" >0</text>
<line x1="397.00" y1="503.00" x2="403.60" y2="503.00" stroke="#000" stroke-width="1.7" />
<text x="394.80" y="507.10" font-size="10.2" text-anchor="end" font-weight="bold" >10000</text>
<line x1="397.00" y1="414.00" x2="403.60" y2="414.00" stroke="#000" stroke-width="1.7" />
<text x="394.80" y="418.10" font-size="10.2" text-anchor="end" font-weight="bold" >20000</text>
<line x1="397.00" y1="325.00" x2="403.60" y2="325.00" stroke="#000" stroke-width="1.7" />
<text x="394.80" y="329.10" font-size="10.2" text-anchor="end" font-weight="bold" >30000</text>
<line x1="421.00" y1="592.00" x2="421.00" y2="598.10" stroke="#000" stroke-width="1.7" />
<text x="421.00" y="608.90" font-size="10.2" text-anchor="middle" font-weight="bold" >0.0</text>
<line x1="470.10" y1="592.00" x2="470.10" y2="598.10" stroke="#000" stroke-width="1.7" />
<text x="470.10" y="608.90" font-size="10.2" text-anchor="middle" font-weight="bold" >0.2</text>
<line x1="519.20" y1="592.00" x2="519.20" y2="598.10" stroke="#000" stroke-width="1.7" />
<text x="519.20" y="608.90" font-size="10.2" text-anchor="middle" font-weight="bold" >0.4</text>
<line x1="568.30" y1="592.00" x2="568.30" y2="598.10" stroke="#000" stroke-width="1.7" />
<text x="568.30" y="608.90" font-size="10.2" text-anchor="middle" font-weight="bold" >0.6</text>
<line x1="617.40" y1="592.00" x2="617.40" y2="598.10" stroke="#000" stroke-width="1.7" />
<text x="617.40" y="608.90" font-size="10.2" text-anchor="middle" font-weight="bold" >0.8</text>
<line x1="666.50" y1="592.00" x2="666.50" y2="598.10" stroke="#000" stroke-width="1.7" />
<text x="666.50" y="608.90" font-size="10.2" text-anchor="middle" font-weight="bold" >1.0</text>
<text x="543.50" y="621.20" font-size="10.45" text-anchor="middle" font-weight="bold" >Probability threshold</text>
<text x="0.00" y="0.00" font-size="10.52" text-anchor="middle" font-weight="bold" transform="translate(361.4,457.8) rotate(-90)">Number of untested individuals</text>
</svg>
</body></html>
